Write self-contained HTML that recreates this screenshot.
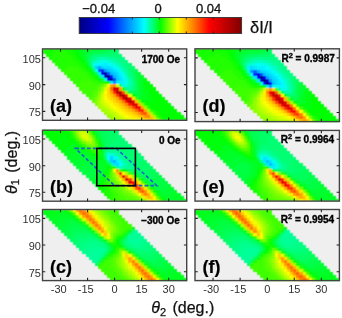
<!DOCTYPE html>
<html><head><meta charset="utf-8"><style>
html,body{margin:0;padding:0;background:#fff;}
svg{display:block;will-change:transform;}
text{font-family:"Liberation Sans",sans-serif;fill:#1a1a1a;}
.tk{font-size:11px;fill:#303030;}
.cbl{font-size:13px;fill:#111;stroke:#111;stroke-width:0.3px;}
.dil{font-size:16.5px;fill:#111;stroke:#111;stroke-width:0.25px;}
.pl{font-size:18px;font-weight:bold;fill:#000;stroke:#000;stroke-width:0.2px;}
.ob{font-size:10px;font-weight:bold;fill:#000;stroke:#000;stroke-width:0.35px;}
.sup{font-size:7.5px;}
.al{font-size:16px;fill:#111;stroke:#111;stroke-width:0.25px;}
.th{font-style:italic;}
.sub{font-size:11px;}
</style></head><body>
<svg width="342" height="318" viewBox="0 0 342 318">
<defs><filter id="bl" x="-5%" y="-5%" width="110%" height="110%"><feConvolveMatrix order="3" kernelMatrix="1 2 1 2 8 2 1 2 1" divisor="20" edgeMode="none"/></filter></defs>
<rect x="0" y="0" width="342" height="318" fill="#fff"/>
<rect x="42.50" y="48.90" width="144.20" height="71.40" fill="#efefef"/>
<g shape-rendering="crispEdges" filter="url(#bl)"><path fill="#18ff00" d="M42.6 48.9H45.7V51.0H42.6zM45.7 48.9H48.7V51.0H45.7zM48.7 48.9H51.8V51.0H48.7zM51.8 48.9H54.8V51.0H51.8zM54.8 48.9H57.9V51.0H54.8zM57.9 48.9H61.0V51.0H57.9zM61.0 48.9H64.0V51.0H61.0zM64.0 48.9H67.1V51.0H64.0zM67.1 48.9H70.2V51.0H67.1zM42.6 51.0H45.7V54.0H42.6zM45.7 51.0H48.7V54.0H45.7zM48.7 51.0H51.8V54.0H48.7zM51.8 51.0H54.8V54.0H51.8zM67.1 51.0H70.2V54.0H67.1zM70.2 51.0H73.2V54.0H70.2zM45.7 54.0H48.7V57.1H45.7zM48.7 54.0H51.8V57.1H48.7zM70.2 54.0H73.2V57.1H70.2zM73.2 54.0H76.3V57.1H73.2zM48.7 57.1H51.8V60.1H48.7zM73.2 57.1H76.3V60.1H73.2zM76.3 60.1H79.4V63.1H76.3zM79.4 63.1H82.4V66.2H79.4zM82.4 66.2H85.5V69.2H82.4zM85.5 69.2H88.6V72.2H85.5zM88.6 72.2H91.6V75.3H88.6zM91.6 75.3H94.7V78.3H91.6zM94.7 78.3H97.7V81.4H94.7zM122.3 87.4H125.3V90.5H122.3zM143.7 102.6H146.8V105.6H143.7z"/>
<path fill="#0cff00" d="M70.2 48.9H73.2V51.0H70.2zM73.2 51.0H76.3V54.0H73.2zM76.3 57.1H79.4V60.1H76.3zM79.4 60.1H82.4V63.1H79.4zM82.4 63.1H85.5V66.2H82.4zM152.9 108.7H156.0V111.7H152.9zM156.0 111.7H159.0V114.7H156.0zM159.0 114.7H162.1V117.8H159.0zM162.1 117.8H165.2V120.3H162.1z"/>
<path fill="#00ff00" d="M73.2 48.9H76.3V51.0H73.2zM76.3 51.0H79.4V54.0H76.3zM76.3 54.0H79.4V57.1H76.3zM79.4 57.1H82.4V60.1H79.4zM85.5 66.2H88.6V69.2H85.5zM97.7 78.3H100.8V81.4H97.7zM106.9 81.4H110.0V84.4H106.9zM149.8 84.4H152.9V87.4H149.8zM149.8 87.4H152.9V90.5H149.8zM152.9 87.4H156.0V90.5H152.9zM149.8 90.5H152.9V93.5H149.8zM152.9 90.5H156.0V93.5H152.9zM156.0 90.5H159.0V93.5H156.0zM131.5 93.5H134.5V96.5H131.5zM152.9 93.5H156.0V96.5H152.9zM156.0 93.5H159.0V96.5H156.0zM159.0 93.5H162.1V96.5H159.0zM152.9 96.5H156.0V99.6H152.9zM156.0 96.5H159.0V99.6H156.0zM159.0 96.5H162.1V99.6H159.0zM162.1 96.5H165.2V99.6H162.1zM140.6 99.6H143.7V102.6H140.6zM152.9 99.6H156.0V102.6H152.9zM156.0 99.6H159.0V102.6H156.0zM159.0 99.6H162.1V102.6H159.0zM162.1 99.6H165.2V102.6H162.1zM165.2 99.6H168.2V102.6H165.2zM146.8 102.6H149.8V105.6H146.8zM149.8 102.6H152.9V105.6H149.8zM152.9 102.6H156.0V105.6H152.9zM156.0 102.6H159.0V105.6H156.0zM159.0 102.6H162.1V105.6H159.0zM162.1 102.6H165.2V105.6H162.1zM165.2 102.6H168.2V105.6H165.2zM168.2 102.6H171.3V105.6H168.2zM149.8 105.6H152.9V108.7H149.8zM152.9 105.6H156.0V108.7H152.9zM156.0 105.6H159.0V108.7H156.0zM159.0 105.6H162.1V108.7H159.0zM162.1 105.6H165.2V108.7H162.1zM165.2 105.6H168.2V108.7H165.2zM168.2 105.6H171.3V108.7H168.2zM171.3 105.6H174.4V108.7H171.3zM156.0 108.7H159.0V111.7H156.0zM159.0 108.7H162.1V111.7H159.0zM162.1 108.7H165.2V111.7H162.1zM165.2 108.7H168.2V111.7H165.2zM168.2 108.7H171.3V111.7H168.2zM171.3 108.7H174.4V111.7H171.3zM174.4 108.7H177.4V111.7H174.4zM159.0 111.7H162.1V114.7H159.0zM162.1 111.7H165.2V114.7H162.1zM165.2 111.7H168.2V114.7H165.2zM168.2 111.7H171.3V114.7H168.2zM171.3 111.7H174.4V114.7H171.3zM174.4 111.7H177.4V114.7H174.4zM177.4 111.7H180.5V114.7H177.4zM162.1 114.7H165.2V117.8H162.1zM165.2 114.7H168.2V117.8H165.2zM168.2 114.7H171.3V117.8H168.2zM171.3 114.7H174.4V117.8H171.3zM174.4 114.7H177.4V117.8H174.4zM177.4 114.7H180.5V117.8H177.4zM180.5 114.7H183.5V117.8H180.5zM165.2 117.8H168.2V120.3H165.2zM168.2 117.8H171.3V120.3H168.2zM171.3 117.8H174.4V120.3H171.3zM174.4 117.8H177.4V120.3H174.4zM177.4 117.8H180.5V120.3H177.4zM180.5 117.8H183.5V120.3H180.5zM183.5 117.8H186.6V120.3H183.5z"/>
<path fill="#00ff0d" d="M76.3 48.9H79.4V51.0H76.3zM79.4 54.0H82.4V57.1H79.4zM82.4 60.1H85.5V63.1H82.4zM88.6 69.2H91.6V72.2H88.6zM91.6 72.2H94.7V75.3H91.6zM94.7 75.3H97.7V78.3H94.7zM143.7 78.3H146.8V81.4H143.7zM143.7 81.4H146.8V84.4H143.7zM146.8 81.4H149.8V84.4H146.8zM143.7 84.4H146.8V87.4H143.7zM146.8 84.4H149.8V87.4H146.8zM143.7 87.4H146.8V90.5H143.7zM146.8 87.4H149.8V90.5H146.8zM146.8 90.5H149.8V93.5H146.8zM146.8 93.5H149.8V96.5H146.8zM149.8 93.5H152.9V96.5H149.8zM146.8 96.5H149.8V99.6H146.8zM149.8 96.5H152.9V99.6H149.8zM143.7 99.6H146.8V102.6H143.7zM146.8 99.6H149.8V102.6H146.8zM149.8 99.6H152.9V102.6H149.8z"/>
<path fill="#00ff1a" d="M79.4 48.9H82.4V51.0H79.4zM82.4 48.9H85.5V51.0H82.4zM79.4 51.0H82.4V54.0H79.4zM82.4 57.1H85.5V60.1H82.4zM85.5 63.1H88.6V66.2H85.5zM140.6 78.3H143.7V81.4H140.6zM140.6 81.4H143.7V84.4H140.6zM140.6 84.4H143.7V87.4H140.6zM143.7 90.5H146.8V93.5H143.7zM143.7 93.5H146.8V96.5H143.7zM137.6 96.5H140.6V99.6H137.6zM140.6 96.5H143.7V99.6H140.6zM143.7 96.5H146.8V99.6H143.7z"/>
<path fill="#00ff26" d="M85.5 48.9H88.6V51.0H85.5zM88.6 48.9H91.6V51.0H88.6zM82.4 51.0H85.5V54.0H82.4zM82.4 54.0H85.5V57.1H82.4zM140.6 75.3H143.7V78.3H140.6zM140.6 87.4H143.7V90.5H140.6zM140.6 90.5H143.7V93.5H140.6zM140.6 93.5H143.7V96.5H140.6z"/>
<path fill="#00ff33" d="M91.6 48.9H94.7V51.0H91.6zM94.7 48.9H97.7V51.0H94.7zM97.7 48.9H100.8V51.0H97.7zM100.8 48.9H103.9V51.0H100.8zM85.5 51.0H88.6V54.0H85.5zM88.6 66.2H91.6V69.2H88.6zM137.6 72.2H140.6V75.3H137.6zM137.6 75.3H140.6V78.3H137.6zM100.8 78.3H103.9V81.4H100.8zM137.6 78.3H140.6V81.4H137.6zM137.6 81.4H140.6V84.4H137.6zM137.6 84.4H140.6V87.4H137.6zM137.6 87.4H140.6V90.5H137.6zM137.6 90.5H140.6V93.5H137.6zM134.5 93.5H137.6V96.5H134.5zM137.6 93.5H140.6V96.5H137.6z"/>
<path fill="#00ff40" d="M103.9 48.9H106.9V51.0H103.9zM88.6 51.0H91.6V54.0H88.6zM85.5 54.0H88.6V57.1H85.5zM85.5 57.1H88.6V60.1H85.5zM85.5 60.1H88.6V63.1H85.5zM91.6 69.2H94.7V72.2H91.6zM128.4 90.5H131.5V93.5H128.4z"/>
<path fill="#00ff4d" d="M106.9 48.9H110.0V51.0H106.9zM91.6 51.0H94.7V54.0H91.6zM94.7 51.0H97.7V54.0H94.7zM97.7 51.0H100.8V54.0H97.7zM100.8 51.0H103.9V54.0H100.8zM134.5 69.2H137.6V72.2H134.5zM94.7 72.2H97.7V75.3H94.7zM134.5 72.2H137.6V75.3H134.5zM97.7 75.3H100.8V78.3H97.7zM134.5 75.3H137.6V78.3H134.5zM134.5 78.3H137.6V81.4H134.5zM134.5 81.4H137.6V84.4H134.5zM134.5 90.5H137.6V93.5H134.5z"/>
<path fill="#00ff59" d="M110.0 48.9H113.1V51.0H110.0zM113.1 48.9H116.1V51.0H113.1zM103.9 51.0H106.9V54.0H103.9zM106.9 51.0H110.0V54.0H106.9zM88.6 54.0H91.6V57.1H88.6zM134.5 84.4H137.6V87.4H134.5zM134.5 87.4H137.6V90.5H134.5zM131.5 90.5H134.5V93.5H131.5z"/>
<path fill="#00ff66" d="M116.1 48.9H119.2V51.0H116.1zM110.0 51.0H113.1V54.0H110.0zM113.1 51.0H116.1V54.0H113.1zM91.6 54.0H94.7V57.1H91.6zM88.6 57.1H91.6V60.1H88.6zM88.6 63.1H91.6V66.2H88.6zM131.5 66.2H134.5V69.2H131.5zM131.5 69.2H134.5V72.2H131.5zM131.5 72.2H134.5V75.3H131.5zM131.5 75.3H134.5V78.3H131.5zM119.2 84.4H122.3V87.4H119.2z"/>
<path fill="#24ff00" d="M54.8 51.0H57.9V54.0H54.8zM57.9 51.0H61.0V54.0H57.9zM61.0 51.0H64.0V54.0H61.0zM64.0 51.0H67.1V54.0H64.0zM51.8 54.0H54.8V57.1H51.8zM54.8 54.0H57.9V57.1H54.8zM57.9 54.0H61.0V57.1H57.9zM61.0 54.0H64.0V57.1H61.0zM64.0 54.0H67.1V57.1H64.0zM67.1 54.0H70.2V57.1H67.1zM51.8 57.1H54.8V60.1H51.8zM54.8 57.1H57.9V60.1H54.8zM57.9 57.1H61.0V60.1H57.9zM61.0 57.1H64.0V60.1H61.0zM64.0 57.1H67.1V60.1H64.0zM67.1 57.1H70.2V60.1H67.1zM70.2 57.1H73.2V60.1H70.2zM51.8 60.1H54.8V63.1H51.8zM54.8 60.1H57.9V63.1H54.8zM57.9 60.1H61.0V63.1H57.9zM61.0 60.1H64.0V63.1H61.0zM64.0 60.1H67.1V63.1H64.0zM67.1 60.1H70.2V63.1H67.1zM70.2 60.1H73.2V63.1H70.2zM73.2 60.1H76.3V63.1H73.2zM54.8 63.1H57.9V66.2H54.8zM57.9 63.1H61.0V66.2H57.9zM61.0 63.1H64.0V66.2H61.0zM64.0 63.1H67.1V66.2H64.0zM67.1 63.1H70.2V66.2H67.1zM70.2 63.1H73.2V66.2H70.2zM73.2 63.1H76.3V66.2H73.2zM76.3 63.1H79.4V66.2H76.3zM57.9 66.2H61.0V69.2H57.9zM61.0 66.2H64.0V69.2H61.0zM64.0 66.2H67.1V69.2H64.0zM79.4 66.2H82.4V69.2H79.4zM61.0 69.2H64.0V72.2H61.0zM82.4 69.2H85.5V72.2H82.4zM85.5 72.2H88.6V75.3H85.5zM88.6 75.3H91.6V78.3H88.6zM91.6 78.3H94.7V81.4H91.6zM97.7 81.4H100.8V84.4H97.7zM100.8 81.4H103.9V84.4H100.8zM103.9 81.4H106.9V84.4H103.9zM146.8 105.6H149.8V108.7H146.8zM149.8 108.7H152.9V111.7H149.8z"/>
<path fill="#00ff73" d="M116.1 51.0H119.2V54.0H116.1zM94.7 54.0H97.7V57.1H94.7zM97.7 54.0H100.8V57.1H97.7zM103.9 54.0H106.9V57.1H103.9zM106.9 54.0H110.0V57.1H106.9zM110.0 54.0H113.1V57.1H110.0zM113.1 54.0H116.1V57.1H113.1zM116.1 54.0H119.2V57.1H116.1zM119.2 54.0H122.3V57.1H119.2zM88.6 60.1H91.6V63.1H88.6zM128.4 63.1H131.5V66.2H128.4zM128.4 66.2H131.5V69.2H128.4zM128.4 69.2H131.5V72.2H128.4zM131.5 78.3H134.5V81.4H131.5zM131.5 87.4H134.5V90.5H131.5z"/>
<path fill="#00ff80" d="M100.8 54.0H103.9V57.1H100.8zM91.6 57.1H94.7V60.1H91.6zM116.1 57.1H119.2V60.1H116.1zM119.2 57.1H122.3V60.1H119.2zM122.3 57.1H125.3V60.1H122.3zM122.3 60.1H125.3V63.1H122.3zM125.3 60.1H128.4V63.1H125.3zM125.3 63.1H128.4V66.2H125.3zM125.3 66.2H128.4V69.2H125.3zM128.4 72.2H131.5V75.3H128.4zM131.5 81.4H134.5V84.4H131.5zM131.5 84.4H134.5V87.4H131.5z"/>
<path fill="#00ff99" d="M94.7 57.1H97.7V60.1H94.7zM106.9 57.1H110.0V60.1H106.9zM110.0 57.1H113.1V60.1H110.0zM116.1 60.1H119.2V63.1H116.1zM119.2 63.1H122.3V66.2H119.2zM122.3 66.2H125.3V69.2H122.3zM125.3 69.2H128.4V72.2H125.3zM128.4 87.4H131.5V90.5H128.4z"/>
<path fill="#00ffa6" d="M97.7 57.1H100.8V60.1H97.7zM103.9 57.1H106.9V60.1H103.9zM91.6 60.1H94.7V63.1H91.6zM113.1 60.1H116.1V63.1H113.1zM91.6 66.2H94.7V69.2H91.6zM125.3 72.2H128.4V75.3H125.3zM128.4 78.3H131.5V81.4H128.4zM128.4 84.4H131.5V87.4H128.4z"/>
<path fill="#00ffb3" d="M100.8 57.1H103.9V60.1H100.8zM116.1 63.1H119.2V66.2H116.1zM122.3 69.2H125.3V72.2H122.3zM128.4 81.4H131.5V84.4H128.4z"/>
<path fill="#00ff8c" d="M113.1 57.1H116.1V60.1H113.1zM119.2 60.1H122.3V63.1H119.2zM122.3 63.1H125.3V66.2H122.3zM128.4 75.3H131.5V78.3H128.4zM125.3 87.4H128.4V90.5H125.3z"/>
<path fill="#00ffbf" d="M94.7 60.1H97.7V63.1H94.7zM110.0 60.1H113.1V63.1H110.0zM119.2 66.2H122.3V69.2H119.2zM125.3 75.3H128.4V78.3H125.3z"/>
<path fill="#00ffd9" d="M97.7 60.1H100.8V63.1H97.7zM106.9 60.1H110.0V63.1H106.9zM91.6 63.1H94.7V66.2H91.6zM113.1 63.1H116.1V66.2H113.1zM122.3 72.2H125.3V75.3H122.3zM103.9 78.3H106.9V81.4H103.9zM125.3 78.3H128.4V81.4H125.3zM122.3 84.4H125.3V87.4H122.3zM125.3 84.4H128.4V87.4H125.3z"/>
<path fill="#00ffe6" d="M100.8 60.1H103.9V63.1H100.8zM103.9 60.1H106.9V63.1H103.9zM116.1 66.2H119.2V69.2H116.1zM119.2 69.2H122.3V72.2H119.2zM125.3 81.4H128.4V84.4H125.3z"/>
<path fill="#00f9ff" d="M94.7 63.1H97.7V66.2H94.7zM97.7 63.1H100.8V66.2H97.7zM106.9 63.1H110.0V66.2H106.9zM113.1 66.2H116.1V69.2H113.1zM119.2 72.2H122.3V75.3H119.2z"/>
<path fill="#00f4ff" d="M100.8 63.1H103.9V66.2H100.8zM116.1 69.2H119.2V72.2H116.1zM122.3 78.3H125.3V81.4H122.3zM122.3 81.4H125.3V84.4H122.3z"/>
<path fill="#00eeff" d="M103.9 63.1H106.9V66.2H103.9zM116.1 81.4H119.2V84.4H116.1zM119.2 81.4H122.3V84.4H119.2z"/>
<path fill="#00fff2" d="M110.0 63.1H113.1V66.2H110.0zM94.7 69.2H97.7V72.2H94.7z"/>
<path fill="#31ff00" d="M67.1 66.2H70.2V69.2H67.1zM70.2 66.2H73.2V69.2H70.2zM73.2 66.2H76.3V69.2H73.2zM76.3 66.2H79.4V69.2H76.3zM64.0 69.2H67.1V72.2H64.0zM67.1 69.2H70.2V72.2H67.1zM70.2 69.2H73.2V72.2H70.2zM73.2 69.2H76.3V72.2H73.2zM76.3 69.2H79.4V72.2H76.3zM79.4 69.2H82.4V72.2H79.4zM64.0 72.2H67.1V75.3H64.0zM67.1 72.2H70.2V75.3H67.1zM70.2 72.2H73.2V75.3H70.2zM73.2 72.2H76.3V75.3H73.2zM76.3 72.2H79.4V75.3H76.3zM79.4 72.2H82.4V75.3H79.4zM82.4 72.2H85.5V75.3H82.4zM67.1 75.3H70.2V78.3H67.1zM70.2 75.3H73.2V78.3H70.2zM73.2 75.3H76.3V78.3H73.2zM76.3 75.3H79.4V78.3H76.3zM79.4 75.3H82.4V78.3H79.4zM82.4 75.3H85.5V78.3H82.4zM85.5 75.3H88.6V78.3H85.5zM70.2 78.3H73.2V81.4H70.2zM73.2 78.3H76.3V81.4H73.2zM76.3 78.3H79.4V81.4H76.3zM79.4 78.3H82.4V81.4H79.4zM82.4 78.3H85.5V81.4H82.4zM85.5 78.3H88.6V81.4H85.5zM88.6 78.3H91.6V81.4H88.6zM73.2 81.4H76.3V84.4H73.2zM76.3 81.4H79.4V84.4H76.3zM91.6 81.4H94.7V84.4H91.6zM94.7 81.4H97.7V84.4H94.7zM76.3 84.4H79.4V87.4H76.3zM152.9 111.7H156.0V114.7H152.9zM156.0 114.7H159.0V117.8H156.0zM159.0 117.8H162.1V120.3H159.0z"/>
<path fill="#00c6ff" d="M94.7 66.2H97.7V69.2H94.7zM106.9 69.2H110.0V72.2H106.9z"/>
<path fill="#00a9ff" d="M97.7 66.2H100.8V69.2H97.7z"/>
<path fill="#00d1ff" d="M100.8 66.2H103.9V69.2H100.8zM110.0 69.2H113.1V72.2H110.0zM116.1 75.3H119.2V78.3H116.1z"/>
<path fill="#00ddff" d="M103.9 66.2H106.9V69.2H103.9zM106.9 66.2H110.0V69.2H106.9zM116.1 72.2H119.2V75.3H116.1z"/>
<path fill="#00e8ff" d="M110.0 66.2H113.1V69.2H110.0zM97.7 72.2H100.8V75.3H97.7zM100.8 75.3H103.9V78.3H100.8zM119.2 75.3H122.3V78.3H119.2z"/>
<path fill="#004dff" d="M97.7 69.2H100.8V72.2H97.7z"/>
<path fill="#001fff" d="M100.8 69.2H103.9V72.2H100.8zM110.0 75.3H113.1V78.3H110.0z"/>
<path fill="#0098ff" d="M103.9 69.2H106.9V72.2H103.9z"/>
<path fill="#00e2ff" d="M113.1 69.2H116.1V72.2H113.1zM119.2 78.3H122.3V81.4H119.2zM110.0 81.4H113.1V84.4H110.0z"/>
<path fill="#0000e7" d="M100.8 72.2H103.9V75.3H100.8z"/>
<path fill="#0000aa" d="M103.9 72.2H106.9V75.3H103.9z"/>
<path fill="#0053ff" d="M106.9 72.2H110.0V75.3H106.9z"/>
<path fill="#00baff" d="M110.0 72.2H113.1V75.3H110.0z"/>
<path fill="#00cbff" d="M113.1 72.2H116.1V75.3H113.1zM116.1 78.3H119.2V81.4H116.1z"/>
<path fill="#0000cb" d="M103.9 75.3H106.9V78.3H103.9z"/>
<path fill="#000080" d="M106.9 75.3H110.0V78.3H106.9z"/>
<path fill="#00b4ff" d="M113.1 75.3H116.1V78.3H113.1z"/>
<path fill="#00ffff" d="M122.3 75.3H125.3V78.3H122.3z"/>
<path fill="#0000fd" d="M106.9 78.3H110.0V81.4H106.9z"/>
<path fill="#00009c" d="M110.0 78.3H113.1V81.4H110.0z"/>
<path fill="#0047ff" d="M113.1 78.3H116.1V81.4H113.1z"/>
<path fill="#3dff00" d="M79.4 81.4H82.4V84.4H79.4zM82.4 81.4H85.5V84.4H82.4zM85.5 81.4H88.6V84.4H85.5zM88.6 81.4H91.6V84.4H88.6zM79.4 84.4H82.4V87.4H79.4zM82.4 84.4H85.5V87.4H82.4zM85.5 84.4H88.6V87.4H85.5zM88.6 84.4H91.6V87.4H88.6zM91.6 84.4H94.7V87.4H91.6zM94.7 84.4H97.7V87.4H94.7zM79.4 87.4H82.4V90.5H79.4zM82.4 87.4H85.5V90.5H82.4zM85.5 87.4H88.6V90.5H85.5zM88.6 87.4H91.6V90.5H88.6zM91.6 87.4H94.7V90.5H91.6zM82.4 90.5H85.5V93.5H82.4zM85.5 90.5H88.6V93.5H85.5zM88.6 90.5H91.6V93.5H88.6zM85.5 93.5H88.6V96.5H85.5zM88.6 93.5H91.6V96.5H88.6zM134.5 96.5H137.6V99.6H134.5z"/>
<path fill="#008cff" d="M113.1 81.4H116.1V84.4H113.1z"/>
<path fill="#49ff00" d="M97.7 84.4H100.8V87.4H97.7zM94.7 87.4H97.7V90.5H94.7zM91.6 90.5H94.7V93.5H91.6zM91.6 93.5H94.7V96.5H91.6zM88.6 96.5H91.6V99.6H88.6z"/>
<path fill="#61ff00" d="M100.8 84.4H103.9V87.4H100.8zM97.7 87.4H100.8V90.5H97.7zM94.7 93.5H97.7V96.5H94.7zM91.6 99.6H94.7V102.6H91.6zM137.6 99.6H140.6V102.6H137.6z"/>
<path fill="#92ff00" d="M103.9 84.4H106.9V87.4H103.9zM100.8 87.4H103.9V90.5H100.8zM97.7 93.5H100.8V96.5H97.7zM143.7 105.6H146.8V108.7H143.7zM106.9 114.7H110.0V117.8H106.9zM110.0 117.8H113.1V120.3H110.0zM156.0 117.8H159.0V120.3H156.0z"/>
<path fill="#f3ff00" d="M106.9 84.4H110.0V87.4H106.9zM116.1 108.7H119.2V111.7H116.1zM119.2 111.7H122.3V114.7H119.2z"/>
<path fill="#ffa300" d="M110.0 84.4H113.1V87.4H110.0zM110.0 90.5H113.1V93.5H110.0zM116.1 96.5H119.2V99.6H116.1zM140.6 105.6H143.7V108.7H140.6zM131.5 108.7H134.5V111.7H131.5z"/>
<path fill="#ff9000" d="M113.1 84.4H116.1V87.4H113.1zM128.4 105.6H131.5V108.7H128.4zM137.6 111.7H140.6V114.7H137.6zM143.7 114.7H146.8V117.8H143.7z"/>
<path fill="#dbff00" d="M116.1 84.4H119.2V87.4H116.1zM103.9 87.4H106.9V90.5H103.9zM116.1 111.7H119.2V114.7H116.1zM125.3 117.8H128.4V120.3H125.3z"/>
<path fill="#ffde00" d="M106.9 87.4H110.0V90.5H106.9zM106.9 93.5H110.0V96.5H106.9zM131.5 96.5H134.5V99.6H131.5zM116.1 102.6H119.2V105.6H116.1zM119.2 105.6H122.3V108.7H119.2zM128.4 111.7H131.5V114.7H128.4zM134.5 114.7H137.6V117.8H134.5z"/>
<path fill="#ff6900" d="M110.0 87.4H113.1V90.5H110.0zM122.3 99.6H125.3V102.6H122.3zM134.5 108.7H137.6V111.7H134.5z"/>
<path fill="#d60000" d="M113.1 87.4H116.1V90.5H113.1zM116.1 87.4H119.2V90.5H116.1z"/>
<path fill="#ff9d00" d="M119.2 87.4H122.3V90.5H119.2zM113.1 93.5H116.1V96.5H113.1z"/>
<path fill="#55ff00" d="M94.7 90.5H97.7V93.5H94.7zM91.6 96.5H94.7V99.6H91.6z"/>
<path fill="#79ff00" d="M97.7 90.5H100.8V93.5H97.7zM94.7 96.5H97.7V99.6H94.7zM140.6 102.6H143.7V105.6H140.6z"/>
<path fill="#b6ff00" d="M100.8 90.5H103.9V93.5H100.8zM106.9 108.7H110.0V111.7H106.9zM110.0 111.7H113.1V114.7H110.0zM113.1 114.7H116.1V117.8H113.1zM119.2 117.8H122.3V120.3H119.2z"/>
<path fill="#ffff00" d="M103.9 90.5H106.9V93.5H103.9zM103.9 96.5H106.9V99.6H103.9zM110.0 102.6H113.1V105.6H110.0zM113.1 105.6H116.1V108.7H113.1zM125.3 114.7H128.4V117.8H125.3zM131.5 117.8H134.5V120.3H131.5z"/>
<path fill="#ffd800" d="M106.9 90.5H110.0V93.5H106.9zM110.0 96.5H113.1V99.6H110.0zM113.1 99.6H116.1V102.6H113.1zM143.7 117.8H146.8V120.3H143.7z"/>
<path fill="#ff2700" d="M113.1 90.5H116.1V93.5H113.1z"/>
<path fill="#bc0000" d="M116.1 90.5H119.2V93.5H116.1z"/>
<path fill="#b20000" d="M119.2 90.5H122.3V93.5H119.2z"/>
<path fill="#ff4e00" d="M122.3 90.5H125.3V93.5H122.3zM119.2 96.5H122.3V99.6H119.2zM143.7 111.7H146.8V114.7H143.7z"/>
<path fill="#86ff00" d="M125.3 90.5H128.4V93.5H125.3zM94.7 99.6H97.7V102.6H94.7zM94.7 102.6H97.7V105.6H94.7z"/>
<path fill="#ceff00" d="M100.8 93.5H103.9V96.5H100.8zM100.8 96.5H103.9V99.6H100.8zM100.8 99.6H103.9V102.6H100.8zM103.9 102.6H106.9V105.6H103.9zM106.9 105.6H110.0V108.7H106.9zM110.0 108.7H113.1V111.7H110.0zM119.2 114.7H122.3V117.8H119.2zM122.3 117.8H125.3V120.3H122.3z"/>
<path fill="#fff800" d="M103.9 93.5H106.9V96.5H103.9zM106.9 99.6H110.0V102.6H106.9zM122.3 111.7H125.3V114.7H122.3zM134.5 117.8H137.6V120.3H134.5z"/>
<path fill="#ffc400" d="M110.0 93.5H113.1V96.5H110.0zM113.1 96.5H116.1V99.6H113.1zM116.1 99.6H119.2V102.6H116.1zM146.8 117.8H149.8V120.3H146.8z"/>
<path fill="#ff3400" d="M116.1 93.5H119.2V96.5H116.1z"/>
<path fill="#c60000" d="M119.2 93.5H122.3V96.5H119.2z"/>
<path fill="#a60000" d="M122.3 93.5H125.3V96.5H122.3z"/>
<path fill="#ff0d00" d="M125.3 93.5H128.4V96.5H125.3z"/>
<path fill="#e7ff00" d="M128.4 93.5H131.5V96.5H128.4zM103.9 99.6H106.9V102.6H103.9zM106.9 102.6H110.0V105.6H106.9zM110.0 105.6H113.1V108.7H110.0zM113.1 108.7H116.1V111.7H113.1zM122.3 114.7H125.3V117.8H122.3zM128.4 117.8H131.5V120.3H128.4z"/>
<path fill="#9eff00" d="M97.7 96.5H100.8V99.6H97.7zM97.7 105.6H100.8V108.7H97.7zM100.8 108.7H103.9V111.7H100.8zM146.8 108.7H149.8V111.7H146.8zM103.9 111.7H106.9V114.7H103.9zM149.8 111.7H152.9V114.7H149.8zM110.0 114.7H113.1V117.8H110.0zM152.9 114.7H156.0V117.8H152.9zM113.1 117.8H116.1V120.3H113.1z"/>
<path fill="#ffeb00" d="M106.9 96.5H110.0V99.6H106.9zM110.0 99.6H113.1V102.6H110.0zM113.1 102.6H116.1V105.6H113.1zM125.3 111.7H128.4V114.7H125.3z"/>
<path fill="#d90000" d="M122.3 96.5H125.3V99.6H122.3z"/>
<path fill="#a90000" d="M125.3 96.5H128.4V99.6H125.3z"/>
<path fill="#f20000" d="M128.4 96.5H131.5V99.6H128.4zM125.3 99.6H128.4V102.6H125.3z"/>
<path fill="#aaff00" d="M97.7 99.6H100.8V102.6H97.7zM97.7 102.6H100.8V105.6H97.7zM100.8 105.6H103.9V108.7H100.8zM103.9 108.7H106.9V111.7H103.9zM106.9 111.7H110.0V114.7H106.9zM116.1 117.8H119.2V120.3H116.1z"/>
<path fill="#ffaa00" d="M119.2 99.6H122.3V102.6H119.2zM137.6 102.6H140.6V105.6H137.6zM143.7 108.7H146.8V111.7H143.7z"/>
<path fill="#b90000" d="M128.4 99.6H131.5V102.6H128.4z"/>
<path fill="#ec0000" d="M131.5 99.6H134.5V102.6H131.5z"/>
<path fill="#ffbe00" d="M134.5 99.6H137.6V102.6H134.5zM128.4 108.7H131.5V111.7H128.4z"/>
<path fill="#c2ff00" d="M100.8 102.6H103.9V105.6H100.8zM103.9 105.6H106.9V108.7H103.9zM113.1 111.7H116.1V114.7H113.1zM116.1 114.7H119.2V117.8H116.1z"/>
<path fill="#ffcb00" d="M119.2 102.6H122.3V105.6H119.2zM122.3 105.6H125.3V108.7H122.3zM131.5 111.7H134.5V114.7H131.5zM137.6 114.7H140.6V117.8H137.6zM149.8 114.7H152.9V117.8H149.8z"/>
<path fill="#ffb100" d="M122.3 102.6H125.3V105.6H122.3z"/>
<path fill="#ff7c00" d="M125.3 102.6H128.4V105.6H125.3z"/>
<path fill="#ff1400" d="M128.4 102.6H131.5V105.6H128.4z"/>
<path fill="#d20000" d="M131.5 102.6H134.5V105.6H131.5z"/>
<path fill="#ef0000" d="M134.5 102.6H137.6V105.6H134.5zM134.5 105.6H137.6V108.7H134.5z"/>
<path fill="#fff200" d="M116.1 105.6H119.2V108.7H116.1zM119.2 108.7H122.3V111.7H119.2zM128.4 114.7H131.5V117.8H128.4zM137.6 117.8H140.6V120.3H137.6z"/>
<path fill="#ffb700" d="M125.3 105.6H128.4V108.7H125.3zM134.5 111.7H137.6V114.7H134.5zM146.8 111.7H149.8V114.7H146.8zM140.6 114.7H143.7V117.8H140.6zM149.8 117.8H152.9V120.3H149.8z"/>
<path fill="#ff4100" d="M131.5 105.6H134.5V108.7H131.5z"/>
<path fill="#fc0000" d="M137.6 105.6H140.6V108.7H137.6z"/>
<path fill="#ffe500" d="M122.3 108.7H125.3V111.7H122.3zM131.5 114.7H134.5V117.8H131.5zM140.6 117.8H143.7V120.3H140.6zM152.9 117.8H156.0V120.3H152.9z"/>
<path fill="#ffd100" d="M125.3 108.7H128.4V111.7H125.3z"/>
<path fill="#ff2100" d="M137.6 108.7H140.6V111.7H137.6zM140.6 108.7H143.7V111.7H140.6z"/>
<path fill="#ff5c00" d="M140.6 111.7H143.7V114.7H140.6z"/>
<path fill="#ff8300" d="M146.8 114.7H149.8V117.8H146.8z"/></g>
<rect x="42.50" y="130.20" width="144.20" height="71.00" fill="#efefef"/>
<g shape-rendering="crispEdges" filter="url(#bl)"><path fill="#00ff00" d="M42.6 130.2H45.7V132.3H42.6zM45.7 130.2H48.7V132.3H45.7zM48.7 130.2H51.8V132.3H48.7zM51.8 130.2H54.8V132.3H51.8zM54.8 130.2H57.9V132.3H54.8zM57.9 130.2H61.0V132.3H57.9zM61.0 130.2H64.0V132.3H61.0zM64.0 130.2H67.1V132.3H64.0zM42.6 132.3H45.7V135.3H42.6zM45.7 132.3H48.7V135.3H45.7zM48.7 132.3H51.8V135.3H48.7zM51.8 132.3H54.8V135.3H51.8zM54.8 132.3H57.9V135.3H54.8zM57.9 132.3H61.0V135.3H57.9zM61.0 132.3H64.0V135.3H61.0zM64.0 132.3H67.1V135.3H64.0zM67.1 132.3H70.2V135.3H67.1zM45.7 135.3H48.7V138.3H45.7zM48.7 135.3H51.8V138.3H48.7zM51.8 135.3H54.8V138.3H51.8zM54.8 135.3H57.9V138.3H54.8zM57.9 135.3H61.0V138.3H57.9zM67.1 135.3H70.2V138.3H67.1zM48.7 138.3H51.8V141.3H48.7zM51.8 138.3H54.8V141.3H51.8zM54.8 138.3H57.9V141.3H54.8zM70.2 138.3H73.2V141.3H70.2zM51.8 141.3H54.8V144.4H51.8zM97.7 141.3H100.8V144.4H97.7zM82.4 147.4H85.5V150.4H82.4zM91.6 153.4H94.7V156.4H91.6zM106.9 165.5H110.0V168.5H106.9zM122.3 168.5H125.3V171.5H122.3zM103.9 174.5H106.9V177.6H103.9zM100.8 180.6H103.9V183.6H100.8zM97.7 186.6H100.8V189.6H97.7zM162.1 198.7H165.2V201.2H162.1z"/>
<path fill="#0cff00" d="M67.1 130.2H70.2V132.3H67.1zM91.6 132.3H94.7V135.3H91.6zM70.2 135.3H73.2V138.3H70.2zM73.2 138.3H76.3V141.3H73.2zM76.3 141.3H79.4V144.4H76.3zM79.4 144.4H82.4V147.4H79.4zM97.7 144.4H100.8V147.4H97.7zM88.6 150.4H91.6V153.4H88.6zM94.7 153.4H97.7V156.4H94.7zM97.7 153.4H100.8V156.4H97.7zM106.9 168.5H110.0V171.5H106.9zM134.5 174.5H137.6V177.6H134.5zM103.9 177.6H106.9V180.6H103.9zM100.8 183.6H103.9V186.6H100.8zM100.8 186.6H103.9V189.6H100.8zM149.8 186.6H152.9V189.6H149.8zM100.8 189.6H103.9V192.6H100.8zM152.9 189.6H156.0V192.6H152.9zM156.0 192.6H159.0V195.7H156.0zM159.0 195.7H162.1V198.7H159.0z"/>
<path fill="#31ff00" d="M70.2 130.2H73.2V132.3H70.2zM73.2 135.3H76.3V138.3H73.2zM82.4 144.4H85.5V147.4H82.4zM94.7 150.4H97.7V153.4H94.7zM106.9 177.6H110.0V180.6H106.9zM137.6 177.6H140.6V180.6H137.6zM106.9 180.6H110.0V183.6H106.9zM106.9 183.6H110.0V186.6H106.9zM110.0 189.6H113.1V192.6H110.0zM113.1 192.6H116.1V195.7H113.1zM113.1 195.7H116.1V198.7H113.1zM116.1 198.7H119.2V201.2H116.1z"/>
<path fill="#61ff00" d="M73.2 130.2H76.3V132.3H73.2zM85.5 130.2H88.6V132.3H85.5zM88.6 132.3H91.6V135.3H88.6zM85.5 144.4H88.6V147.4H85.5zM113.1 180.6H116.1V183.6H113.1zM116.1 183.6H119.2V186.6H116.1zM125.3 192.6H128.4V195.7H125.3zM131.5 195.7H134.5V198.7H131.5zM156.0 195.7H159.0V198.7H156.0z"/>
<path fill="#92ff00" d="M76.3 130.2H79.4V132.3H76.3zM76.3 132.3H79.4V135.3H76.3zM113.1 171.5H116.1V174.5H113.1zM131.5 174.5H134.5V177.6H131.5zM128.4 189.6H131.5V192.6H128.4z"/>
<path fill="#aaff00" d="M79.4 130.2H82.4V132.3H79.4zM88.6 141.3H91.6V144.4H88.6zM125.3 171.5H128.4V174.5H125.3zM134.5 192.6H137.6V195.7H134.5z"/>
<path fill="#9eff00" d="M82.4 130.2H85.5V132.3H82.4zM88.6 135.3H91.6V138.3H88.6zM85.5 141.3H88.6V144.4H85.5zM116.1 177.6H119.2V180.6H116.1zM119.2 180.6H122.3V183.6H119.2zM122.3 183.6H125.3V186.6H122.3zM125.3 186.6H128.4V189.6H125.3zM143.7 198.7H146.8V201.2H143.7z"/>
<path fill="#18ff00" d="M88.6 130.2H91.6V132.3H88.6zM70.2 132.3H73.2V135.3H70.2zM97.7 147.4H100.8V150.4H97.7zM97.7 150.4H100.8V153.4H97.7zM110.0 165.5H113.1V168.5H110.0zM106.9 171.5H110.0V174.5H106.9zM103.9 180.6H106.9V183.6H103.9zM103.9 183.6H106.9V186.6H103.9zM103.9 186.6H106.9V189.6H103.9zM103.9 189.6H106.9V192.6H103.9zM103.9 192.6H106.9V195.7H103.9zM106.9 195.7H110.0V198.7H106.9z"/>
<path fill="#00ff26" d="M91.6 130.2H94.7V132.3H91.6zM94.7 132.3H97.7V135.3H94.7zM97.7 138.3H100.8V141.3H97.7zM100.8 147.4H103.9V150.4H100.8zM73.2 150.4H76.3V153.4H73.2zM76.3 150.4H79.4V153.4H76.3zM79.4 150.4H82.4V153.4H79.4zM100.8 150.4H103.9V153.4H100.8zM70.2 153.4H73.2V156.4H70.2zM73.2 153.4H76.3V156.4H73.2zM76.3 153.4H79.4V156.4H76.3zM79.4 153.4H82.4V156.4H79.4zM82.4 153.4H85.5V156.4H82.4zM85.5 153.4H88.6V156.4H85.5zM100.8 153.4H103.9V156.4H100.8zM67.1 156.4H70.2V159.5H67.1zM70.2 156.4H73.2V159.5H70.2zM73.2 156.4H76.3V159.5H73.2zM76.3 156.4H79.4V159.5H76.3zM88.6 156.4H91.6V159.5H88.6zM91.6 156.4H94.7V159.5H91.6zM70.2 159.5H73.2V162.5H70.2zM73.2 159.5H76.3V162.5H73.2zM94.7 159.5H97.7V162.5H94.7zM103.9 159.5H106.9V162.5H103.9zM100.8 162.5H103.9V165.5H100.8zM106.9 162.5H110.0V165.5H106.9zM100.8 165.5H103.9V168.5H100.8zM125.3 168.5H128.4V171.5H125.3zM100.8 171.5H103.9V174.5H100.8zM131.5 171.5H134.5V174.5H131.5zM97.7 177.6H100.8V180.6H97.7zM140.6 177.6H143.7V180.6H140.6zM94.7 180.6H97.7V183.6H94.7zM94.7 183.6H97.7V186.6H94.7zM156.0 189.6H159.0V192.6H156.0zM174.4 189.6H177.4V192.6H174.4zM159.0 192.6H162.1V195.7H159.0zM171.3 192.6H174.4V195.7H171.3zM174.4 192.6H177.4V195.7H174.4zM177.4 192.6H180.5V195.7H177.4zM165.2 195.7H168.2V198.7H165.2zM168.2 195.7H171.3V198.7H168.2zM171.3 195.7H174.4V198.7H171.3zM174.4 195.7H177.4V198.7H174.4zM177.4 195.7H180.5V198.7H177.4zM180.5 195.7H183.5V198.7H180.5zM168.2 198.7H171.3V201.2H168.2zM171.3 198.7H174.4V201.2H171.3zM174.4 198.7H177.4V201.2H174.4zM177.4 198.7H180.5V201.2H177.4z"/>
<path fill="#00ff40" d="M94.7 130.2H97.7V132.3H94.7zM97.7 135.3H100.8V138.3H97.7zM100.8 141.3H103.9V144.4H100.8zM85.5 162.5H88.6V165.5H85.5zM88.6 162.5H91.6V165.5H88.6zM91.6 162.5H94.7V165.5H91.6zM82.4 165.5H85.5V168.5H82.4zM85.5 165.5H88.6V168.5H85.5zM88.6 165.5H91.6V168.5H88.6zM91.6 165.5H94.7V168.5H91.6zM94.7 165.5H97.7V168.5H94.7zM79.4 168.5H82.4V171.5H79.4zM82.4 168.5H85.5V171.5H82.4zM85.5 168.5H88.6V171.5H85.5zM88.6 168.5H91.6V171.5H88.6zM91.6 168.5H94.7V171.5H91.6zM94.7 168.5H97.7V171.5H94.7zM82.4 171.5H85.5V174.5H82.4zM85.5 171.5H88.6V174.5H85.5zM88.6 171.5H91.6V174.5H88.6zM91.6 171.5H94.7V174.5H91.6zM94.7 171.5H97.7V174.5H94.7zM85.5 174.5H88.6V177.6H85.5zM88.6 174.5H91.6V177.6H88.6zM91.6 174.5H94.7V177.6H91.6zM137.6 174.5H140.6V177.6H137.6zM88.6 177.6H91.6V180.6H88.6zM162.1 177.6H165.2V180.6H162.1zM146.8 180.6H149.8V183.6H146.8zM159.0 180.6H162.1V183.6H159.0zM162.1 180.6H165.2V183.6H162.1zM165.2 180.6H168.2V183.6H165.2zM152.9 183.6H156.0V186.6H152.9zM156.0 183.6H159.0V186.6H156.0zM159.0 183.6H162.1V186.6H159.0zM162.1 183.6H165.2V186.6H162.1zM165.2 183.6H168.2V186.6H165.2zM156.0 186.6H159.0V189.6H156.0zM159.0 186.6H162.1V189.6H159.0zM162.1 186.6H165.2V189.6H162.1z"/>
<path fill="#00ff4d" d="M97.7 130.2H100.8V132.3H97.7zM97.7 132.3H100.8V135.3H97.7zM100.8 138.3H103.9V141.3H100.8zM156.0 174.5H159.0V177.6H156.0zM159.0 174.5H162.1V177.6H159.0zM143.7 177.6H146.8V180.6H143.7zM152.9 177.6H156.0V180.6H152.9zM156.0 177.6H159.0V180.6H156.0zM159.0 177.6H162.1V180.6H159.0zM149.8 180.6H152.9V183.6H149.8zM152.9 180.6H156.0V183.6H152.9zM156.0 180.6H159.0V183.6H156.0z"/>
<path fill="#00ff59" d="M100.8 130.2H103.9V132.3H100.8zM103.9 130.2H106.9V132.3H103.9zM100.8 132.3H103.9V135.3H100.8zM103.9 132.3H106.9V135.3H103.9zM100.8 135.3H103.9V138.3H100.8zM103.9 135.3H106.9V138.3H103.9zM103.9 138.3H106.9V141.3H103.9zM103.9 141.3H106.9V144.4H103.9zM103.9 144.4H106.9V147.4H103.9zM103.9 147.4H106.9V150.4H103.9zM149.8 168.5H152.9V171.5H149.8zM152.9 168.5H156.0V171.5H152.9zM134.5 171.5H137.6V174.5H134.5zM146.8 171.5H149.8V174.5H146.8zM149.8 171.5H152.9V174.5H149.8zM152.9 171.5H156.0V174.5H152.9zM156.0 171.5H159.0V174.5H156.0zM140.6 174.5H143.7V177.6H140.6zM143.7 174.5H146.8V177.6H143.7zM146.8 174.5H149.8V177.6H146.8zM149.8 174.5H152.9V177.6H149.8zM152.9 174.5H156.0V177.6H152.9zM146.8 177.6H149.8V180.6H146.8zM149.8 177.6H152.9V180.6H149.8z"/>
<path fill="#00ff66" d="M106.9 130.2H110.0V132.3H106.9zM110.0 130.2H113.1V132.3H110.0zM113.1 130.2H116.1V132.3H113.1zM116.1 130.2H119.2V132.3H116.1zM106.9 132.3H110.0V135.3H106.9zM110.0 132.3H113.1V135.3H110.0zM113.1 132.3H116.1V135.3H113.1zM116.1 132.3H119.2V135.3H116.1zM106.9 135.3H110.0V138.3H106.9zM110.0 135.3H113.1V138.3H110.0zM113.1 135.3H116.1V138.3H113.1zM106.9 138.3H110.0V141.3H106.9zM110.0 138.3H113.1V141.3H110.0zM113.1 138.3H116.1V141.3H113.1zM106.9 141.3H110.0V144.4H106.9zM110.0 141.3H113.1V144.4H110.0zM106.9 144.4H110.0V147.4H106.9zM103.9 156.4H106.9V159.5H103.9zM140.6 159.5H143.7V162.5H140.6zM143.7 159.5H146.8V162.5H143.7zM140.6 162.5H143.7V165.5H140.6zM143.7 162.5H146.8V165.5H143.7zM146.8 162.5H149.8V165.5H146.8zM137.6 165.5H140.6V168.5H137.6zM140.6 165.5H143.7V168.5H140.6zM143.7 165.5H146.8V168.5H143.7zM146.8 165.5H149.8V168.5H146.8zM149.8 165.5H152.9V168.5H149.8zM128.4 168.5H131.5V171.5H128.4zM137.6 168.5H140.6V171.5H137.6zM140.6 168.5H143.7V171.5H140.6zM143.7 168.5H146.8V171.5H143.7zM146.8 168.5H149.8V171.5H146.8zM137.6 171.5H140.6V174.5H137.6zM140.6 171.5H143.7V174.5H140.6zM143.7 171.5H146.8V174.5H143.7z"/>
<path fill="#49ff00" d="M73.2 132.3H76.3V135.3H73.2zM91.6 135.3H94.7V138.3H91.6zM88.6 147.4H91.6V150.4H88.6zM94.7 147.4H97.7V150.4H94.7zM110.0 180.6H113.1V183.6H110.0zM140.6 180.6H143.7V183.6H140.6zM113.1 186.6H116.1V189.6H113.1zM116.1 189.6H119.2V192.6H116.1zM119.2 192.6H122.3V195.7H119.2zM119.2 195.7H122.3V198.7H119.2zM122.3 195.7H125.3V198.7H122.3zM125.3 198.7H128.4V201.2H125.3zM128.4 198.7H131.5V201.2H128.4zM131.5 198.7H134.5V201.2H131.5zM134.5 198.7H137.6V201.2H134.5zM159.0 198.7H162.1V201.2H159.0z"/>
<path fill="#ceff00" d="M79.4 132.3H82.4V135.3H79.4zM140.6 195.7H143.7V198.7H140.6z"/>
<path fill="#dbff00" d="M82.4 132.3H85.5V135.3H82.4zM85.5 135.3H88.6V138.3H85.5zM85.5 138.3H88.6V141.3H85.5zM128.4 186.6H131.5V189.6H128.4z"/>
<path fill="#b6ff00" d="M85.5 132.3H88.6V135.3H85.5zM79.4 135.3H82.4V138.3H79.4zM82.4 138.3H85.5V141.3H82.4zM156.0 198.7H159.0V201.2H156.0z"/>
<path fill="#00ff0d" d="M61.0 135.3H64.0V138.3H61.0zM64.0 135.3H67.1V138.3H64.0zM94.7 135.3H97.7V138.3H94.7zM57.9 138.3H61.0V141.3H57.9zM61.0 138.3H64.0V141.3H61.0zM64.0 138.3H67.1V141.3H64.0zM67.1 138.3H70.2V141.3H67.1zM54.8 141.3H57.9V144.4H54.8zM57.9 141.3H61.0V144.4H57.9zM61.0 141.3H64.0V144.4H61.0zM64.0 141.3H67.1V144.4H64.0zM67.1 141.3H70.2V144.4H67.1zM70.2 141.3H73.2V144.4H70.2zM73.2 141.3H76.3V144.4H73.2zM54.8 144.4H57.9V147.4H54.8zM57.9 144.4H61.0V147.4H57.9zM61.0 144.4H64.0V147.4H61.0zM64.0 144.4H67.1V147.4H64.0zM67.1 144.4H70.2V147.4H67.1zM76.3 144.4H79.4V147.4H76.3zM57.9 147.4H61.0V150.4H57.9zM61.0 147.4H64.0V150.4H61.0zM64.0 147.4H67.1V150.4H64.0zM79.4 147.4H82.4V150.4H79.4zM61.0 150.4H64.0V153.4H61.0zM85.5 150.4H88.6V153.4H85.5zM94.7 156.4H97.7V159.5H94.7zM97.7 156.4H100.8V159.5H97.7zM100.8 156.4H103.9V159.5H100.8zM103.9 171.5H106.9V174.5H103.9zM100.8 177.6H103.9V180.6H100.8zM97.7 183.6H100.8V186.6H97.7zM146.8 183.6H149.8V186.6H146.8z"/>
<path fill="#6dff00" d="M76.3 135.3H79.4V138.3H76.3zM82.4 141.3H85.5V144.4H82.4zM113.1 177.6H116.1V180.6H113.1zM143.7 183.6H146.8V186.6H143.7zM119.2 186.6H122.3V189.6H119.2zM122.3 189.6H125.3V192.6H122.3zM128.4 192.6H131.5V195.7H128.4zM134.5 195.7H137.6V198.7H134.5zM140.6 198.7H143.7V201.2H140.6z"/>
<path fill="#e7ff00" d="M82.4 135.3H85.5V138.3H82.4zM119.2 177.6H122.3V180.6H119.2z"/>
<path fill="#00ff73" d="M116.1 135.3H119.2V138.3H116.1zM119.2 135.3H122.3V138.3H119.2zM116.1 138.3H119.2V141.3H116.1zM119.2 138.3H122.3V141.3H119.2zM122.3 138.3H125.3V141.3H122.3zM113.1 141.3H116.1V144.4H113.1zM116.1 141.3H119.2V144.4H116.1zM119.2 141.3H122.3V144.4H119.2zM122.3 141.3H125.3V144.4H122.3zM125.3 141.3H128.4V144.4H125.3zM110.0 144.4H113.1V147.4H110.0zM113.1 144.4H116.1V147.4H113.1zM116.1 144.4H119.2V147.4H116.1zM119.2 144.4H122.3V147.4H119.2zM122.3 144.4H125.3V147.4H122.3zM125.3 144.4H128.4V147.4H125.3zM128.4 144.4H131.5V147.4H128.4zM106.9 147.4H110.0V150.4H106.9zM116.1 147.4H119.2V150.4H116.1zM119.2 147.4H122.3V150.4H119.2zM122.3 147.4H125.3V150.4H122.3zM125.3 147.4H128.4V150.4H125.3zM128.4 147.4H131.5V150.4H128.4zM131.5 147.4H134.5V150.4H131.5zM103.9 150.4H106.9V153.4H103.9zM122.3 150.4H125.3V153.4H122.3zM125.3 150.4H128.4V153.4H125.3zM128.4 150.4H131.5V153.4H128.4zM131.5 150.4H134.5V153.4H131.5zM134.5 150.4H137.6V153.4H134.5zM125.3 153.4H128.4V156.4H125.3zM128.4 153.4H131.5V156.4H128.4zM131.5 153.4H134.5V156.4H131.5zM134.5 153.4H137.6V156.4H134.5zM137.6 153.4H140.6V156.4H137.6zM128.4 156.4H131.5V159.5H128.4zM131.5 156.4H134.5V159.5H131.5zM134.5 156.4H137.6V159.5H134.5zM137.6 156.4H140.6V159.5H137.6zM140.6 156.4H143.7V159.5H140.6zM131.5 159.5H134.5V162.5H131.5zM134.5 159.5H137.6V162.5H134.5zM137.6 159.5H140.6V162.5H137.6zM134.5 162.5H137.6V165.5H134.5zM137.6 162.5H140.6V165.5H137.6zM134.5 165.5H137.6V168.5H134.5zM131.5 168.5H134.5V171.5H131.5zM134.5 168.5H137.6V171.5H134.5z"/>
<path fill="#3dff00" d="M76.3 138.3H79.4V141.3H76.3zM79.4 141.3H82.4V144.4H79.4zM94.7 141.3H97.7V144.4H94.7zM110.0 168.5H113.1V171.5H110.0zM119.2 168.5H122.3V171.5H119.2zM128.4 171.5H131.5V174.5H128.4zM110.0 183.6H113.1V186.6H110.0zM110.0 186.6H113.1V189.6H110.0zM113.1 189.6H116.1V192.6H113.1zM116.1 192.6H119.2V195.7H116.1zM116.1 195.7H119.2V198.7H116.1zM119.2 198.7H122.3V201.2H119.2zM122.3 198.7H125.3V201.2H122.3z"/>
<path fill="#79ff00" d="M79.4 138.3H82.4V141.3H79.4zM91.6 138.3H94.7V141.3H91.6zM88.6 144.4H91.6V147.4H88.6zM91.6 144.4H94.7V147.4H91.6zM116.1 180.6H119.2V183.6H116.1zM119.2 183.6H122.3V186.6H119.2zM122.3 186.6H125.3V189.6H122.3zM146.8 186.6H149.8V189.6H146.8zM125.3 189.6H128.4V192.6H125.3zM152.9 192.6H156.0V195.7H152.9z"/>
<path fill="#c2ff00" d="M88.6 138.3H91.6V141.3H88.6zM116.1 174.5H119.2V177.6H116.1zM134.5 177.6H137.6V180.6H134.5zM131.5 189.6H134.5V192.6H131.5z"/>
<path fill="#24ff00" d="M94.7 138.3H97.7V141.3H94.7zM85.5 147.4H88.6V150.4H85.5zM91.6 150.4H94.7V153.4H91.6zM113.1 165.5H116.1V168.5H113.1zM106.9 174.5H110.0V177.6H106.9zM106.9 186.6H110.0V189.6H106.9zM106.9 189.6H110.0V192.6H106.9zM106.9 192.6H110.0V195.7H106.9zM110.0 192.6H113.1V195.7H110.0zM110.0 195.7H113.1V198.7H110.0zM110.0 198.7H113.1V201.2H110.0zM113.1 198.7H116.1V201.2H113.1z"/>
<path fill="#86ff00" d="M91.6 141.3H94.7V144.4H91.6zM113.1 174.5H116.1V177.6H113.1zM149.8 189.6H152.9V192.6H149.8zM131.5 192.6H134.5V195.7H131.5zM137.6 195.7H140.6V198.7H137.6z"/>
<path fill="#00ff1a" d="M70.2 144.4H73.2V147.4H70.2zM73.2 144.4H76.3V147.4H73.2zM67.1 147.4H70.2V150.4H67.1zM70.2 147.4H73.2V150.4H70.2zM73.2 147.4H76.3V150.4H73.2zM76.3 147.4H79.4V150.4H76.3zM64.0 150.4H67.1V153.4H64.0zM67.1 150.4H70.2V153.4H67.1zM70.2 150.4H73.2V153.4H70.2zM82.4 150.4H85.5V153.4H82.4zM64.0 153.4H67.1V156.4H64.0zM67.1 153.4H70.2V156.4H67.1zM88.6 153.4H91.6V156.4H88.6zM97.7 159.5H100.8V162.5H97.7zM100.8 159.5H103.9V162.5H100.8zM103.9 162.5H106.9V165.5H103.9zM103.9 165.5H106.9V168.5H103.9zM103.9 168.5H106.9V171.5H103.9zM100.8 174.5H103.9V177.6H100.8zM97.7 180.6H100.8V183.6H97.7zM143.7 180.6H146.8V183.6H143.7zM162.1 195.7H165.2V198.7H162.1zM165.2 198.7H168.2V201.2H165.2zM180.5 198.7H183.5V201.2H180.5zM183.5 198.7H186.6V201.2H183.5z"/>
<path fill="#55ff00" d="M94.7 144.4H97.7V147.4H94.7zM91.6 147.4H94.7V150.4H91.6zM110.0 171.5H113.1V174.5H110.0zM110.0 174.5H113.1V177.6H110.0zM110.0 177.6H113.1V180.6H110.0zM113.1 183.6H116.1V186.6H113.1zM116.1 186.6H119.2V189.6H116.1zM119.2 189.6H122.3V192.6H119.2zM122.3 192.6H125.3V195.7H122.3zM125.3 195.7H128.4V198.7H125.3zM128.4 195.7H131.5V198.7H128.4zM137.6 198.7H140.6V201.2H137.6z"/>
<path fill="#00ff33" d="M100.8 144.4H103.9V147.4H100.8zM79.4 156.4H82.4V159.5H79.4zM82.4 156.4H85.5V159.5H82.4zM85.5 156.4H88.6V159.5H85.5zM76.3 159.5H79.4V162.5H76.3zM79.4 159.5H82.4V162.5H79.4zM82.4 159.5H85.5V162.5H82.4zM85.5 159.5H88.6V162.5H85.5zM88.6 159.5H91.6V162.5H88.6zM91.6 159.5H94.7V162.5H91.6zM73.2 162.5H76.3V165.5H73.2zM76.3 162.5H79.4V165.5H76.3zM79.4 162.5H82.4V165.5H79.4zM82.4 162.5H85.5V165.5H82.4zM94.7 162.5H97.7V165.5H94.7zM97.7 162.5H100.8V165.5H97.7zM76.3 165.5H79.4V168.5H76.3zM79.4 165.5H82.4V168.5H79.4zM97.7 165.5H100.8V168.5H97.7zM97.7 168.5H100.8V171.5H97.7zM100.8 168.5H103.9V171.5H100.8zM97.7 171.5H100.8V174.5H97.7zM94.7 174.5H97.7V177.6H94.7zM97.7 174.5H100.8V177.6H97.7zM91.6 177.6H94.7V180.6H91.6zM94.7 177.6H97.7V180.6H94.7zM91.6 180.6H94.7V183.6H91.6zM149.8 183.6H152.9V186.6H149.8zM168.2 183.6H171.3V186.6H168.2zM152.9 186.6H156.0V189.6H152.9zM165.2 186.6H168.2V189.6H165.2zM168.2 186.6H171.3V189.6H168.2zM171.3 186.6H174.4V189.6H171.3zM159.0 189.6H162.1V192.6H159.0zM162.1 189.6H165.2V192.6H162.1zM165.2 189.6H168.2V192.6H165.2zM168.2 189.6H171.3V192.6H168.2zM171.3 189.6H174.4V192.6H171.3zM162.1 192.6H165.2V195.7H162.1zM165.2 192.6H168.2V195.7H165.2zM168.2 192.6H171.3V195.7H168.2z"/>
<path fill="#00ff80" d="M110.0 147.4H113.1V150.4H110.0zM113.1 147.4H116.1V150.4H113.1zM116.1 150.4H119.2V153.4H116.1zM119.2 150.4H122.3V153.4H119.2zM122.3 153.4H125.3V156.4H122.3zM125.3 156.4H128.4V159.5H125.3zM128.4 159.5H131.5V162.5H128.4zM110.0 162.5H113.1V165.5H110.0zM131.5 162.5H134.5V165.5H131.5zM131.5 165.5H134.5V168.5H131.5z"/>
<path fill="#00ff8c" d="M106.9 150.4H110.0V153.4H106.9zM113.1 150.4H116.1V153.4H113.1zM103.9 153.4H106.9V156.4H103.9zM119.2 153.4H122.3V156.4H119.2zM122.3 156.4H125.3V159.5H122.3zM106.9 159.5H110.0V162.5H106.9zM125.3 159.5H128.4V162.5H125.3zM128.4 162.5H131.5V165.5H128.4z"/>
<path fill="#00ff99" d="M110.0 150.4H113.1V153.4H110.0zM116.1 165.5H119.2V168.5H116.1zM125.3 165.5H128.4V168.5H125.3zM128.4 165.5H131.5V168.5H128.4z"/>
<path fill="#00ffe6" d="M106.9 153.4H110.0V156.4H106.9z"/>
<path fill="#00ffd9" d="M110.0 153.4H113.1V156.4H110.0zM116.1 156.4H119.2V159.5H116.1zM119.2 159.5H122.3V162.5H119.2z"/>
<path fill="#00ffbf" d="M113.1 153.4H116.1V156.4H113.1zM119.2 165.5H122.3V168.5H119.2z"/>
<path fill="#00ffa6" d="M116.1 153.4H119.2V156.4H116.1zM125.3 162.5H128.4V165.5H125.3zM122.3 165.5H125.3V168.5H122.3z"/>
<path fill="#00f9ff" d="M106.9 156.4H110.0V159.5H106.9z"/>
<path fill="#00d1ff" d="M110.0 156.4H113.1V159.5H110.0zM110.0 159.5H113.1V162.5H110.0z"/>
<path fill="#00f4ff" d="M113.1 156.4H116.1V159.5H113.1z"/>
<path fill="#00ffb3" d="M119.2 156.4H122.3V159.5H119.2zM122.3 159.5H125.3V162.5H122.3z"/>
<path fill="#00b4ff" d="M113.1 159.5H116.1V162.5H113.1z"/>
<path fill="#00eeff" d="M116.1 159.5H119.2V162.5H116.1z"/>
<path fill="#00e2ff" d="M113.1 162.5H116.1V165.5H113.1z"/>
<path fill="#00d7ff" d="M116.1 162.5H119.2V165.5H116.1z"/>
<path fill="#00ffff" d="M119.2 162.5H122.3V165.5H119.2z"/>
<path fill="#00ffcc" d="M122.3 162.5H125.3V165.5H122.3z"/>
<path fill="#fff800" d="M113.1 168.5H116.1V171.5H113.1z"/>
<path fill="#ff9000" d="M116.1 168.5H119.2V171.5H116.1zM140.6 186.6H143.7V189.6H140.6zM143.7 189.6H146.8V192.6H143.7z"/>
<path fill="#ffc400" d="M116.1 171.5H119.2V174.5H116.1zM131.5 177.6H134.5V180.6H131.5z"/>
<path fill="#ff1400" d="M119.2 171.5H122.3V174.5H119.2zM134.5 183.6H137.6V186.6H134.5z"/>
<path fill="#fff200" d="M122.3 171.5H125.3V174.5H122.3zM140.6 183.6H143.7V186.6H140.6zM149.8 192.6H152.9V195.7H149.8zM152.9 198.7H156.0V201.2H152.9z"/>
<path fill="#ffb100" d="M119.2 174.5H122.3V177.6H119.2zM125.3 180.6H128.4V183.6H125.3z"/>
<path fill="#df0000" d="M122.3 174.5H125.3V177.6H122.3z"/>
<path fill="#ff8300" d="M125.3 174.5H128.4V177.6H125.3zM143.7 192.6H146.8V195.7H143.7z"/>
<path fill="#ffeb00" d="M128.4 174.5H131.5V177.6H128.4z"/>
<path fill="#ffaa00" d="M122.3 177.6H125.3V180.6H122.3zM134.5 180.6H137.6V183.6H134.5zM146.8 192.6H149.8V195.7H146.8z"/>
<path fill="#cf0000" d="M125.3 177.6H128.4V180.6H125.3z"/>
<path fill="#ff3b00" d="M128.4 177.6H131.5V180.6H128.4z"/>
<path fill="#f3ff00" d="M122.3 180.6H125.3V183.6H122.3zM137.6 180.6H140.6V183.6H137.6zM125.3 183.6H128.4V186.6H125.3zM152.9 195.7H156.0V198.7H152.9zM146.8 198.7H149.8V201.2H146.8z"/>
<path fill="#dc0000" d="M128.4 180.6H131.5V183.6H128.4z"/>
<path fill="#ff0d00" d="M131.5 180.6H134.5V183.6H131.5z"/>
<path fill="#ffbe00" d="M128.4 183.6H131.5V186.6H128.4z"/>
<path fill="#ff0700" d="M131.5 183.6H134.5V186.6H131.5z"/>
<path fill="#ff9d00" d="M137.6 183.6H140.6V186.6H137.6z"/>
<path fill="#ffd100" d="M131.5 186.6H134.5V189.6H131.5z"/>
<path fill="#ff5500" d="M134.5 186.6H137.6V189.6H134.5zM140.6 189.6H143.7V192.6H140.6z"/>
<path fill="#ff2e00" d="M137.6 186.6H140.6V189.6H137.6z"/>
<path fill="#ffe500" d="M143.7 186.6H146.8V189.6H143.7zM134.5 189.6H137.6V192.6H134.5zM146.8 189.6H149.8V192.6H146.8zM149.8 198.7H152.9V201.2H149.8z"/>
<path fill="#ff8900" d="M137.6 189.6H140.6V192.6H137.6z"/>
<path fill="#ffff00" d="M137.6 192.6H140.6V195.7H137.6z"/>
<path fill="#ffb700" d="M140.6 192.6H143.7V195.7H140.6zM146.8 195.7H149.8V198.7H146.8z"/>
<path fill="#ffde00" d="M143.7 195.7H146.8V198.7H143.7z"/>
<path fill="#ffcb00" d="M149.8 195.7H152.9V198.7H149.8z"/></g>
<rect x="42.50" y="209.50" width="144.20" height="71.10" fill="#efefef"/>
<g shape-rendering="crispEdges" filter="url(#bl)"><path fill="#00ff0d" d="M42.6 209.5H45.7V211.6H42.6zM45.7 209.5H48.7V211.6H45.7zM64.0 209.5H67.1V211.6H64.0zM42.6 211.6H45.7V214.6H42.6zM67.1 211.6H70.2V214.6H67.1zM76.3 217.6H79.4V220.7H76.3zM91.6 229.7H94.7V232.7H91.6zM103.9 238.8H106.9V241.8H103.9zM140.6 259.9H143.7V263.0H140.6zM152.9 269.0H156.0V272.0H152.9zM165.2 278.1H168.2V280.6H165.2z"/>
<path fill="#00ff1a" d="M48.7 209.5H51.8V211.6H48.7zM51.8 209.5H54.8V211.6H51.8zM54.8 209.5H57.9V211.6H54.8zM57.9 209.5H61.0V211.6H57.9zM61.0 209.5H64.0V211.6H61.0zM45.7 211.6H48.7V214.6H45.7zM48.7 211.6H51.8V214.6H48.7zM51.8 211.6H54.8V214.6H51.8zM54.8 211.6H57.9V214.6H54.8zM57.9 211.6H61.0V214.6H57.9zM64.0 211.6H67.1V214.6H64.0zM45.7 214.6H48.7V217.6H45.7zM48.7 214.6H51.8V217.6H48.7zM51.8 214.6H54.8V217.6H51.8zM70.2 214.6H73.2V217.6H70.2zM48.7 217.6H51.8V220.7H48.7zM79.4 220.7H82.4V223.7H79.4zM131.5 226.7H134.5V229.7H131.5zM128.4 229.7H131.5V232.7H128.4zM125.3 247.9H128.4V250.9H125.3zM137.6 256.9H140.6V259.9H137.6zM177.4 272.0H180.5V275.1H177.4zM162.1 275.1H165.2V278.1H162.1zM174.4 275.1H177.4V278.1H174.4zM177.4 275.1H180.5V278.1H177.4zM180.5 275.1H183.5V278.1H180.5zM168.2 278.1H171.3V280.6H168.2zM171.3 278.1H174.4V280.6H171.3zM174.4 278.1H177.4V280.6H174.4zM177.4 278.1H180.5V280.6H177.4zM180.5 278.1H183.5V280.6H180.5zM183.5 278.1H186.6V280.6H183.5z"/>
<path fill="#24ff00" d="M67.1 209.5H70.2V211.6H67.1zM82.4 220.7H85.5V223.7H82.4zM125.3 229.7H128.4V232.7H125.3zM100.8 235.8H103.9V238.8H100.8zM116.1 235.8H119.2V238.8H116.1zM113.1 241.8H116.1V244.8H113.1zM116.1 247.9H119.2V250.9H116.1zM110.0 253.9H113.1V256.9H110.0zM97.7 263.0H100.8V266.0H97.7z"/>
<path fill="#79ff00" d="M70.2 209.5H73.2V211.6H70.2zM110.0 220.7H113.1V223.7H110.0zM113.1 226.7H116.1V229.7H113.1zM94.7 229.7H97.7V232.7H94.7zM113.1 229.7H116.1V232.7H113.1zM110.0 238.8H113.1V241.8H110.0zM119.2 250.9H122.3V253.9H119.2zM119.2 253.9H122.3V256.9H119.2zM116.1 259.9H119.2V263.0H116.1zM137.6 259.9H140.6V263.0H137.6zM119.2 266.0H122.3V269.0H119.2z"/>
<path fill="#fff800" d="M73.2 209.5H76.3V211.6H73.2zM100.8 232.7H103.9V235.8H100.8z"/>
<path fill="#ff9600" d="M76.3 209.5H79.4V211.6H76.3zM88.6 214.6H91.6V217.6H88.6zM100.8 229.7H103.9V232.7H100.8zM137.6 269.0H140.6V272.0H137.6z"/>
<path fill="#ff6900" d="M79.4 209.5H82.4V211.6H79.4z"/>
<path fill="#ff9000" d="M82.4 209.5H85.5V211.6H82.4zM85.5 211.6H88.6V214.6H85.5zM140.6 272.0H143.7V275.1H140.6zM143.7 275.1H146.8V278.1H143.7z"/>
<path fill="#ffd100" d="M85.5 209.5H88.6V211.6H85.5zM125.3 253.9H128.4V256.9H125.3zM134.5 259.9H137.6V263.0H134.5zM140.6 275.1H143.7V278.1H140.6z"/>
<path fill="#ffff00" d="M88.6 209.5H91.6V211.6H88.6zM76.3 211.6H79.4V214.6H76.3zM140.6 278.1H143.7V280.6H140.6zM156.0 278.1H159.0V280.6H156.0z"/>
<path fill="#c2ff00" d="M91.6 209.5H94.7V211.6H91.6zM94.7 211.6H97.7V214.6H94.7zM97.7 214.6H100.8V217.6H97.7zM100.8 217.6H103.9V220.7H100.8zM85.5 220.7H88.6V223.7H85.5zM103.9 220.7H106.9V223.7H103.9zM106.9 229.7H110.0V232.7H106.9zM122.3 256.9H125.3V259.9H122.3zM125.3 266.0H128.4V269.0H125.3zM128.4 269.0H131.5V272.0H128.4zM146.8 269.0H149.8V272.0H146.8zM131.5 272.0H134.5V275.1H131.5z"/>
<path fill="#9eff00" d="M94.7 209.5H97.7V211.6H94.7zM97.7 211.6H100.8V214.6H97.7zM100.8 214.6H103.9V217.6H100.8zM103.9 217.6H106.9V220.7H103.9zM106.9 220.7H110.0V223.7H106.9zM110.0 226.7H113.1V229.7H110.0zM125.3 250.9H128.4V253.9H125.3zM122.3 266.0H125.3V269.0H122.3zM125.3 269.0H128.4V272.0H125.3z"/>
<path fill="#86ff00" d="M97.7 209.5H100.8V211.6H97.7zM100.8 211.6H103.9V214.6H100.8zM103.9 214.6H106.9V217.6H103.9zM106.9 217.6H110.0V220.7H106.9zM110.0 232.7H113.1V235.8H110.0zM122.3 269.0H125.3V272.0H122.3zM125.3 272.0H128.4V275.1H125.3zM128.4 275.1H131.5V278.1H128.4zM131.5 278.1H134.5V280.6H131.5z"/>
<path fill="#6dff00" d="M100.8 209.5H103.9V211.6H100.8zM103.9 211.6H106.9V214.6H103.9zM106.9 214.6H110.0V217.6H106.9zM113.1 223.7H116.1V226.7H113.1zM116.1 256.9H119.2V259.9H116.1zM116.1 263.0H119.2V266.0H116.1zM122.3 272.0H125.3V275.1H122.3zM125.3 275.1H128.4V278.1H125.3zM128.4 278.1H131.5V280.6H128.4z"/>
<path fill="#55ff00" d="M103.9 209.5H106.9V211.6H103.9zM106.9 211.6H110.0V214.6H106.9zM76.3 214.6H79.4V217.6H76.3zM110.0 214.6H113.1V217.6H110.0zM113.1 217.6H116.1V220.7H113.1zM116.1 223.7H119.2V226.7H116.1zM97.7 232.7H100.8V235.8H97.7zM116.1 253.9H119.2V256.9H116.1zM113.1 256.9H116.1V259.9H113.1zM113.1 259.9H116.1V263.0H113.1zM113.1 263.0H116.1V266.0H113.1zM116.1 269.0H119.2V272.0H116.1zM119.2 272.0H122.3V275.1H119.2zM122.3 275.1H125.3V278.1H122.3zM156.0 275.1H159.0V278.1H156.0zM125.3 278.1H128.4V280.6H125.3z"/>
<path fill="#49ff00" d="M106.9 209.5H110.0V211.6H106.9zM110.0 211.6H113.1V214.6H110.0zM113.1 214.6H116.1V217.6H113.1zM116.1 217.6H119.2V220.7H116.1zM116.1 220.7H119.2V223.7H116.1zM119.2 220.7H122.3V223.7H119.2zM119.2 223.7H122.3V226.7H119.2zM119.2 226.7H122.3V229.7H119.2zM119.2 229.7H122.3V232.7H119.2zM116.1 232.7H119.2V235.8H116.1zM113.1 235.8H116.1V238.8H113.1zM110.0 259.9H113.1V263.0H110.0zM110.0 263.0H113.1V266.0H110.0zM110.0 266.0H113.1V269.0H110.0zM113.1 266.0H116.1V269.0H113.1zM113.1 269.0H116.1V272.0H113.1zM116.1 272.0H119.2V275.1H116.1zM119.2 275.1H122.3V278.1H119.2zM122.3 278.1H125.3V280.6H122.3z"/>
<path fill="#3dff00" d="M110.0 209.5H113.1V211.6H110.0zM113.1 209.5H116.1V211.6H113.1zM116.1 209.5H119.2V211.6H116.1zM113.1 211.6H116.1V214.6H113.1zM116.1 211.6H119.2V214.6H116.1zM116.1 214.6H119.2V217.6H116.1zM119.2 214.6H122.3V217.6H119.2zM79.4 217.6H82.4V220.7H79.4zM119.2 217.6H122.3V220.7H119.2zM122.3 217.6H125.3V220.7H122.3zM122.3 220.7H125.3V223.7H122.3zM125.3 220.7H128.4V223.7H125.3zM122.3 223.7H125.3V226.7H122.3zM125.3 223.7H128.4V226.7H125.3zM128.4 223.7H131.5V226.7H128.4zM122.3 226.7H125.3V229.7H122.3zM125.3 226.7H128.4V229.7H125.3zM122.3 229.7H125.3V232.7H122.3zM119.2 232.7H122.3V235.8H119.2zM122.3 247.9H125.3V250.9H122.3zM116.1 250.9H119.2V253.9H116.1zM113.1 253.9H116.1V256.9H113.1zM131.5 253.9H134.5V256.9H131.5zM110.0 256.9H113.1V259.9H110.0zM103.9 259.9H106.9V263.0H103.9zM106.9 259.9H110.0V263.0H106.9zM100.8 263.0H103.9V266.0H100.8zM103.9 263.0H106.9V266.0H103.9zM106.9 263.0H110.0V266.0H106.9zM97.7 266.0H100.8V269.0H97.7zM100.8 266.0H103.9V269.0H100.8zM103.9 266.0H106.9V269.0H103.9zM106.9 266.0H110.0V269.0H106.9zM100.8 269.0H103.9V272.0H100.8zM103.9 269.0H106.9V272.0H103.9zM106.9 269.0H110.0V272.0H106.9zM110.0 269.0H113.1V272.0H110.0zM103.9 272.0H106.9V275.1H103.9zM106.9 272.0H110.0V275.1H106.9zM110.0 272.0H113.1V275.1H110.0zM113.1 272.0H116.1V275.1H113.1zM152.9 272.0H156.0V275.1H152.9zM106.9 275.1H110.0V278.1H106.9zM110.0 275.1H113.1V278.1H110.0zM113.1 275.1H116.1V278.1H113.1zM116.1 275.1H119.2V278.1H116.1zM110.0 278.1H113.1V280.6H110.0zM113.1 278.1H116.1V280.6H113.1zM116.1 278.1H119.2V280.6H116.1zM119.2 278.1H122.3V280.6H119.2z"/>
<path fill="#00ff26" d="M61.0 211.6H64.0V214.6H61.0zM54.8 214.6H57.9V217.6H54.8zM57.9 214.6H61.0V217.6H57.9zM61.0 214.6H64.0V217.6H61.0zM64.0 214.6H67.1V217.6H64.0zM67.1 214.6H70.2V217.6H67.1zM51.8 217.6H54.8V220.7H51.8zM54.8 217.6H57.9V220.7H54.8zM57.9 217.6H61.0V220.7H57.9zM73.2 217.6H76.3V220.7H73.2zM51.8 220.7H54.8V223.7H51.8zM54.8 220.7H57.9V223.7H54.8zM82.4 223.7H85.5V226.7H82.4zM94.7 232.7H97.7V235.8H94.7zM125.3 232.7H128.4V235.8H125.3zM122.3 235.8H125.3V238.8H122.3zM119.2 238.8H122.3V241.8H119.2zM106.9 241.8H110.0V244.8H106.9zM119.2 241.8H122.3V244.8H119.2zM110.0 244.8H113.1V247.9H110.0zM149.8 266.0H152.9V269.0H149.8zM156.0 269.0H159.0V272.0H156.0zM171.3 269.0H174.4V272.0H171.3zM174.4 269.0H177.4V272.0H174.4zM159.0 272.0H162.1V275.1H159.0zM162.1 272.0H165.2V275.1H162.1zM165.2 272.0H168.2V275.1H165.2zM168.2 272.0H171.3V275.1H168.2zM171.3 272.0H174.4V275.1H171.3zM174.4 272.0H177.4V275.1H174.4zM165.2 275.1H168.2V278.1H165.2zM168.2 275.1H171.3V278.1H168.2zM171.3 275.1H174.4V278.1H171.3z"/>
<path fill="#0cff00" d="M70.2 211.6H73.2V214.6H70.2zM119.2 235.8H122.3V238.8H119.2zM128.4 250.9H131.5V253.9H128.4zM106.9 253.9H110.0V256.9H106.9zM103.9 256.9H106.9V259.9H103.9zM143.7 263.0H146.8V266.0H143.7zM159.0 275.1H162.1V278.1H159.0z"/>
<path fill="#61ff00" d="M73.2 211.6H76.3V214.6H73.2zM110.0 217.6H113.1V220.7H110.0zM113.1 220.7H116.1V223.7H113.1zM116.1 226.7H119.2V229.7H116.1zM116.1 229.7H119.2V232.7H116.1zM113.1 232.7H116.1V235.8H113.1zM106.9 238.8H110.0V241.8H106.9zM119.2 247.9H122.3V250.9H119.2zM134.5 256.9H137.6V259.9H134.5zM116.1 266.0H119.2V269.0H116.1zM119.2 269.0H122.3V272.0H119.2zM159.0 278.1H162.1V280.6H159.0z"/>
<path fill="#ff9d00" d="M79.4 211.6H82.4V214.6H79.4zM91.6 217.6H94.7V220.7H91.6zM94.7 220.7H97.7V223.7H94.7zM134.5 266.0H137.6V269.0H134.5z"/>
<path fill="#ff6f00" d="M82.4 211.6H85.5V214.6H82.4zM85.5 214.6H88.6V217.6H85.5zM88.6 217.6H91.6V220.7H88.6zM91.6 220.7H94.7V223.7H91.6zM137.6 266.0H140.6V269.0H137.6zM140.6 269.0H143.7V272.0H140.6zM143.7 272.0H146.8V275.1H143.7zM146.8 275.1H149.8V278.1H146.8zM149.8 278.1H152.9V280.6H149.8z"/>
<path fill="#ffd800" d="M88.6 211.6H91.6V214.6H88.6zM97.7 229.7H100.8V232.7H97.7zM103.9 229.7H106.9V232.7H103.9zM137.6 272.0H140.6V275.1H137.6z"/>
<path fill="#f3ff00" d="M91.6 211.6H94.7V214.6H91.6zM94.7 214.6H97.7V217.6H94.7zM103.9 226.7H106.9V229.7H103.9zM106.9 232.7H110.0V235.8H106.9zM106.9 235.8H110.0V238.8H106.9zM128.4 253.9H131.5V256.9H128.4zM125.3 259.9H128.4V263.0H125.3zM134.5 272.0H137.6V275.1H134.5zM137.6 275.1H140.6V278.1H137.6z"/>
<path fill="#00ff00" d="M73.2 214.6H76.3V217.6H73.2zM88.6 226.7H91.6V229.7H88.6zM116.1 238.8H119.2V241.8H116.1zM116.1 241.8H119.2V244.8H116.1zM113.1 244.8H116.1V247.9H113.1zM119.2 244.8H122.3V247.9H119.2zM113.1 247.9H116.1V250.9H113.1zM110.0 250.9H113.1V253.9H110.0zM156.0 272.0H159.0V275.1H156.0z"/>
<path fill="#e7ff00" d="M79.4 214.6H82.4V217.6H79.4zM97.7 217.6H100.8V220.7H97.7zM100.8 220.7H103.9V223.7H100.8zM122.3 253.9H125.3V256.9H122.3zM128.4 266.0H131.5V269.0H128.4zM131.5 269.0H134.5V272.0H131.5zM152.9 275.1H156.0V278.1H152.9z"/>
<path fill="#ffa300" d="M82.4 214.6H85.5V217.6H82.4zM128.4 256.9H131.5V259.9H128.4zM131.5 263.0H134.5V266.0H131.5zM149.8 275.1H152.9V278.1H149.8zM152.9 278.1H156.0V280.6H152.9z"/>
<path fill="#ffde00" d="M91.6 214.6H94.7V217.6H91.6zM125.3 256.9H128.4V259.9H125.3zM134.5 269.0H137.6V272.0H134.5z"/>
<path fill="#00ff33" d="M61.0 217.6H64.0V220.7H61.0zM64.0 217.6H67.1V220.7H64.0zM67.1 217.6H70.2V220.7H67.1zM70.2 217.6H73.2V220.7H70.2zM57.9 220.7H61.0V223.7H57.9zM61.0 220.7H64.0V223.7H61.0zM64.0 220.7H67.1V223.7H64.0zM76.3 220.7H79.4V223.7H76.3zM54.8 223.7H57.9V226.7H54.8zM57.9 223.7H61.0V226.7H57.9zM61.0 223.7H64.0V226.7H61.0zM57.9 226.7H61.0V229.7H57.9zM85.5 226.7H88.6V229.7H85.5zM97.7 235.8H100.8V238.8H97.7zM122.3 244.8H125.3V247.9H122.3zM110.0 247.9H113.1V250.9H110.0zM134.5 253.9H137.6V256.9H134.5zM146.8 263.0H149.8V266.0H146.8zM168.2 263.0H171.3V266.0H168.2zM152.9 266.0H156.0V269.0H152.9zM165.2 266.0H168.2V269.0H165.2zM168.2 266.0H171.3V269.0H168.2zM171.3 266.0H174.4V269.0H171.3zM159.0 269.0H162.1V272.0H159.0zM162.1 269.0H165.2V272.0H162.1zM165.2 269.0H168.2V272.0H165.2zM168.2 269.0H171.3V272.0H168.2z"/>
<path fill="#dbff00" d="M82.4 217.6H85.5V220.7H82.4zM122.3 250.9H125.3V253.9H122.3z"/>
<path fill="#ffaa00" d="M85.5 217.6H88.6V220.7H85.5zM97.7 223.7H100.8V226.7H97.7zM146.8 272.0H149.8V275.1H146.8z"/>
<path fill="#ffe500" d="M94.7 217.6H97.7V220.7H94.7zM131.5 256.9H134.5V259.9H131.5zM131.5 266.0H134.5V269.0H131.5z"/>
<path fill="#00ff40" d="M67.1 220.7H70.2V223.7H67.1zM70.2 220.7H73.2V223.7H70.2zM73.2 220.7H76.3V223.7H73.2zM64.0 223.7H67.1V226.7H64.0zM67.1 223.7H70.2V226.7H67.1zM70.2 223.7H73.2V226.7H70.2zM79.4 223.7H82.4V226.7H79.4zM61.0 226.7H64.0V229.7H61.0zM64.0 226.7H67.1V229.7H64.0zM67.1 226.7H70.2V229.7H67.1zM61.0 229.7H64.0V232.7H61.0zM64.0 229.7H67.1V232.7H64.0zM88.6 229.7H91.6V232.7H88.6zM106.9 250.9H110.0V253.9H106.9zM131.5 250.9H134.5V253.9H131.5zM143.7 259.9H146.8V263.0H143.7zM165.2 259.9H168.2V263.0H165.2zM149.8 263.0H152.9V266.0H149.8zM162.1 263.0H165.2V266.0H162.1zM165.2 263.0H168.2V266.0H165.2zM156.0 266.0H159.0V269.0H156.0zM159.0 266.0H162.1V269.0H159.0zM162.1 266.0H165.2V269.0H162.1z"/>
<path fill="#ffb100" d="M88.6 220.7H91.6V223.7H88.6zM143.7 269.0H146.8V272.0H143.7z"/>
<path fill="#ffeb00" d="M97.7 220.7H100.8V223.7H97.7z"/>
<path fill="#00ff4d" d="M73.2 223.7H76.3V226.7H73.2zM76.3 223.7H79.4V226.7H76.3zM70.2 226.7H73.2V229.7H70.2zM73.2 226.7H76.3V229.7H73.2zM76.3 226.7H79.4V229.7H76.3zM79.4 226.7H82.4V229.7H79.4zM82.4 226.7H85.5V229.7H82.4zM67.1 229.7H70.2V232.7H67.1zM70.2 229.7H73.2V232.7H70.2zM64.0 232.7H67.1V235.8H64.0zM67.1 232.7H70.2V235.8H67.1zM91.6 232.7H94.7V235.8H91.6zM100.8 238.8H103.9V241.8H100.8zM103.9 253.9H106.9V256.9H103.9zM100.8 256.9H103.9V259.9H100.8zM140.6 256.9H143.7V259.9H140.6zM162.1 256.9H165.2V259.9H162.1zM146.8 259.9H149.8V263.0H146.8zM156.0 259.9H159.0V263.0H156.0zM159.0 259.9H162.1V263.0H159.0zM162.1 259.9H165.2V263.0H162.1zM152.9 263.0H156.0V266.0H152.9zM156.0 263.0H159.0V266.0H156.0zM159.0 263.0H162.1V266.0H159.0z"/>
<path fill="#18ff00" d="M85.5 223.7H88.6V226.7H85.5zM122.3 232.7H125.3V235.8H122.3zM110.0 241.8H113.1V244.8H110.0zM116.1 244.8H119.2V247.9H116.1zM113.1 250.9H116.1V253.9H113.1zM100.8 259.9H103.9V263.0H100.8zM146.8 266.0H149.8V269.0H146.8zM162.1 278.1H165.2V280.6H162.1z"/>
<path fill="#aaff00" d="M88.6 223.7H91.6V226.7H88.6zM122.3 263.0H125.3V266.0H122.3zM143.7 266.0H146.8V269.0H143.7zM128.4 272.0H131.5V275.1H128.4zM131.5 275.1H134.5V278.1H131.5zM134.5 278.1H137.6V280.6H134.5z"/>
<path fill="#ffb700" d="M91.6 223.7H94.7V226.7H91.6zM128.4 259.9H131.5V263.0H128.4zM140.6 266.0H143.7V269.0H140.6z"/>
<path fill="#ff7600" d="M94.7 223.7H97.7V226.7H94.7zM134.5 263.0H137.6V266.0H134.5z"/>
<path fill="#fff200" d="M100.8 223.7H103.9V226.7H100.8zM128.4 263.0H131.5V266.0H128.4z"/>
<path fill="#ceff00" d="M103.9 223.7H106.9V226.7H103.9zM125.3 263.0H128.4V266.0H125.3zM149.8 272.0H152.9V275.1H149.8zM134.5 275.1H137.6V278.1H134.5zM137.6 278.1H140.6V280.6H137.6z"/>
<path fill="#b6ff00" d="M106.9 223.7H110.0V226.7H106.9zM106.9 226.7H110.0V229.7H106.9zM103.9 235.8H106.9V238.8H103.9zM122.3 259.9H125.3V263.0H122.3z"/>
<path fill="#92ff00" d="M110.0 223.7H113.1V226.7H110.0zM91.6 226.7H94.7V229.7H91.6zM110.0 229.7H113.1V232.7H110.0zM110.0 235.8H113.1V238.8H110.0zM119.2 256.9H122.3V259.9H119.2zM119.2 259.9H122.3V263.0H119.2zM119.2 263.0H122.3V266.0H119.2zM140.6 263.0H143.7V266.0H140.6z"/>
<path fill="#ffc400" d="M94.7 226.7H97.7V229.7H94.7zM103.9 232.7H106.9V235.8H103.9zM137.6 263.0H140.6V266.0H137.6z"/>
<path fill="#ff8300" d="M97.7 226.7H100.8V229.7H97.7zM131.5 259.9H134.5V263.0H131.5z"/>
<path fill="#ffbe00" d="M100.8 226.7H103.9V229.7H100.8z"/>
<path fill="#31ff00" d="M128.4 226.7H131.5V229.7H128.4zM113.1 238.8H116.1V241.8H113.1zM106.9 256.9H110.0V259.9H106.9zM149.8 269.0H152.9V272.0H149.8z"/>
<path fill="#00ff59" d="M73.2 229.7H76.3V232.7H73.2zM76.3 229.7H79.4V232.7H76.3zM79.4 229.7H82.4V232.7H79.4zM82.4 229.7H85.5V232.7H82.4zM85.5 229.7H88.6V232.7H85.5zM70.2 232.7H73.2V235.8H70.2zM73.2 232.7H76.3V235.8H73.2zM67.1 235.8H70.2V238.8H67.1zM70.2 235.8H73.2V238.8H70.2zM94.7 235.8H97.7V238.8H94.7zM122.3 238.8H125.3V241.8H122.3zM103.9 241.8H106.9V244.8H103.9zM122.3 241.8H125.3V244.8H122.3zM106.9 244.8H110.0V247.9H106.9zM128.4 247.9H131.5V250.9H128.4zM137.6 253.9H140.6V256.9H137.6zM156.0 253.9H159.0V256.9H156.0zM159.0 253.9H162.1V256.9H159.0zM143.7 256.9H146.8V259.9H143.7zM152.9 256.9H156.0V259.9H152.9zM156.0 256.9H159.0V259.9H156.0zM159.0 256.9H162.1V259.9H159.0zM97.7 259.9H100.8V263.0H97.7zM149.8 259.9H152.9V263.0H149.8zM152.9 259.9H156.0V263.0H152.9z"/>
<path fill="#00ff8c" d="M131.5 229.7H134.5V232.7H131.5zM140.6 238.8H143.7V241.8H140.6zM143.7 238.8H146.8V241.8H143.7zM88.6 241.8H91.6V244.8H88.6zM91.6 241.8H94.7V244.8H91.6zM94.7 241.8H97.7V244.8H94.7zM128.4 241.8H131.5V244.8H128.4zM137.6 241.8H140.6V244.8H137.6zM140.6 241.8H143.7V244.8H140.6zM143.7 241.8H146.8V244.8H143.7zM85.5 244.8H88.6V247.9H85.5zM88.6 244.8H91.6V247.9H88.6zM91.6 244.8H94.7V247.9H91.6zM94.7 244.8H97.7V247.9H94.7zM97.7 244.8H100.8V247.9H97.7zM100.8 244.8H103.9V247.9H100.8zM131.5 244.8H134.5V247.9H131.5zM134.5 244.8H137.6V247.9H134.5zM137.6 244.8H140.6V247.9H137.6zM140.6 244.8H143.7V247.9H140.6zM82.4 247.9H85.5V250.9H82.4zM85.5 247.9H88.6V250.9H85.5zM88.6 247.9H91.6V250.9H88.6zM103.9 247.9H106.9V250.9H103.9zM82.4 250.9H85.5V253.9H82.4zM85.5 250.9H88.6V253.9H85.5zM100.8 253.9H103.9V256.9H100.8z"/>
<path fill="#00ff99" d="M134.5 229.7H137.6V232.7H134.5zM131.5 232.7H134.5V235.8H131.5zM134.5 232.7H137.6V235.8H134.5zM137.6 232.7H140.6V235.8H137.6zM128.4 235.8H131.5V238.8H128.4zM131.5 235.8H134.5V238.8H131.5zM134.5 235.8H137.6V238.8H134.5zM137.6 235.8H140.6V238.8H137.6zM140.6 235.8H143.7V238.8H140.6zM128.4 238.8H131.5V241.8H128.4zM131.5 238.8H134.5V241.8H131.5zM134.5 238.8H137.6V241.8H134.5zM137.6 238.8H140.6V241.8H137.6zM131.5 241.8H134.5V244.8H131.5zM134.5 241.8H137.6V244.8H134.5zM91.6 247.9H94.7V250.9H91.6zM94.7 247.9H97.7V250.9H94.7zM97.7 247.9H100.8V250.9H97.7zM100.8 247.9H103.9V250.9H100.8zM88.6 250.9H91.6V253.9H88.6zM91.6 250.9H94.7V253.9H91.6zM94.7 250.9H97.7V253.9H94.7zM97.7 250.9H100.8V253.9H97.7zM100.8 250.9H103.9V253.9H100.8zM85.5 253.9H88.6V256.9H85.5zM88.6 253.9H91.6V256.9H88.6zM91.6 253.9H94.7V256.9H91.6zM94.7 253.9H97.7V256.9H94.7zM97.7 253.9H100.8V256.9H97.7zM88.6 256.9H91.6V259.9H88.6zM91.6 256.9H94.7V259.9H91.6zM94.7 256.9H97.7V259.9H94.7zM97.7 256.9H100.8V259.9H97.7zM91.6 259.9H94.7V263.0H91.6zM94.7 259.9H97.7V263.0H94.7z"/>
<path fill="#00ff66" d="M76.3 232.7H79.4V235.8H76.3zM79.4 232.7H82.4V235.8H79.4zM82.4 232.7H85.5V235.8H82.4zM85.5 232.7H88.6V235.8H85.5zM88.6 232.7H91.6V235.8H88.6zM73.2 235.8H76.3V238.8H73.2zM76.3 235.8H79.4V238.8H76.3zM125.3 235.8H128.4V238.8H125.3zM70.2 238.8H73.2V241.8H70.2zM73.2 238.8H76.3V241.8H73.2zM97.7 238.8H100.8V241.8H97.7zM125.3 244.8H128.4V247.9H125.3zM106.9 247.9H110.0V250.9H106.9zM134.5 250.9H137.6V253.9H134.5zM152.9 250.9H156.0V253.9H152.9zM156.0 250.9H159.0V253.9H156.0zM140.6 253.9H143.7V256.9H140.6zM143.7 253.9H146.8V256.9H143.7zM146.8 253.9H149.8V256.9H146.8zM149.8 253.9H152.9V256.9H149.8zM152.9 253.9H156.0V256.9H152.9zM146.8 256.9H149.8V259.9H146.8zM149.8 256.9H152.9V259.9H149.8zM94.7 263.0H97.7V266.0H94.7z"/>
<path fill="#00ff80" d="M128.4 232.7H131.5V235.8H128.4zM85.5 238.8H88.6V241.8H85.5zM88.6 238.8H91.6V241.8H88.6zM91.6 238.8H94.7V241.8H91.6zM94.7 238.8H97.7V241.8H94.7zM125.3 238.8H128.4V241.8H125.3zM79.4 241.8H82.4V244.8H79.4zM82.4 241.8H85.5V244.8H82.4zM85.5 241.8H88.6V244.8H85.5zM97.7 241.8H100.8V244.8H97.7zM100.8 241.8H103.9V244.8H100.8zM125.3 241.8H128.4V244.8H125.3zM146.8 241.8H149.8V244.8H146.8zM79.4 244.8H82.4V247.9H79.4zM82.4 244.8H85.5V247.9H82.4zM103.9 244.8H106.9V247.9H103.9zM128.4 244.8H131.5V247.9H128.4zM143.7 244.8H146.8V247.9H143.7zM146.8 244.8H149.8V247.9H146.8zM149.8 244.8H152.9V247.9H149.8zM79.4 247.9H82.4V250.9H79.4zM134.5 247.9H137.6V250.9H134.5zM137.6 247.9H140.6V250.9H137.6zM140.6 247.9H143.7V250.9H140.6zM143.7 247.9H146.8V250.9H143.7zM146.8 247.9H149.8V250.9H146.8zM103.9 250.9H106.9V253.9H103.9z"/>
<path fill="#00ff73" d="M79.4 235.8H82.4V238.8H79.4zM82.4 235.8H85.5V238.8H82.4zM85.5 235.8H88.6V238.8H85.5zM88.6 235.8H91.6V238.8H88.6zM91.6 235.8H94.7V238.8H91.6zM76.3 238.8H79.4V241.8H76.3zM79.4 238.8H82.4V241.8H79.4zM82.4 238.8H85.5V241.8H82.4zM73.2 241.8H76.3V244.8H73.2zM76.3 241.8H79.4V244.8H76.3zM76.3 244.8H79.4V247.9H76.3zM131.5 247.9H134.5V250.9H131.5zM149.8 247.9H152.9V250.9H149.8zM152.9 247.9H156.0V250.9H152.9zM137.6 250.9H140.6V253.9H137.6zM140.6 250.9H143.7V253.9H140.6zM143.7 250.9H146.8V253.9H143.7zM146.8 250.9H149.8V253.9H146.8zM149.8 250.9H152.9V253.9H149.8z"/>
<path fill="#ffcb00" d="M143.7 278.1H146.8V280.6H143.7z"/>
<path fill="#ff8900" d="M146.8 278.1H149.8V280.6H146.8z"/></g>
<rect x="195.00" y="48.80" width="144.40" height="72.80" fill="#efefef"/>
<g shape-rendering="crispEdges" filter="url(#bl)"><path fill="#18ff00" d="M195.1 48.8H198.2V50.9H195.1zM198.2 48.8H201.2V50.9H198.2zM201.2 48.8H204.3V50.9H201.2zM204.3 48.8H207.4V50.9H204.3zM207.4 48.8H210.4V50.9H207.4zM210.4 48.8H213.5V50.9H210.4zM213.5 48.8H216.6V50.9H213.5zM216.6 48.8H219.6V50.9H216.6zM195.1 50.9H198.2V54.0H195.1zM198.2 50.9H201.2V54.0H198.2zM201.2 50.9H204.3V54.0H201.2zM204.3 50.9H207.4V54.0H204.3zM207.4 50.9H210.4V54.0H207.4zM210.4 50.9H213.5V54.0H210.4zM213.5 50.9H216.6V54.0H213.5zM216.6 50.9H219.6V54.0H216.6zM219.6 50.9H222.7V54.0H219.6zM222.7 50.9H225.8V54.0H222.7zM198.2 54.0H201.2V57.1H198.2zM201.2 54.0H204.3V57.1H201.2zM204.3 54.0H207.4V57.1H204.3zM207.4 54.0H210.4V57.1H207.4zM210.4 54.0H213.5V57.1H210.4zM219.6 54.0H222.7V57.1H219.6zM222.7 54.0H225.8V57.1H222.7zM225.8 54.0H228.8V57.1H225.8zM201.2 57.1H204.3V60.2H201.2zM204.3 57.1H207.4V60.2H204.3zM225.8 57.1H228.8V60.2H225.8zM204.3 60.2H207.4V63.3H204.3zM228.8 60.2H231.9V63.3H228.8zM231.9 63.3H235.0V66.4H231.9zM235.0 66.4H238.0V69.5H235.0zM238.0 69.5H241.1V72.6H238.0zM253.4 85.0H256.5V88.1H253.4zM256.5 85.0H259.5V88.1H256.5zM259.5 85.0H262.6V88.1H259.5zM305.6 109.7H308.6V112.8H305.6zM308.6 112.8H311.7V115.9H308.6z"/>
<path fill="#0cff00" d="M219.6 48.8H222.7V50.9H219.6zM222.7 48.8H225.8V50.9H222.7zM225.8 50.9H228.8V54.0H225.8zM228.8 57.1H231.9V60.2H228.8zM231.9 60.2H235.0V63.3H231.9zM235.0 63.3H238.0V66.4H235.0zM241.1 72.6H244.2V75.7H241.1zM244.2 75.7H247.3V78.8H244.2zM247.3 78.8H250.3V81.9H247.3zM250.3 81.9H253.4V85.0H250.3zM284.1 94.3H287.1V97.4H284.1zM293.3 100.5H296.4V103.5H293.3zM302.5 106.6H305.6V109.7H302.5zM314.8 115.9H317.8V119.0H314.8zM317.8 119.0H320.9V121.6H317.8z"/>
<path fill="#00ff00" d="M225.8 48.8H228.8V50.9H225.8zM228.8 50.9H231.9V54.0H228.8zM228.8 54.0H231.9V57.1H228.8zM231.9 57.1H235.0V60.2H231.9zM238.0 66.4H241.1V69.5H238.0zM241.1 69.5H244.2V72.6H241.1zM311.7 94.3H314.8V97.4H311.7zM311.7 97.4H314.8V100.5H311.7zM314.8 97.4H317.8V100.5H314.8zM311.7 100.5H314.8V103.5H311.7zM314.8 100.5H317.8V103.5H314.8zM317.8 100.5H320.9V103.5H317.8zM311.7 103.5H314.8V106.6H311.7zM314.8 103.5H317.8V106.6H314.8zM317.8 103.5H320.9V106.6H317.8zM320.9 103.5H324.0V106.6H320.9zM311.7 106.6H314.8V109.7H311.7zM314.8 106.6H317.8V109.7H314.8zM317.8 106.6H320.9V109.7H317.8zM320.9 106.6H324.0V109.7H320.9zM324.0 106.6H327.0V109.7H324.0zM308.6 109.7H311.7V112.8H308.6zM311.7 109.7H314.8V112.8H311.7zM314.8 109.7H317.8V112.8H314.8zM317.8 109.7H320.9V112.8H317.8zM320.9 109.7H324.0V112.8H320.9zM324.0 109.7H327.0V112.8H324.0zM327.0 109.7H330.1V112.8H327.0zM311.7 112.8H314.8V115.9H311.7zM314.8 112.8H317.8V115.9H314.8zM317.8 112.8H320.9V115.9H317.8zM320.9 112.8H324.0V115.9H320.9zM324.0 112.8H327.0V115.9H324.0zM327.0 112.8H330.1V115.9H327.0zM330.1 112.8H333.2V115.9H330.1zM317.8 115.9H320.9V119.0H317.8zM320.9 115.9H324.0V119.0H320.9zM324.0 115.9H327.0V119.0H324.0zM327.0 115.9H330.1V119.0H327.0zM330.1 115.9H333.2V119.0H330.1zM333.2 115.9H336.2V119.0H333.2zM320.9 119.0H324.0V121.6H320.9zM324.0 119.0H327.0V121.6H324.0zM327.0 119.0H330.1V121.6H327.0zM330.1 119.0H333.2V121.6H330.1zM333.2 119.0H336.2V121.6H333.2zM336.2 119.0H339.3V121.6H336.2z"/>
<path fill="#00ff0d" d="M228.8 48.8H231.9V50.9H228.8zM231.9 48.8H235.0V50.9H231.9zM231.9 50.9H235.0V54.0H231.9zM231.9 54.0H235.0V57.1H231.9zM235.0 60.2H238.0V63.3H235.0zM244.2 72.6H247.3V75.7H244.2zM247.3 75.7H250.3V78.8H247.3zM250.3 78.8H253.4V81.9H250.3zM253.4 81.9H256.5V85.0H253.4zM305.6 91.2H308.6V94.3H305.6zM308.6 91.2H311.7V94.3H308.6zM305.6 94.3H308.6V97.4H305.6zM308.6 94.3H311.7V97.4H308.6zM305.6 97.4H308.6V100.5H305.6zM308.6 97.4H311.7V100.5H308.6zM305.6 100.5H308.6V103.5H305.6zM308.6 100.5H311.7V103.5H308.6zM299.4 103.5H302.5V106.6H299.4zM302.5 103.5H305.6V106.6H302.5zM305.6 103.5H308.6V106.6H305.6zM308.6 103.5H311.7V106.6H308.6zM305.6 106.6H308.6V109.7H305.6zM308.6 106.6H311.7V109.7H308.6z"/>
<path fill="#00ff1a" d="M235.0 48.8H238.0V50.9H235.0zM238.0 48.8H241.1V50.9H238.0zM235.0 50.9H238.0V54.0H235.0zM235.0 54.0H238.0V57.1H235.0zM235.0 57.1H238.0V60.2H235.0zM238.0 63.3H241.1V66.4H238.0zM262.6 85.0H265.7V88.1H262.6zM305.6 88.1H308.6V91.2H305.6zM302.5 91.2H305.6V94.3H302.5zM302.5 94.3H305.6V97.4H302.5zM302.5 97.4H305.6V100.5H302.5zM302.5 100.5H305.6V103.5H302.5z"/>
<path fill="#00ff26" d="M241.1 48.8H244.2V50.9H241.1zM244.2 48.8H247.3V50.9H244.2zM247.3 48.8H250.3V50.9H247.3zM250.3 48.8H253.4V50.9H250.3zM253.4 48.8H256.5V50.9H253.4zM256.5 48.8H259.5V50.9H256.5zM238.0 50.9H241.1V54.0H238.0zM238.0 60.2H241.1V63.3H238.0zM241.1 66.4H244.2V69.5H241.1zM302.5 85.0H305.6V88.1H302.5zM302.5 88.1H305.6V91.2H302.5zM290.2 97.4H293.3V100.5H290.2zM299.4 97.4H302.5V100.5H299.4zM296.4 100.5H299.4V103.5H296.4zM299.4 100.5H302.5V103.5H299.4z"/>
<path fill="#00ff33" d="M259.5 48.8H262.6V50.9H259.5zM241.1 50.9H244.2V54.0H241.1zM244.2 50.9H247.3V54.0H244.2zM238.0 54.0H241.1V57.1H238.0zM238.0 57.1H241.1V60.2H238.0zM244.2 69.5H247.3V72.6H244.2zM256.5 81.9H259.5V85.0H256.5zM299.4 85.0H302.5V88.1H299.4zM299.4 88.1H302.5V91.2H299.4zM299.4 91.2H302.5V94.3H299.4zM299.4 94.3H302.5V97.4H299.4z"/>
<path fill="#00ff40" d="M262.6 48.8H265.7V50.9H262.6zM247.3 50.9H250.3V54.0H247.3zM250.3 50.9H253.4V54.0H250.3zM253.4 50.9H256.5V54.0H253.4zM256.5 50.9H259.5V54.0H256.5zM259.5 50.9H262.6V54.0H259.5zM241.1 54.0H244.2V57.1H241.1zM299.4 81.9H302.5V85.0H299.4zM296.4 97.4H299.4V100.5H296.4z"/>
<path fill="#00ff4d" d="M265.7 48.8H268.7V50.9H265.7zM262.6 50.9H265.7V54.0H262.6zM244.2 54.0H247.3V57.1H244.2zM241.1 57.1H244.2V60.2H241.1zM241.1 63.3H244.2V66.4H241.1zM247.3 72.6H250.3V75.7H247.3zM250.3 75.7H253.4V78.8H250.3zM253.4 78.8H256.5V81.9H253.4zM296.4 85.0H299.4V88.1H296.4zM296.4 88.1H299.4V91.2H296.4zM281.0 91.2H284.1V94.3H281.0zM296.4 91.2H299.4V94.3H296.4zM296.4 94.3H299.4V97.4H296.4zM293.3 97.4H296.4V100.5H293.3z"/>
<path fill="#00ff59" d="M268.7 48.8H271.8V50.9H268.7zM265.7 50.9H268.7V54.0H265.7zM247.3 54.0H250.3V57.1H247.3zM250.3 54.0H253.4V57.1H250.3zM253.4 54.0H256.5V57.1H253.4zM241.1 60.2H244.2V63.3H241.1zM296.4 78.8H299.4V81.9H296.4zM296.4 81.9H299.4V85.0H296.4z"/>
<path fill="#00ff66" d="M268.7 50.9H271.8V54.0H268.7zM256.5 54.0H259.5V57.1H256.5zM259.5 54.0H262.6V57.1H259.5zM262.6 54.0H265.7V57.1H262.6zM265.7 54.0H268.7V57.1H265.7zM244.2 57.1H247.3V60.2H244.2zM293.3 91.2H296.4V94.3H293.3zM287.1 94.3H290.2V97.4H287.1zM293.3 94.3H296.4V97.4H293.3z"/>
<path fill="#24ff00" d="M213.5 54.0H216.6V57.1H213.5zM216.6 54.0H219.6V57.1H216.6zM207.4 57.1H210.4V60.2H207.4zM210.4 57.1H213.5V60.2H210.4zM213.5 57.1H216.6V60.2H213.5zM216.6 57.1H219.6V60.2H216.6zM219.6 57.1H222.7V60.2H219.6zM222.7 57.1H225.8V60.2H222.7zM207.4 60.2H210.4V63.3H207.4zM210.4 60.2H213.5V63.3H210.4zM213.5 60.2H216.6V63.3H213.5zM216.6 60.2H219.6V63.3H216.6zM219.6 60.2H222.7V63.3H219.6zM222.7 60.2H225.8V63.3H222.7zM225.8 60.2H228.8V63.3H225.8zM207.4 63.3H210.4V66.4H207.4zM210.4 63.3H213.5V66.4H210.4zM213.5 63.3H216.6V66.4H213.5zM216.6 63.3H219.6V66.4H216.6zM219.6 63.3H222.7V66.4H219.6zM222.7 63.3H225.8V66.4H222.7zM225.8 63.3H228.8V66.4H225.8zM228.8 63.3H231.9V66.4H228.8zM210.4 66.4H213.5V69.5H210.4zM213.5 66.4H216.6V69.5H213.5zM216.6 66.4H219.6V69.5H216.6zM219.6 66.4H222.7V69.5H219.6zM222.7 66.4H225.8V69.5H222.7zM225.8 66.4H228.8V69.5H225.8zM228.8 66.4H231.9V69.5H228.8zM231.9 66.4H235.0V69.5H231.9zM213.5 69.5H216.6V72.6H213.5zM216.6 69.5H219.6V72.6H216.6zM219.6 69.5H222.7V72.6H219.6zM231.9 69.5H235.0V72.6H231.9zM235.0 69.5H238.0V72.6H235.0zM216.6 72.6H219.6V75.7H216.6zM235.0 72.6H238.0V75.7H235.0zM238.0 72.6H241.1V75.7H238.0zM238.0 75.7H241.1V78.8H238.0zM241.1 75.7H244.2V78.8H241.1zM244.2 78.8H247.3V81.9H244.2zM247.3 81.9H250.3V85.0H247.3zM250.3 85.0H253.4V88.1H250.3zM311.7 115.9H314.8V119.0H311.7zM314.8 119.0H317.8V121.6H314.8z"/>
<path fill="#00ff73" d="M268.7 54.0H271.8V57.1H268.7zM271.8 54.0H274.9V57.1H271.8zM247.3 57.1H250.3V60.2H247.3zM244.2 60.2H247.3V63.3H244.2zM293.3 75.7H296.4V78.8H293.3zM293.3 78.8H296.4V81.9H293.3zM293.3 81.9H296.4V85.0H293.3zM293.3 85.0H296.4V88.1H293.3zM293.3 88.1H296.4V91.2H293.3zM290.2 94.3H293.3V97.4H290.2z"/>
<path fill="#00ff80" d="M250.3 57.1H253.4V60.2H250.3zM262.6 57.1H265.7V60.2H262.6zM265.7 57.1H268.7V60.2H265.7zM268.7 57.1H271.8V60.2H268.7zM271.8 57.1H274.9V60.2H271.8zM274.9 57.1H277.9V60.2H274.9zM277.9 60.2H281.0V63.3H277.9zM281.0 63.3H284.1V66.4H281.0zM244.2 66.4H247.3V69.5H244.2zM284.1 66.4H287.1V69.5H284.1zM287.1 69.5H290.2V72.6H287.1zM290.2 72.6H293.3V75.7H290.2zM290.2 75.7H293.3V78.8H290.2zM290.2 78.8H293.3V81.9H290.2z"/>
<path fill="#00ff8c" d="M253.4 57.1H256.5V60.2H253.4zM256.5 57.1H259.5V60.2H256.5zM259.5 57.1H262.6V60.2H259.5zM247.3 60.2H250.3V63.3H247.3zM271.8 60.2H274.9V63.3H271.8zM274.9 60.2H277.9V63.3H274.9zM277.9 63.3H281.0V66.4H277.9zM281.0 66.4H284.1V69.5H281.0zM284.1 69.5H287.1V72.6H284.1zM287.1 72.6H290.2V75.7H287.1zM290.2 81.9H293.3V85.0H290.2zM290.2 91.2H293.3V94.3H290.2z"/>
<path fill="#00ffa6" d="M250.3 60.2H253.4V63.3H250.3zM265.7 60.2H268.7V63.3H265.7zM271.8 63.3H274.9V66.4H271.8zM287.1 78.8H290.2V81.9H287.1zM284.1 91.2H287.1V94.3H284.1z"/>
<path fill="#00ffb3" d="M253.4 60.2H256.5V63.3H253.4zM262.6 60.2H265.7V63.3H262.6zM274.9 66.4H277.9V69.5H274.9zM277.9 69.5H281.0V72.6H277.9zM281.0 72.6H284.1V75.7H281.0zM284.1 75.7H287.1V78.8H284.1zM287.1 81.9H290.2V85.0H287.1zM287.1 91.2H290.2V94.3H287.1z"/>
<path fill="#00ffbf" d="M256.5 60.2H259.5V63.3H256.5zM259.5 60.2H262.6V63.3H259.5zM268.7 63.3H271.8V66.4H268.7zM287.1 85.0H290.2V88.1H287.1zM287.1 88.1H290.2V91.2H287.1z"/>
<path fill="#00ff99" d="M268.7 60.2H271.8V63.3H268.7zM244.2 63.3H247.3V66.4H244.2zM274.9 63.3H277.9V66.4H274.9zM277.9 66.4H281.0V69.5H277.9zM281.0 69.5H284.1V72.6H281.0zM284.1 72.6H287.1V75.7H284.1zM287.1 75.7H290.2V78.8H287.1zM290.2 85.0H293.3V88.1H290.2zM277.9 88.1H281.0V91.2H277.9zM290.2 88.1H293.3V91.2H290.2z"/>
<path fill="#00ffcc" d="M247.3 63.3H250.3V66.4H247.3zM250.3 63.3H253.4V66.4H250.3zM265.7 63.3H268.7V66.4H265.7zM271.8 66.4H274.9V69.5H271.8zM247.3 69.5H250.3V72.6H247.3zM281.0 75.7H284.1V78.8H281.0zM284.1 78.8H287.1V81.9H284.1z"/>
<path fill="#00ffe6" d="M253.4 63.3H256.5V66.4H253.4zM262.6 63.3H265.7V66.4H262.6zM268.7 66.4H271.8V69.5H268.7zM271.8 85.0H274.9V88.1H271.8zM284.1 85.0H287.1V88.1H284.1zM281.0 88.1H284.1V91.2H281.0zM284.1 88.1H287.1V91.2H284.1z"/>
<path fill="#00fff2" d="M256.5 63.3H259.5V66.4H256.5zM259.5 63.3H262.6V66.4H259.5zM271.8 69.5H274.9V72.6H271.8zM281.0 78.8H284.1V81.9H281.0zM274.9 85.0H277.9V88.1H274.9z"/>
<path fill="#00f4ff" d="M247.3 66.4H250.3V69.5H247.3zM256.5 66.4H259.5V69.5H256.5zM262.6 66.4H265.7V69.5H262.6zM268.7 69.5H271.8V72.6H268.7zM277.9 78.8H281.0V81.9H277.9zM277.9 85.0H281.0V88.1H277.9z"/>
<path fill="#00d7ff" d="M250.3 66.4H253.4V69.5H250.3zM259.5 69.5H262.6V72.6H259.5z"/>
<path fill="#00e8ff" d="M253.4 66.4H256.5V69.5H253.4zM265.7 69.5H268.7V72.6H265.7zM256.5 78.8H259.5V81.9H256.5zM277.9 81.9H281.0V85.0H277.9z"/>
<path fill="#00eeff" d="M259.5 66.4H262.6V69.5H259.5zM271.8 72.6H274.9V75.7H271.8zM274.9 75.7H277.9V78.8H274.9zM265.7 85.0H268.7V88.1H265.7z"/>
<path fill="#00ffff" d="M265.7 66.4H268.7V69.5H265.7zM274.9 72.6H277.9V75.7H274.9zM277.9 75.7H281.0V78.8H277.9z"/>
<path fill="#31ff00" d="M222.7 69.5H225.8V72.6H222.7zM225.8 69.5H228.8V72.6H225.8zM228.8 69.5H231.9V72.6H228.8zM219.6 72.6H222.7V75.7H219.6zM222.7 72.6H225.8V75.7H222.7zM225.8 72.6H228.8V75.7H225.8zM228.8 72.6H231.9V75.7H228.8zM231.9 72.6H235.0V75.7H231.9zM219.6 75.7H222.7V78.8H219.6zM222.7 75.7H225.8V78.8H222.7zM225.8 75.7H228.8V78.8H225.8zM228.8 75.7H231.9V78.8H228.8zM231.9 75.7H235.0V78.8H231.9zM235.0 75.7H238.0V78.8H235.0zM222.7 78.8H225.8V81.9H222.7zM225.8 78.8H228.8V81.9H225.8zM228.8 78.8H231.9V81.9H228.8zM231.9 78.8H235.0V81.9H231.9zM235.0 78.8H238.0V81.9H235.0zM238.0 78.8H241.1V81.9H238.0zM241.1 78.8H244.2V81.9H241.1zM225.8 81.9H228.8V85.0H225.8zM228.8 81.9H231.9V85.0H228.8zM231.9 81.9H235.0V85.0H231.9zM235.0 81.9H238.0V85.0H235.0zM238.0 81.9H241.1V85.0H238.0zM241.1 81.9H244.2V85.0H241.1zM244.2 81.9H247.3V85.0H244.2zM228.8 85.0H231.9V88.1H228.8zM231.9 85.0H235.0V88.1H231.9zM235.0 85.0H238.0V88.1H235.0zM241.1 85.0H244.2V88.1H241.1zM244.2 85.0H247.3V88.1H244.2zM247.3 85.0H250.3V88.1H247.3zM231.9 88.1H235.0V91.2H231.9zM296.4 103.5H299.4V106.6H296.4z"/>
<path fill="#0098ff" d="M250.3 69.5H253.4V72.6H250.3zM268.7 85.0H271.8V88.1H268.7z"/>
<path fill="#0064ff" d="M253.4 69.5H256.5V72.6H253.4z"/>
<path fill="#00a9ff" d="M256.5 69.5H259.5V72.6H256.5z"/>
<path fill="#00ddff" d="M262.6 69.5H265.7V72.6H262.6zM268.7 72.6H271.8V75.7H268.7zM271.8 75.7H274.9V78.8H271.8zM274.9 78.8H277.9V81.9H274.9zM274.9 81.9H277.9V85.0H274.9z"/>
<path fill="#00ffd9" d="M274.9 69.5H277.9V72.6H274.9zM277.9 72.6H281.0V75.7H277.9zM259.5 81.9H262.6V85.0H259.5zM284.1 81.9H287.1V85.0H284.1z"/>
<path fill="#00f9ff" d="M250.3 72.6H253.4V75.7H250.3zM281.0 81.9H284.1V85.0H281.0zM281.0 85.0H284.1V88.1H281.0z"/>
<path fill="#002aff" d="M253.4 72.6H256.5V75.7H253.4z"/>
<path fill="#0000dd" d="M256.5 72.6H259.5V75.7H256.5z"/>
<path fill="#0053ff" d="M259.5 72.6H262.6V75.7H259.5z"/>
<path fill="#00baff" d="M262.6 72.6H265.7V75.7H262.6z"/>
<path fill="#00d1ff" d="M265.7 72.6H268.7V75.7H265.7zM271.8 78.8H274.9V81.9H271.8z"/>
<path fill="#00e2ff" d="M253.4 75.7H256.5V78.8H253.4z"/>
<path fill="#0000e4" d="M256.5 75.7H259.5V78.8H256.5z"/>
<path fill="#000080" d="M259.5 75.7H262.6V78.8H259.5zM262.6 78.8H265.7V81.9H262.6z"/>
<path fill="#0000f6" d="M262.6 75.7H265.7V78.8H262.6z"/>
<path fill="#00a3ff" d="M265.7 75.7H268.7V78.8H265.7z"/>
<path fill="#00cbff" d="M268.7 75.7H271.8V78.8H268.7z"/>
<path fill="#0000d5" d="M259.5 78.8H262.6V81.9H259.5z"/>
<path fill="#0000d2" d="M265.7 78.8H268.7V81.9H265.7z"/>
<path fill="#009dff" d="M268.7 78.8H271.8V81.9H268.7z"/>
<path fill="#000eff" d="M262.6 81.9H265.7V85.0H262.6z"/>
<path fill="#00008a" d="M265.7 81.9H268.7V85.0H265.7z"/>
<path fill="#0008ff" d="M268.7 81.9H271.8V85.0H268.7z"/>
<path fill="#00c0ff" d="M271.8 81.9H274.9V85.0H271.8z"/>
<path fill="#3dff00" d="M238.0 85.0H241.1V88.1H238.0zM235.0 88.1H238.0V91.2H235.0zM238.0 88.1H241.1V91.2H238.0zM241.1 88.1H244.2V91.2H241.1zM244.2 88.1H247.3V91.2H244.2zM247.3 88.1H250.3V91.2H247.3zM250.3 88.1H253.4V91.2H250.3zM253.4 88.1H256.5V91.2H253.4zM274.9 88.1H277.9V91.2H274.9zM235.0 91.2H238.0V94.3H235.0zM238.0 91.2H241.1V94.3H238.0zM241.1 91.2H244.2V94.3H241.1zM244.2 91.2H247.3V94.3H244.2zM247.3 91.2H250.3V94.3H247.3zM238.0 94.3H241.1V97.4H238.0zM241.1 94.3H244.2V97.4H241.1zM244.2 94.3H247.3V97.4H244.2zM241.1 97.4H244.2V100.5H241.1zM244.2 97.4H247.3V100.5H244.2z"/>
<path fill="#49ff00" d="M256.5 88.1H259.5V91.2H256.5zM250.3 91.2H253.4V94.3H250.3zM247.3 94.3H250.3V97.4H247.3zM247.3 97.4H250.3V100.5H247.3zM244.2 100.5H247.3V103.5H244.2zM299.4 106.6H302.5V109.7H299.4z"/>
<path fill="#79ff00" d="M259.5 88.1H262.6V91.2H259.5zM256.5 91.2H259.5V94.3H256.5zM250.3 103.5H253.4V106.6H250.3zM250.3 106.6H253.4V109.7H250.3z"/>
<path fill="#ceff00" d="M262.6 88.1H265.7V91.2H262.6zM259.5 103.5H262.6V106.6H259.5zM262.6 106.6H265.7V109.7H262.6zM265.7 109.7H268.7V112.8H265.7zM277.9 115.9H281.0V119.0H277.9zM287.1 119.0H290.2V121.6H287.1z"/>
<path fill="#ffc400" d="M265.7 88.1H268.7V91.2H265.7zM277.9 106.6H281.0V109.7H277.9z"/>
<path fill="#ff9600" d="M268.7 88.1H271.8V91.2H268.7z"/>
<path fill="#ffd100" d="M271.8 88.1H274.9V91.2H271.8zM265.7 97.4H268.7V100.5H265.7zM268.7 100.5H271.8V103.5H268.7z"/>
<path fill="#55ff00" d="M253.4 91.2H256.5V94.3H253.4zM250.3 94.3H253.4V97.4H250.3zM247.3 100.5H250.3V103.5H247.3z"/>
<path fill="#b6ff00" d="M259.5 91.2H262.6V94.3H259.5zM256.5 97.4H259.5V100.5H256.5zM256.5 100.5H259.5V103.5H256.5zM256.5 103.5H259.5V106.6H256.5zM265.7 112.8H268.7V115.9H265.7zM271.8 115.9H274.9V119.0H271.8zM277.9 119.0H281.0V121.6H277.9z"/>
<path fill="#fff200" d="M262.6 91.2H265.7V94.3H262.6zM281.0 94.3H284.1V97.4H281.0zM262.6 97.4H265.7V100.5H262.6zM271.8 106.6H274.9V109.7H271.8z"/>
<path fill="#ff7c00" d="M265.7 91.2H268.7V94.3H265.7z"/>
<path fill="#ec0000" d="M268.7 91.2H271.8V94.3H268.7z"/>
<path fill="#dc0000" d="M271.8 91.2H274.9V94.3H271.8z"/>
<path fill="#ff5c00" d="M274.9 91.2H277.9V94.3H274.9zM287.1 109.7H290.2V112.8H287.1z"/>
<path fill="#aaff00" d="M277.9 91.2H281.0V94.3H277.9zM256.5 106.6H259.5V109.7H256.5zM259.5 109.7H262.6V112.8H259.5zM262.6 112.8H265.7V115.9H262.6zM268.7 115.9H271.8V119.0H268.7zM274.9 119.0H277.9V121.6H274.9z"/>
<path fill="#6dff00" d="M253.4 94.3H256.5V97.4H253.4zM250.3 100.5H253.4V103.5H250.3zM308.6 115.9H311.7V119.0H308.6z"/>
<path fill="#9eff00" d="M256.5 94.3H259.5V97.4H256.5zM290.2 100.5H293.3V103.5H290.2zM256.5 109.7H259.5V112.8H256.5zM259.5 112.8H262.6V115.9H259.5zM265.7 115.9H268.7V119.0H265.7zM268.7 119.0H271.8V121.6H268.7zM271.8 119.0H274.9V121.6H271.8z"/>
<path fill="#dbff00" d="M259.5 94.3H262.6V97.4H259.5zM259.5 100.5H262.6V103.5H259.5zM293.3 103.5H296.4V106.6H293.3zM271.8 112.8H274.9V115.9H271.8zM281.0 115.9H284.1V119.0H281.0zM290.2 119.0H293.3V121.6H290.2z"/>
<path fill="#ffeb00" d="M262.6 94.3H265.7V97.4H262.6zM265.7 100.5H268.7V103.5H265.7zM268.7 103.5H271.8V106.6H268.7zM277.9 109.7H281.0V112.8H277.9zM284.1 112.8H287.1V115.9H284.1zM290.2 115.9H293.3V119.0H290.2zM296.4 119.0H299.4V121.6H296.4z"/>
<path fill="#ffaa00" d="M265.7 94.3H268.7V97.4H265.7zM284.1 109.7H287.1V112.8H284.1z"/>
<path fill="#ff2e00" d="M268.7 94.3H271.8V97.4H268.7z"/>
<path fill="#cf0000" d="M271.8 94.3H274.9V97.4H271.8z"/>
<path fill="#bf0000" d="M274.9 94.3H277.9V97.4H274.9z"/>
<path fill="#ff1a00" d="M277.9 94.3H281.0V97.4H277.9z"/>
<path fill="#61ff00" d="M250.3 97.4H253.4V100.5H250.3zM287.1 97.4H290.2V100.5H287.1zM247.3 103.5H250.3V106.6H247.3zM302.5 109.7H305.6V112.8H302.5zM305.6 112.8H308.6V115.9H305.6zM311.7 119.0H314.8V121.6H311.7z"/>
<path fill="#86ff00" d="M253.4 97.4H256.5V100.5H253.4zM262.6 119.0H265.7V121.6H262.6z"/>
<path fill="#e7ff00" d="M259.5 97.4H262.6V100.5H259.5zM262.6 103.5H265.7V106.6H262.6zM265.7 106.6H268.7V109.7H265.7zM268.7 109.7H271.8V112.8H268.7zM274.9 112.8H277.9V115.9H274.9zM284.1 115.9H287.1V119.0H284.1zM308.6 119.0H311.7V121.6H308.6z"/>
<path fill="#ff9d00" d="M268.7 97.4H271.8V100.5H268.7zM302.5 115.9H305.6V119.0H302.5zM302.5 119.0H305.6V121.6H302.5z"/>
<path fill="#ff3400" d="M271.8 97.4H274.9V100.5H271.8zM296.4 112.8H299.4V115.9H296.4z"/>
<path fill="#d60000" d="M274.9 97.4H277.9V100.5H274.9z"/>
<path fill="#b90000" d="M277.9 97.4H281.0V100.5H277.9z"/>
<path fill="#f50000" d="M281.0 97.4H284.1V100.5H281.0z"/>
<path fill="#ffbe00" d="M284.1 97.4H287.1V100.5H284.1zM293.3 115.9H296.4V119.0H293.3zM299.4 119.0H302.5V121.6H299.4zM305.6 119.0H308.6V121.6H305.6z"/>
<path fill="#92ff00" d="M253.4 100.5H256.5V103.5H253.4zM253.4 103.5H256.5V106.6H253.4zM253.4 106.6H256.5V109.7H253.4zM253.4 109.7H256.5V112.8H253.4zM256.5 112.8H259.5V115.9H256.5zM259.5 115.9H262.6V119.0H259.5zM262.6 115.9H265.7V119.0H262.6zM265.7 119.0H268.7V121.6H265.7z"/>
<path fill="#ffff00" d="M262.6 100.5H265.7V103.5H262.6zM265.7 103.5H268.7V106.6H265.7zM268.7 106.6H271.8V109.7H268.7zM299.4 109.7H302.5V112.8H299.4zM287.1 115.9H290.2V119.0H287.1zM305.6 115.9H308.6V119.0H305.6z"/>
<path fill="#ffa300" d="M271.8 100.5H274.9V103.5H271.8z"/>
<path fill="#ff4800" d="M274.9 100.5H277.9V103.5H274.9zM293.3 112.8H296.4V115.9H293.3z"/>
<path fill="#e20000" d="M277.9 100.5H281.0V103.5H277.9z"/>
<path fill="#bc0000" d="M281.0 100.5H284.1V103.5H281.0z"/>
<path fill="#e90000" d="M284.1 100.5H287.1V103.5H284.1zM287.1 103.5H290.2V106.6H287.1z"/>
<path fill="#ff9000" d="M287.1 100.5H290.2V103.5H287.1zM290.2 112.8H293.3V115.9H290.2z"/>
<path fill="#ffd800" d="M271.8 103.5H274.9V106.6H271.8zM281.0 109.7H284.1V112.8H281.0z"/>
<path fill="#ffb100" d="M274.9 103.5H277.9V106.6H274.9z"/>
<path fill="#ff6900" d="M277.9 103.5H281.0V106.6H277.9zM299.4 115.9H302.5V119.0H299.4z"/>
<path fill="#f90000" d="M281.0 103.5H284.1V106.6H281.0z"/>
<path fill="#cc0000" d="M284.1 103.5H287.1V106.6H284.1z"/>
<path fill="#ff7600" d="M290.2 103.5H293.3V106.6H290.2zM296.4 109.7H299.4V112.8H296.4z"/>
<path fill="#c2ff00" d="M259.5 106.6H262.6V109.7H259.5zM262.6 109.7H265.7V112.8H262.6zM268.7 112.8H271.8V115.9H268.7zM274.9 115.9H277.9V119.0H274.9zM281.0 119.0H284.1V121.6H281.0zM284.1 119.0H287.1V121.6H284.1z"/>
<path fill="#ffde00" d="M274.9 106.6H277.9V109.7H274.9z"/>
<path fill="#ff8900" d="M281.0 106.6H284.1V109.7H281.0z"/>
<path fill="#ff2700" d="M284.1 106.6H287.1V109.7H284.1z"/>
<path fill="#e60000" d="M287.1 106.6H290.2V109.7H287.1z"/>
<path fill="#ef0000" d="M290.2 106.6H293.3V109.7H290.2z"/>
<path fill="#ff6f00" d="M293.3 106.6H296.4V109.7H293.3z"/>
<path fill="#f3ff00" d="M296.4 106.6H299.4V109.7H296.4zM271.8 109.7H274.9V112.8H271.8zM277.9 112.8H281.0V115.9H277.9zM293.3 119.0H296.4V121.6H293.3z"/>
<path fill="#fff800" d="M274.9 109.7H277.9V112.8H274.9zM281.0 112.8H284.1V115.9H281.0zM302.5 112.8H305.6V115.9H302.5z"/>
<path fill="#ff0700" d="M290.2 109.7H293.3V112.8H290.2z"/>
<path fill="#ff0000" d="M293.3 109.7H296.4V112.8H293.3z"/>
<path fill="#ffcb00" d="M287.1 112.8H290.2V115.9H287.1z"/>
<path fill="#ff8300" d="M299.4 112.8H302.5V115.9H299.4zM296.4 115.9H299.4V119.0H296.4z"/></g>
<rect x="195.00" y="130.40" width="144.40" height="70.70" fill="#efefef"/>
<g shape-rendering="crispEdges" filter="url(#bl)"><path fill="#00ff00" d="M195.1 130.4H198.2V132.5H195.1zM198.2 130.4H201.2V132.5H198.2zM201.2 130.4H204.3V132.5H201.2zM204.3 130.4H207.4V132.5H204.3zM207.4 130.4H210.4V132.5H207.4zM210.4 130.4H213.5V132.5H210.4zM213.5 130.4H216.6V132.5H213.5zM216.6 130.4H219.6V132.5H216.6zM195.1 132.5H198.2V135.5H195.1zM198.2 132.5H201.2V135.5H198.2zM201.2 132.5H204.3V135.5H201.2zM204.3 132.5H207.4V135.5H204.3zM207.4 132.5H210.4V135.5H207.4zM210.4 132.5H213.5V135.5H210.4zM213.5 132.5H216.6V135.5H213.5zM216.6 132.5H219.6V135.5H216.6zM198.2 135.5H201.2V138.5H198.2zM201.2 135.5H204.3V138.5H201.2zM204.3 135.5H207.4V138.5H204.3zM207.4 135.5H210.4V138.5H207.4zM210.4 135.5H213.5V138.5H210.4zM219.6 135.5H222.7V138.5H219.6zM247.3 135.5H250.3V138.5H247.3zM201.2 138.5H204.3V141.5H201.2zM204.3 138.5H207.4V141.5H204.3zM207.4 138.5H210.4V141.5H207.4zM222.7 138.5H225.8V141.5H222.7zM204.3 141.5H207.4V144.5H204.3zM250.3 141.5H253.4V144.5H250.3zM235.0 147.5H238.0V150.5H235.0zM244.2 153.5H247.3V156.5H244.2zM256.5 171.5H259.5V174.6H256.5zM287.1 174.6H290.2V177.6H287.1zM253.4 177.6H256.5V180.6H253.4zM250.3 183.6H253.4V186.6H250.3zM302.5 186.6H305.6V189.6H302.5zM314.8 198.6H317.8V201.1H314.8z"/>
<path fill="#0cff00" d="M219.6 130.4H222.7V132.5H219.6zM219.6 132.5H222.7V135.5H219.6zM222.7 135.5H225.8V138.5H222.7zM225.8 138.5H228.8V141.5H225.8zM228.8 141.5H231.9V144.5H228.8zM231.9 144.5H235.0V147.5H231.9zM250.3 144.5H253.4V147.5H250.3zM250.3 147.5H253.4V150.5H250.3zM241.1 150.5H244.2V153.5H241.1zM250.3 150.5H253.4V153.5H250.3zM247.3 153.5H250.3V156.5H247.3zM250.3 153.5H253.4V156.5H250.3zM259.5 165.5H262.6V168.5H259.5zM256.5 174.6H259.5V177.6H256.5zM253.4 180.6H256.5V183.6H253.4zM250.3 186.6H253.4V189.6H250.3zM305.6 189.6H308.6V192.6H305.6zM308.6 192.6H311.7V195.6H308.6zM311.7 195.6H314.8V198.6H311.7z"/>
<path fill="#31ff00" d="M222.7 130.4H225.8V132.5H222.7zM225.8 135.5H228.8V138.5H225.8zM235.0 144.5H238.0V147.5H235.0zM247.3 150.5H250.3V153.5H247.3zM262.6 165.5H265.7V168.5H262.6zM259.5 171.5H262.6V174.6H259.5zM256.5 180.6H259.5V183.6H256.5zM256.5 183.6H259.5V186.6H256.5zM256.5 186.6H259.5V189.6H256.5zM259.5 192.6H262.6V195.6H259.5zM259.5 195.6H262.6V198.6H259.5zM262.6 195.6H265.7V198.6H262.6zM262.6 198.6H265.7V201.1H262.6z"/>
<path fill="#61ff00" d="M225.8 130.4H228.8V132.5H225.8zM238.0 144.5H241.1V147.5H238.0zM262.6 168.5H265.7V171.5H262.6zM262.6 183.6H265.7V186.6H262.6zM265.7 186.6H268.7V189.6H265.7zM268.7 192.6H271.8V195.6H268.7zM271.8 195.6H274.9V198.6H271.8zM308.6 195.6H311.7V198.6H308.6zM277.9 198.6H281.0V201.1H277.9zM281.0 198.6H284.1V201.1H281.0zM284.1 198.6H287.1V201.1H284.1z"/>
<path fill="#9eff00" d="M228.8 130.4H231.9V132.5H228.8zM228.8 132.5H231.9V135.5H228.8zM265.7 177.6H268.7V180.6H265.7zM281.0 192.6H284.1V195.6H281.0z"/>
<path fill="#c2ff00" d="M231.9 130.4H235.0V132.5H231.9zM238.0 132.5H241.1V135.5H238.0zM231.9 135.5H235.0V138.5H231.9zM235.0 138.5H238.0V141.5H235.0zM287.1 177.6H290.2V180.6H287.1zM281.0 189.6H284.1V192.6H281.0z"/>
<path fill="#aaff00" d="M235.0 130.4H238.0V132.5H235.0zM241.1 135.5H244.2V138.5H241.1zM238.0 141.5H241.1V144.5H238.0zM268.7 180.6H271.8V183.6H268.7zM271.8 183.6H274.9V186.6H271.8zM274.9 186.6H277.9V189.6H274.9zM277.9 189.6H281.0V192.6H277.9zM284.1 192.6H287.1V195.6H284.1zM290.2 195.6H293.3V198.6H290.2z"/>
<path fill="#6dff00" d="M238.0 130.4H241.1V132.5H238.0zM241.1 132.5H244.2V135.5H241.1zM228.8 135.5H231.9V138.5H228.8zM262.6 180.6H265.7V183.6H262.6zM296.4 183.6H299.4V186.6H296.4zM268.7 189.6H271.8V192.6H268.7zM271.8 192.6H274.9V195.6H271.8zM274.9 195.6H277.9V198.6H274.9zM277.9 195.6H281.0V198.6H277.9zM287.1 198.6H290.2V201.1H287.1zM290.2 198.6H293.3V201.1H290.2z"/>
<path fill="#18ff00" d="M241.1 130.4H244.2V132.5H241.1zM244.2 132.5H247.3V135.5H244.2zM259.5 168.5H262.6V171.5H259.5zM271.8 168.5H274.9V171.5H271.8zM253.4 183.6H256.5V186.6H253.4zM253.4 186.6H256.5V189.6H253.4zM253.4 189.6H256.5V192.6H253.4z"/>
<path fill="#00ff1a" d="M244.2 130.4H247.3V132.5H244.2zM222.7 144.5H225.8V147.5H222.7zM225.8 144.5H228.8V147.5H225.8zM219.6 147.5H222.7V150.5H219.6zM222.7 147.5H225.8V150.5H222.7zM225.8 147.5H228.8V150.5H225.8zM228.8 147.5H231.9V150.5H228.8zM216.6 150.5H219.6V153.5H216.6zM219.6 150.5H222.7V153.5H219.6zM222.7 150.5H225.8V153.5H222.7zM235.0 150.5H238.0V153.5H235.0zM216.6 153.5H219.6V156.5H216.6zM219.6 153.5H222.7V156.5H219.6zM241.1 153.5H244.2V156.5H241.1zM250.3 159.5H253.4V162.5H250.3zM253.4 159.5H256.5V162.5H253.4zM256.5 162.5H259.5V165.5H256.5zM259.5 162.5H262.6V165.5H259.5zM256.5 165.5H259.5V168.5H256.5zM253.4 174.6H256.5V177.6H253.4zM250.3 177.6H253.4V180.6H250.3zM296.4 180.6H299.4V183.6H296.4zM247.3 183.6H250.3V186.6H247.3zM314.8 195.6H317.8V198.6H314.8zM317.8 198.6H320.9V201.1H317.8zM333.2 198.6H336.2V201.1H333.2zM336.2 198.6H339.3V201.1H336.2z"/>
<path fill="#00ff40" d="M247.3 130.4H250.3V132.5H247.3zM250.3 135.5H253.4V138.5H250.3zM253.4 141.5H256.5V144.5H253.4zM238.0 162.5H241.1V165.5H238.0zM241.1 162.5H244.2V165.5H241.1zM244.2 162.5H247.3V165.5H244.2zM235.0 165.5H238.0V168.5H235.0zM238.0 165.5H241.1V168.5H238.0zM241.1 165.5H244.2V168.5H241.1zM244.2 165.5H247.3V168.5H244.2zM247.3 165.5H250.3V168.5H247.3zM231.9 168.5H235.0V171.5H231.9zM235.0 168.5H238.0V171.5H235.0zM238.0 168.5H241.1V171.5H238.0zM241.1 168.5H244.2V171.5H241.1zM244.2 168.5H247.3V171.5H244.2zM247.3 168.5H250.3V171.5H247.3zM235.0 171.5H238.0V174.6H235.0zM238.0 171.5H241.1V174.6H238.0zM241.1 171.5H244.2V174.6H241.1zM244.2 171.5H247.3V174.6H244.2zM247.3 171.5H250.3V174.6H247.3zM238.0 174.6H241.1V177.6H238.0zM241.1 174.6H244.2V177.6H241.1zM244.2 174.6H247.3V177.6H244.2zM290.2 174.6H293.3V177.6H290.2zM241.1 177.6H244.2V180.6H241.1zM314.8 177.6H317.8V180.6H314.8zM299.4 180.6H302.5V183.6H299.4zM311.7 180.6H314.8V183.6H311.7zM314.8 180.6H317.8V183.6H314.8zM317.8 180.6H320.9V183.6H317.8zM305.6 183.6H308.6V186.6H305.6zM308.6 183.6H311.7V186.6H308.6zM311.7 183.6H314.8V186.6H311.7zM314.8 183.6H317.8V186.6H314.8zM317.8 183.6H320.9V186.6H317.8zM308.6 186.6H311.7V189.6H308.6zM311.7 186.6H314.8V189.6H311.7zM314.8 186.6H317.8V189.6H314.8z"/>
<path fill="#00ff4d" d="M250.3 130.4H253.4V132.5H250.3zM250.3 132.5H253.4V135.5H250.3zM253.4 138.5H256.5V141.5H253.4zM308.6 174.6H311.7V177.6H308.6zM311.7 174.6H314.8V177.6H311.7zM296.4 177.6H299.4V180.6H296.4zM305.6 177.6H308.6V180.6H305.6zM308.6 177.6H311.7V180.6H308.6zM311.7 177.6H314.8V180.6H311.7zM302.5 180.6H305.6V183.6H302.5zM305.6 180.6H308.6V183.6H305.6zM308.6 180.6H311.7V183.6H308.6z"/>
<path fill="#00ff59" d="M253.4 130.4H256.5V132.5H253.4zM256.5 130.4H259.5V132.5H256.5zM253.4 132.5H256.5V135.5H253.4zM256.5 132.5H259.5V135.5H256.5zM253.4 135.5H256.5V138.5H253.4zM256.5 135.5H259.5V138.5H256.5zM256.5 138.5H259.5V141.5H256.5zM256.5 141.5H259.5V144.5H256.5zM256.5 144.5H259.5V147.5H256.5zM256.5 156.5H259.5V159.5H256.5zM302.5 168.5H305.6V171.5H302.5zM305.6 168.5H308.6V171.5H305.6zM299.4 171.5H302.5V174.6H299.4zM302.5 171.5H305.6V174.6H302.5zM305.6 171.5H308.6V174.6H305.6zM308.6 171.5H311.7V174.6H308.6zM293.3 174.6H296.4V177.6H293.3zM296.4 174.6H299.4V177.6H296.4zM299.4 174.6H302.5V177.6H299.4zM302.5 174.6H305.6V177.6H302.5zM305.6 174.6H308.6V177.6H305.6zM299.4 177.6H302.5V180.6H299.4zM302.5 177.6H305.6V180.6H302.5z"/>
<path fill="#00ff66" d="M259.5 130.4H262.6V132.5H259.5zM262.6 130.4H265.7V132.5H262.6zM265.7 130.4H268.7V132.5H265.7zM268.7 130.4H271.8V132.5H268.7zM259.5 132.5H262.6V135.5H259.5zM262.6 132.5H265.7V135.5H262.6zM265.7 132.5H268.7V135.5H265.7zM268.7 132.5H271.8V135.5H268.7zM259.5 135.5H262.6V138.5H259.5zM262.6 135.5H265.7V138.5H262.6zM265.7 135.5H268.7V138.5H265.7zM259.5 138.5H262.6V141.5H259.5zM262.6 138.5H265.7V141.5H262.6zM265.7 138.5H268.7V141.5H265.7zM259.5 141.5H262.6V144.5H259.5zM262.6 141.5H265.7V144.5H262.6zM256.5 147.5H259.5V150.5H256.5zM293.3 159.5H296.4V162.5H293.3zM296.4 159.5H299.4V162.5H296.4zM293.3 162.5H296.4V165.5H293.3zM296.4 162.5H299.4V165.5H296.4zM299.4 162.5H302.5V165.5H299.4zM293.3 165.5H296.4V168.5H293.3zM296.4 165.5H299.4V168.5H296.4zM299.4 165.5H302.5V168.5H299.4zM302.5 165.5H305.6V168.5H302.5zM274.9 168.5H277.9V171.5H274.9zM277.9 168.5H281.0V171.5H277.9zM293.3 168.5H296.4V171.5H293.3zM296.4 168.5H299.4V171.5H296.4zM299.4 168.5H302.5V171.5H299.4zM287.1 171.5H290.2V174.6H287.1zM290.2 171.5H293.3V174.6H290.2zM293.3 171.5H296.4V174.6H293.3zM296.4 171.5H299.4V174.6H296.4z"/>
<path fill="#24ff00" d="M222.7 132.5H225.8V135.5H222.7zM247.3 138.5H250.3V141.5H247.3zM238.0 147.5H241.1V150.5H238.0zM244.2 150.5H247.3V153.5H244.2zM265.7 165.5H268.7V168.5H265.7zM281.0 171.5H284.1V174.6H281.0zM256.5 177.6H259.5V180.6H256.5zM290.2 177.6H293.3V180.6H290.2zM256.5 189.6H259.5V192.6H256.5zM256.5 192.6H259.5V195.6H256.5z"/>
<path fill="#55ff00" d="M225.8 132.5H228.8V135.5H225.8zM247.3 144.5H250.3V147.5H247.3zM244.2 147.5H247.3V150.5H244.2zM262.6 186.6H265.7V189.6H262.6zM265.7 189.6H268.7V192.6H265.7zM268.7 195.6H271.8V198.6H268.7zM274.9 198.6H277.9V201.1H274.9z"/>
<path fill="#dbff00" d="M231.9 132.5H235.0V135.5H231.9zM271.8 180.6H274.9V183.6H271.8zM274.9 183.6H277.9V186.6H274.9zM287.1 192.6H290.2V195.6H287.1z"/>
<path fill="#f3ff00" d="M235.0 132.5H238.0V135.5H235.0zM238.0 135.5H241.1V138.5H238.0zM290.2 180.6H293.3V183.6H290.2zM293.3 195.6H296.4V198.6H293.3zM305.6 195.6H308.6V198.6H305.6z"/>
<path fill="#00ff26" d="M247.3 132.5H250.3V135.5H247.3zM250.3 138.5H253.4V141.5H250.3zM225.8 150.5H228.8V153.5H225.8zM228.8 150.5H231.9V153.5H228.8zM231.9 150.5H235.0V153.5H231.9zM222.7 153.5H225.8V156.5H222.7zM225.8 153.5H228.8V156.5H225.8zM228.8 153.5H231.9V156.5H228.8zM231.9 153.5H235.0V156.5H231.9zM235.0 153.5H238.0V156.5H235.0zM238.0 153.5H241.1V156.5H238.0zM253.4 153.5H256.5V156.5H253.4zM219.6 156.5H222.7V159.5H219.6zM222.7 156.5H225.8V159.5H222.7zM225.8 156.5H228.8V159.5H225.8zM228.8 156.5H231.9V159.5H228.8zM241.1 156.5H244.2V159.5H241.1zM244.2 156.5H247.3V159.5H244.2zM222.7 159.5H225.8V162.5H222.7zM225.8 159.5H228.8V162.5H225.8zM247.3 159.5H250.3V162.5H247.3zM256.5 159.5H259.5V162.5H256.5zM253.4 162.5H256.5V165.5H253.4zM253.4 165.5H256.5V168.5H253.4zM253.4 168.5H256.5V171.5H253.4zM253.4 171.5H256.5V174.6H253.4zM250.3 174.6H253.4V177.6H250.3zM247.3 180.6H250.3V183.6H247.3zM308.6 189.6H311.7V192.6H308.6zM327.0 189.6H330.1V192.6H327.0zM311.7 192.6H314.8V195.6H311.7zM324.0 192.6H327.0V195.6H324.0zM327.0 192.6H330.1V195.6H327.0zM330.1 192.6H333.2V195.6H330.1zM317.8 195.6H320.9V198.6H317.8zM320.9 195.6H324.0V198.6H320.9zM324.0 195.6H327.0V198.6H324.0zM327.0 195.6H330.1V198.6H327.0zM330.1 195.6H333.2V198.6H330.1zM333.2 195.6H336.2V198.6H333.2zM320.9 198.6H324.0V201.1H320.9zM324.0 198.6H327.0V201.1H324.0zM327.0 198.6H330.1V201.1H327.0zM330.1 198.6H333.2V201.1H330.1z"/>
<path fill="#00ff0d" d="M213.5 135.5H216.6V138.5H213.5zM216.6 135.5H219.6V138.5H216.6zM210.4 138.5H213.5V141.5H210.4zM213.5 138.5H216.6V141.5H213.5zM216.6 138.5H219.6V141.5H216.6zM219.6 138.5H222.7V141.5H219.6zM207.4 141.5H210.4V144.5H207.4zM210.4 141.5H213.5V144.5H210.4zM213.5 141.5H216.6V144.5H213.5zM216.6 141.5H219.6V144.5H216.6zM219.6 141.5H222.7V144.5H219.6zM222.7 141.5H225.8V144.5H222.7zM225.8 141.5H228.8V144.5H225.8zM207.4 144.5H210.4V147.5H207.4zM210.4 144.5H213.5V147.5H210.4zM213.5 144.5H216.6V147.5H213.5zM216.6 144.5H219.6V147.5H216.6zM219.6 144.5H222.7V147.5H219.6zM228.8 144.5H231.9V147.5H228.8zM210.4 147.5H213.5V150.5H210.4zM213.5 147.5H216.6V150.5H213.5zM216.6 147.5H219.6V150.5H216.6zM231.9 147.5H235.0V150.5H231.9zM213.5 150.5H216.6V153.5H213.5zM238.0 150.5H241.1V153.5H238.0zM247.3 156.5H250.3V159.5H247.3zM250.3 156.5H253.4V159.5H250.3zM253.4 156.5H256.5V159.5H253.4zM256.5 168.5H259.5V171.5H256.5zM250.3 180.6H253.4V183.6H250.3zM299.4 183.6H302.5V186.6H299.4z"/>
<path fill="#ffff00" d="M235.0 135.5H238.0V138.5H235.0zM284.1 189.6H287.1V192.6H284.1z"/>
<path fill="#49ff00" d="M244.2 135.5H247.3V138.5H244.2zM247.3 141.5H250.3V144.5H247.3zM241.1 147.5H244.2V150.5H241.1zM247.3 147.5H250.3V150.5H247.3zM259.5 174.6H262.6V177.6H259.5zM259.5 177.6H262.6V180.6H259.5zM259.5 180.6H262.6V183.6H259.5zM293.3 180.6H296.4V183.6H293.3zM259.5 183.6H262.6V186.6H259.5zM262.6 189.6H265.7V192.6H262.6zM265.7 192.6H268.7V195.6H265.7zM265.7 195.6H268.7V198.6H265.7zM268.7 198.6H271.8V201.1H268.7zM271.8 198.6H274.9V201.1H271.8zM311.7 198.6H314.8V201.1H311.7z"/>
<path fill="#00ff73" d="M268.7 135.5H271.8V138.5H268.7zM271.8 135.5H274.9V138.5H271.8zM268.7 138.5H271.8V141.5H268.7zM271.8 138.5H274.9V141.5H271.8zM274.9 138.5H277.9V141.5H274.9zM265.7 141.5H268.7V144.5H265.7zM268.7 141.5H271.8V144.5H268.7zM271.8 141.5H274.9V144.5H271.8zM274.9 141.5H277.9V144.5H274.9zM277.9 141.5H281.0V144.5H277.9zM259.5 144.5H262.6V147.5H259.5zM262.6 144.5H265.7V147.5H262.6zM265.7 144.5H268.7V147.5H265.7zM268.7 144.5H271.8V147.5H268.7zM271.8 144.5H274.9V147.5H271.8zM274.9 144.5H277.9V147.5H274.9zM277.9 144.5H281.0V147.5H277.9zM281.0 144.5H284.1V147.5H281.0zM268.7 147.5H271.8V150.5H268.7zM271.8 147.5H274.9V150.5H271.8zM274.9 147.5H277.9V150.5H274.9zM277.9 147.5H281.0V150.5H277.9zM281.0 147.5H284.1V150.5H281.0zM284.1 147.5H287.1V150.5H284.1zM274.9 150.5H277.9V153.5H274.9zM277.9 150.5H281.0V153.5H277.9zM281.0 150.5H284.1V153.5H281.0zM284.1 150.5H287.1V153.5H284.1zM287.1 150.5H290.2V153.5H287.1zM277.9 153.5H281.0V156.5H277.9zM281.0 153.5H284.1V156.5H281.0zM284.1 153.5H287.1V156.5H284.1zM287.1 153.5H290.2V156.5H287.1zM290.2 153.5H293.3V156.5H290.2zM281.0 156.5H284.1V159.5H281.0zM284.1 156.5H287.1V159.5H284.1zM287.1 156.5H290.2V159.5H287.1zM290.2 156.5H293.3V159.5H290.2zM293.3 156.5H296.4V159.5H293.3zM284.1 159.5H287.1V162.5H284.1zM287.1 159.5H290.2V162.5H287.1zM290.2 159.5H293.3V162.5H290.2zM262.6 162.5H265.7V165.5H262.6zM287.1 162.5H290.2V165.5H287.1zM290.2 162.5H293.3V165.5H290.2zM287.1 165.5H290.2V168.5H287.1zM290.2 165.5H293.3V168.5H290.2zM281.0 168.5H284.1V171.5H281.0zM287.1 168.5H290.2V171.5H287.1zM290.2 168.5H293.3V171.5H290.2z"/>
<path fill="#3dff00" d="M228.8 138.5H231.9V141.5H228.8zM231.9 141.5H235.0V144.5H231.9zM259.5 186.6H262.6V189.6H259.5zM259.5 189.6H262.6V192.6H259.5zM262.6 192.6H265.7V195.6H262.6zM265.7 198.6H268.7V201.1H265.7z"/>
<path fill="#79ff00" d="M231.9 138.5H235.0V141.5H231.9zM244.2 138.5H247.3V141.5H244.2zM235.0 141.5H238.0V144.5H235.0zM244.2 144.5H247.3V147.5H244.2zM262.6 171.5H265.7V174.6H262.6zM277.9 171.5H281.0V174.6H277.9zM262.6 174.6H265.7V177.6H262.6zM262.6 177.6H265.7V180.6H262.6zM265.7 183.6H268.7V186.6H265.7zM268.7 186.6H271.8V189.6H268.7zM299.4 186.6H302.5V189.6H299.4zM271.8 189.6H274.9V192.6H271.8zM274.9 192.6H277.9V195.6H274.9zM305.6 192.6H308.6V195.6H305.6zM281.0 195.6H284.1V198.6H281.0z"/>
<path fill="#e7ff00" d="M238.0 138.5H241.1V141.5H238.0z"/>
<path fill="#ceff00" d="M241.1 138.5H244.2V141.5H241.1zM265.7 171.5H268.7V174.6H265.7zM268.7 177.6H271.8V180.6H268.7zM277.9 186.6H281.0V189.6H277.9z"/>
<path fill="#b6ff00" d="M241.1 141.5H244.2V144.5H241.1zM265.7 174.6H268.7V177.6H265.7zM296.4 198.6H299.4V201.1H296.4zM308.6 198.6H311.7V201.1H308.6z"/>
<path fill="#92ff00" d="M244.2 141.5H247.3V144.5H244.2zM268.7 183.6H271.8V186.6H268.7zM271.8 186.6H274.9V189.6H271.8zM274.9 189.6H277.9V192.6H274.9zM287.1 195.6H290.2V198.6H287.1z"/>
<path fill="#86ff00" d="M241.1 144.5H244.2V147.5H241.1zM284.1 174.6H287.1V177.6H284.1zM265.7 180.6H268.7V183.6H265.7zM302.5 189.6H305.6V192.6H302.5zM277.9 192.6H281.0V195.6H277.9zM284.1 195.6H287.1V198.6H284.1zM293.3 198.6H296.4V201.1H293.3z"/>
<path fill="#00ff33" d="M253.4 144.5H256.5V147.5H253.4zM253.4 147.5H256.5V150.5H253.4zM253.4 150.5H256.5V153.5H253.4zM231.9 156.5H235.0V159.5H231.9zM235.0 156.5H238.0V159.5H235.0zM238.0 156.5H241.1V159.5H238.0zM228.8 159.5H231.9V162.5H228.8zM231.9 159.5H235.0V162.5H231.9zM235.0 159.5H238.0V162.5H235.0zM238.0 159.5H241.1V162.5H238.0zM241.1 159.5H244.2V162.5H241.1zM244.2 159.5H247.3V162.5H244.2zM225.8 162.5H228.8V165.5H225.8zM228.8 162.5H231.9V165.5H228.8zM231.9 162.5H235.0V165.5H231.9zM235.0 162.5H238.0V165.5H235.0zM247.3 162.5H250.3V165.5H247.3zM250.3 162.5H253.4V165.5H250.3zM228.8 165.5H231.9V168.5H228.8zM231.9 165.5H235.0V168.5H231.9zM250.3 165.5H253.4V168.5H250.3zM250.3 168.5H253.4V171.5H250.3zM250.3 171.5H253.4V174.6H250.3zM284.1 171.5H287.1V174.6H284.1zM247.3 174.6H250.3V177.6H247.3zM244.2 177.6H247.3V180.6H244.2zM247.3 177.6H250.3V180.6H247.3zM293.3 177.6H296.4V180.6H293.3zM244.2 180.6H247.3V183.6H244.2zM302.5 183.6H305.6V186.6H302.5zM320.9 183.6H324.0V186.6H320.9zM305.6 186.6H308.6V189.6H305.6zM317.8 186.6H320.9V189.6H317.8zM320.9 186.6H324.0V189.6H320.9zM324.0 186.6H327.0V189.6H324.0zM311.7 189.6H314.8V192.6H311.7zM314.8 189.6H317.8V192.6H314.8zM317.8 189.6H320.9V192.6H317.8zM320.9 189.6H324.0V192.6H320.9zM324.0 189.6H327.0V192.6H324.0zM314.8 192.6H317.8V195.6H314.8zM317.8 192.6H320.9V195.6H317.8zM320.9 192.6H324.0V195.6H320.9z"/>
<path fill="#00ff80" d="M259.5 147.5H262.6V150.5H259.5zM262.6 147.5H265.7V150.5H262.6zM265.7 147.5H268.7V150.5H265.7zM256.5 150.5H259.5V153.5H256.5zM271.8 150.5H274.9V153.5H271.8zM274.9 153.5H277.9V156.5H274.9zM277.9 156.5H281.0V159.5H277.9zM259.5 159.5H262.6V162.5H259.5zM281.0 159.5H284.1V162.5H281.0zM284.1 162.5H287.1V165.5H284.1zM284.1 168.5H287.1V171.5H284.1z"/>
<path fill="#00ff99" d="M259.5 150.5H262.6V153.5H259.5zM265.7 150.5H268.7V153.5H265.7zM256.5 153.5H259.5V156.5H256.5zM274.9 156.5H277.9V159.5H274.9zM277.9 159.5H281.0V162.5H277.9zM281.0 165.5H284.1V168.5H281.0z"/>
<path fill="#00ffa6" d="M262.6 150.5H265.7V153.5H262.6zM268.7 153.5H271.8V156.5H268.7z"/>
<path fill="#00ff8c" d="M268.7 150.5H271.8V153.5H268.7zM271.8 153.5H274.9V156.5H271.8zM281.0 162.5H284.1V165.5H281.0zM284.1 165.5H287.1V168.5H284.1z"/>
<path fill="#00ffd9" d="M259.5 153.5H262.6V156.5H259.5zM262.6 153.5H265.7V156.5H262.6z"/>
<path fill="#00ffbf" d="M265.7 153.5H268.7V156.5H265.7zM271.8 156.5H274.9V159.5H271.8zM274.9 159.5H277.9V162.5H274.9zM268.7 165.5H271.8V168.5H268.7z"/>
<path fill="#00fff2" d="M259.5 156.5H262.6V159.5H259.5zM271.8 159.5H274.9V162.5H271.8z"/>
<path fill="#00e2ff" d="M262.6 156.5H265.7V159.5H262.6zM268.7 159.5H271.8V162.5H268.7z"/>
<path fill="#00f4ff" d="M265.7 156.5H268.7V159.5H265.7z"/>
<path fill="#00ffe6" d="M268.7 156.5H271.8V159.5H268.7zM274.9 162.5H277.9V165.5H274.9zM274.9 165.5H277.9V168.5H274.9z"/>
<path fill="#00e8ff" d="M262.6 159.5H265.7V162.5H262.6zM265.7 162.5H268.7V165.5H265.7zM271.8 162.5H274.9V165.5H271.8z"/>
<path fill="#00c0ff" d="M265.7 159.5H268.7V162.5H265.7zM268.7 162.5H271.8V165.5H268.7z"/>
<path fill="#00ffb3" d="M277.9 162.5H281.0V165.5H277.9zM277.9 165.5H281.0V168.5H277.9z"/>
<path fill="#00eeff" d="M271.8 165.5H274.9V168.5H271.8z"/>
<path fill="#ffe500" d="M265.7 168.5H268.7V171.5H265.7zM274.9 180.6H277.9V183.6H274.9zM296.4 186.6H299.4V189.6H296.4zM299.4 189.6H302.5V192.6H299.4zM290.2 192.6H293.3V195.6H290.2z"/>
<path fill="#ffb100" d="M268.7 168.5H271.8V171.5H268.7z"/>
<path fill="#ff9600" d="M268.7 171.5H271.8V174.6H268.7z"/>
<path fill="#ff4100" d="M271.8 171.5H274.9V174.6H271.8z"/>
<path fill="#ffeb00" d="M274.9 171.5H277.9V174.6H274.9zM271.8 177.6H274.9V180.6H271.8zM277.9 183.6H281.0V186.6H277.9z"/>
<path fill="#fff800" d="M268.7 174.6H271.8V177.6H268.7zM299.4 198.6H302.5V201.1H299.4z"/>
<path fill="#ff7c00" d="M271.8 174.6H274.9V177.6H271.8zM277.9 180.6H281.0V183.6H277.9zM296.4 192.6H299.4V195.6H296.4z"/>
<path fill="#f20000" d="M274.9 174.6H277.9V177.6H274.9z"/>
<path fill="#ff7600" d="M277.9 174.6H281.0V177.6H277.9zM274.9 177.6H277.9V180.6H274.9z"/>
<path fill="#fff200" d="M281.0 174.6H284.1V177.6H281.0zM293.3 183.6H296.4V186.6H293.3zM281.0 186.6H284.1V189.6H281.0zM302.5 192.6H305.6V195.6H302.5zM305.6 198.6H308.6V201.1H305.6z"/>
<path fill="#dc0000" d="M277.9 177.6H281.0V180.6H277.9z"/>
<path fill="#ff2700" d="M281.0 177.6H284.1V180.6H281.0z"/>
<path fill="#ffbe00" d="M284.1 177.6H287.1V180.6H284.1z"/>
<path fill="#df0000" d="M281.0 180.6H284.1V183.6H281.0z"/>
<path fill="#ff0700" d="M284.1 180.6H287.1V183.6H284.1z"/>
<path fill="#ffa300" d="M287.1 180.6H290.2V183.6H287.1zM299.4 192.6H302.5V195.6H299.4z"/>
<path fill="#ff9000" d="M281.0 183.6H284.1V186.6H281.0zM290.2 183.6H293.3V186.6H290.2zM296.4 189.6H299.4V192.6H296.4z"/>
<path fill="#fc0000" d="M284.1 183.6H287.1V186.6H284.1z"/>
<path fill="#ff0d00" d="M287.1 183.6H290.2V186.6H287.1z"/>
<path fill="#ffaa00" d="M284.1 186.6H287.1V189.6H284.1zM299.4 195.6H302.5V198.6H299.4z"/>
<path fill="#ff3b00" d="M287.1 186.6H290.2V189.6H287.1z"/>
<path fill="#ff2e00" d="M290.2 186.6H293.3V189.6H290.2z"/>
<path fill="#ff8900" d="M293.3 186.6H296.4V189.6H293.3z"/>
<path fill="#ffcb00" d="M287.1 189.6H290.2V192.6H287.1zM296.4 195.6H299.4V198.6H296.4z"/>
<path fill="#ff6f00" d="M290.2 189.6H293.3V192.6H290.2z"/>
<path fill="#ff4e00" d="M293.3 189.6H296.4V192.6H293.3z"/>
<path fill="#ff9d00" d="M293.3 192.6H296.4V195.6H293.3z"/>
<path fill="#ffc400" d="M302.5 195.6H305.6V198.6H302.5z"/>
<path fill="#ffde00" d="M302.5 198.6H305.6V201.1H302.5z"/></g>
<rect x="195.00" y="209.50" width="144.40" height="71.10" fill="#efefef"/>
<g shape-rendering="crispEdges" filter="url(#bl)"><path fill="#00ff0d" d="M195.1 209.5H198.2V211.6H195.1zM198.2 209.5H201.2V211.6H198.2zM195.1 211.6H198.2V214.6H195.1zM219.6 211.6H222.7V214.6H219.6zM228.8 217.6H231.9V220.7H228.8zM244.2 229.7H247.3V232.7H244.2zM305.6 269.0H308.6V272.0H305.6zM314.8 275.1H317.8V278.1H314.8zM317.8 278.1H320.9V280.6H317.8z"/>
<path fill="#00ff1a" d="M201.2 209.5H204.3V211.6H201.2zM204.3 209.5H207.4V211.6H204.3zM207.4 209.5H210.4V211.6H207.4zM210.4 209.5H213.5V211.6H210.4zM213.5 209.5H216.6V211.6H213.5zM198.2 211.6H201.2V214.6H198.2zM201.2 211.6H204.3V214.6H201.2zM204.3 211.6H207.4V214.6H204.3zM207.4 211.6H210.4V214.6H207.4zM210.4 211.6H213.5V214.6H210.4zM213.5 211.6H216.6V214.6H213.5zM216.6 211.6H219.6V214.6H216.6zM198.2 214.6H201.2V217.6H198.2zM201.2 214.6H204.3V217.6H201.2zM204.3 214.6H207.4V217.6H204.3zM222.7 214.6H225.8V217.6H222.7zM201.2 217.6H204.3V220.7H201.2zM231.9 220.7H235.0V223.7H231.9zM284.1 226.7H287.1V229.7H284.1zM281.0 229.7H284.1V232.7H281.0zM247.3 232.7H250.3V235.8H247.3zM277.9 247.9H281.0V250.9H277.9zM290.2 256.9H293.3V259.9H290.2zM302.5 266.0H305.6V269.0H302.5zM311.7 272.0H314.8V275.1H311.7zM330.1 272.0H333.2V275.1H330.1zM317.8 275.1H320.9V278.1H317.8zM327.0 275.1H330.1V278.1H327.0zM330.1 275.1H333.2V278.1H330.1zM333.2 275.1H336.2V278.1H333.2zM320.9 278.1H324.0V280.6H320.9zM324.0 278.1H327.0V280.6H324.0zM327.0 278.1H330.1V280.6H327.0zM330.1 278.1H333.2V280.6H330.1zM333.2 278.1H336.2V280.6H333.2zM336.2 278.1H339.3V280.6H336.2z"/>
<path fill="#00ff00" d="M216.6 209.5H219.6V211.6H216.6zM256.5 238.8H259.5V241.8H256.5zM268.7 241.8H271.8V244.8H268.7zM265.7 244.8H268.7V247.9H265.7zM265.7 247.9H268.7V250.9H265.7zM262.6 250.9H265.7V253.9H262.6zM293.3 259.9H296.4V263.0H293.3zM308.6 272.0H311.7V275.1H308.6z"/>
<path fill="#24ff00" d="M219.6 209.5H222.7V211.6H219.6zM277.9 229.7H281.0V232.7H277.9zM265.7 241.8H268.7V244.8H265.7zM268.7 247.9H271.8V250.9H268.7zM250.3 263.0H253.4V266.0H250.3zM299.4 266.0H302.5V269.0H299.4z"/>
<path fill="#79ff00" d="M222.7 209.5H225.8V211.6H222.7zM265.7 223.7H268.7V226.7H265.7zM265.7 226.7H268.7V229.7H265.7zM247.3 229.7H250.3V232.7H247.3zM265.7 229.7H268.7V232.7H265.7zM262.6 238.8H265.7V241.8H262.6zM268.7 256.9H271.8V259.9H268.7zM268.7 259.9H271.8V263.0H268.7z"/>
<path fill="#fff200" d="M225.8 209.5H228.8V211.6H225.8zM253.4 232.7H256.5V235.8H253.4z"/>
<path fill="#ff9000" d="M228.8 209.5H231.9V211.6H228.8zM244.2 217.6H247.3V220.7H244.2zM253.4 229.7H256.5V232.7H253.4zM287.1 266.0H290.2V269.0H287.1z"/>
<path fill="#ff6200" d="M231.9 209.5H235.0V211.6H231.9zM235.0 211.6H238.0V214.6H235.0zM238.0 214.6H241.1V217.6H238.0zM241.1 217.6H244.2V220.7H241.1zM296.4 272.0H299.4V275.1H296.4zM299.4 275.1H302.5V278.1H299.4zM302.5 278.1H305.6V280.6H302.5z"/>
<path fill="#ff8300" d="M235.0 209.5H238.0V211.6H235.0zM296.4 275.1H299.4V278.1H296.4zM299.4 278.1H302.5V280.6H299.4z"/>
<path fill="#ffc400" d="M238.0 209.5H241.1V211.6H238.0zM296.4 278.1H299.4V280.6H296.4z"/>
<path fill="#fff800" d="M241.1 209.5H244.2V211.6H241.1zM228.8 211.6H231.9V214.6H228.8zM244.2 211.6H247.3V214.6H244.2zM256.5 226.7H259.5V229.7H256.5zM290.2 275.1H293.3V278.1H290.2zM293.3 278.1H296.4V280.6H293.3z"/>
<path fill="#dbff00" d="M244.2 209.5H247.3V211.6H244.2zM247.3 211.6H250.3V214.6H247.3zM250.3 214.6H253.4V217.6H250.3zM235.0 217.6H238.0V220.7H235.0zM284.1 272.0H287.1V275.1H284.1zM302.5 272.0H305.6V275.1H302.5zM287.1 275.1H290.2V278.1H287.1zM290.2 278.1H293.3V280.6H290.2z"/>
<path fill="#aaff00" d="M247.3 209.5H250.3V211.6H247.3zM250.3 211.6H253.4V214.6H250.3zM253.4 214.6H256.5V217.6H253.4zM256.5 217.6H259.5V220.7H256.5zM259.5 220.7H262.6V223.7H259.5zM262.6 226.7H265.7V229.7H262.6zM274.9 266.0H277.9V269.0H274.9zM277.9 269.0H281.0V272.0H277.9z"/>
<path fill="#86ff00" d="M250.3 209.5H253.4V211.6H250.3zM253.4 211.6H256.5V214.6H253.4zM256.5 214.6H259.5V217.6H256.5zM259.5 217.6H262.6V220.7H259.5zM262.6 220.7H265.7V223.7H262.6zM271.8 250.9H274.9V253.9H271.8zM271.8 253.9H274.9V256.9H271.8zM290.2 259.9H293.3V263.0H290.2zM271.8 266.0H274.9V269.0H271.8zM274.9 269.0H277.9V272.0H274.9z"/>
<path fill="#6dff00" d="M253.4 209.5H256.5V211.6H253.4zM225.8 211.6H228.8V214.6H225.8zM256.5 211.6H259.5V214.6H256.5zM259.5 214.6H262.6V217.6H259.5zM262.6 217.6H265.7V220.7H262.6zM265.7 232.7H268.7V235.8H265.7zM268.7 263.0H271.8V266.0H268.7zM271.8 269.0H274.9V272.0H271.8zM274.9 272.0H277.9V275.1H274.9zM277.9 275.1H281.0V278.1H277.9zM281.0 278.1H284.1V280.6H281.0zM311.7 278.1H314.8V280.6H311.7z"/>
<path fill="#55ff00" d="M256.5 209.5H259.5V211.6H256.5zM259.5 211.6H262.6V214.6H259.5zM228.8 214.6H231.9V217.6H228.8zM262.6 214.6H265.7V217.6H262.6zM265.7 217.6H268.7V220.7H265.7zM268.7 220.7H271.8V223.7H268.7zM268.7 223.7H271.8V226.7H268.7zM250.3 232.7H253.4V235.8H250.3zM268.7 232.7H271.8V235.8H268.7zM265.7 256.9H268.7V259.9H265.7zM265.7 263.0H268.7V266.0H265.7zM265.7 266.0H268.7V269.0H265.7zM268.7 269.0H271.8V272.0H268.7zM271.8 272.0H274.9V275.1H271.8zM274.9 275.1H277.9V278.1H274.9zM308.6 275.1H311.7V278.1H308.6zM277.9 278.1H281.0V280.6H277.9z"/>
<path fill="#49ff00" d="M259.5 209.5H262.6V211.6H259.5zM262.6 209.5H265.7V211.6H262.6zM262.6 211.6H265.7V214.6H262.6zM265.7 214.6H268.7V217.6H265.7zM231.9 217.6H235.0V220.7H231.9zM268.7 217.6H271.8V220.7H268.7zM271.8 220.7H274.9V223.7H271.8zM271.8 223.7H274.9V226.7H271.8zM271.8 226.7H274.9V229.7H271.8zM271.8 229.7H274.9V232.7H271.8zM265.7 235.8H268.7V238.8H265.7zM274.9 247.9H277.9V250.9H274.9zM265.7 253.9H268.7V256.9H265.7zM262.6 256.9H265.7V259.9H262.6zM262.6 259.9H265.7V263.0H262.6zM262.6 263.0H265.7V266.0H262.6zM262.6 266.0H265.7V269.0H262.6zM265.7 269.0H268.7V272.0H265.7zM268.7 272.0H271.8V275.1H268.7zM305.6 272.0H308.6V275.1H305.6zM268.7 275.1H271.8V278.1H268.7zM271.8 275.1H274.9V278.1H271.8zM271.8 278.1H274.9V280.6H271.8zM274.9 278.1H277.9V280.6H274.9z"/>
<path fill="#3dff00" d="M265.7 209.5H268.7V211.6H265.7zM268.7 209.5H271.8V211.6H268.7zM265.7 211.6H268.7V214.6H265.7zM268.7 211.6H271.8V214.6H268.7zM268.7 214.6H271.8V217.6H268.7zM271.8 214.6H274.9V217.6H271.8zM271.8 217.6H274.9V220.7H271.8zM274.9 217.6H277.9V220.7H274.9zM274.9 220.7H277.9V223.7H274.9zM277.9 220.7H281.0V223.7H277.9zM274.9 223.7H277.9V226.7H274.9zM277.9 223.7H281.0V226.7H277.9zM281.0 223.7H284.1V226.7H281.0zM274.9 226.7H277.9V229.7H274.9zM277.9 226.7H281.0V229.7H277.9zM274.9 229.7H277.9V232.7H274.9zM271.8 232.7H274.9V235.8H271.8zM268.7 250.9H271.8V253.9H268.7zM284.1 253.9H287.1V256.9H284.1zM256.5 259.9H259.5V263.0H256.5zM259.5 259.9H262.6V263.0H259.5zM253.4 263.0H256.5V266.0H253.4zM256.5 263.0H259.5V266.0H256.5zM259.5 263.0H262.6V266.0H259.5zM250.3 266.0H253.4V269.0H250.3zM253.4 266.0H256.5V269.0H253.4zM256.5 266.0H259.5V269.0H256.5zM259.5 266.0H262.6V269.0H259.5zM253.4 269.0H256.5V272.0H253.4zM256.5 269.0H259.5V272.0H256.5zM259.5 269.0H262.6V272.0H259.5zM262.6 269.0H265.7V272.0H262.6zM256.5 272.0H259.5V275.1H256.5zM259.5 272.0H262.6V275.1H259.5zM262.6 272.0H265.7V275.1H262.6zM265.7 272.0H268.7V275.1H265.7zM259.5 275.1H262.6V278.1H259.5zM262.6 275.1H265.7V278.1H262.6zM265.7 275.1H268.7V278.1H265.7zM262.6 278.1H265.7V280.6H262.6zM265.7 278.1H268.7V280.6H265.7zM268.7 278.1H271.8V280.6H268.7z"/>
<path fill="#18ff00" d="M222.7 211.6H225.8V214.6H222.7zM238.0 223.7H241.1V226.7H238.0zM274.9 232.7H277.9V235.8H274.9zM262.6 241.8H265.7V244.8H262.6zM268.7 244.8H271.8V247.9H268.7zM265.7 250.9H268.7V253.9H265.7zM281.0 250.9H284.1V253.9H281.0zM253.4 259.9H256.5V263.0H253.4zM314.8 278.1H317.8V280.6H314.8z"/>
<path fill="#ff9600" d="M231.9 211.6H235.0V214.6H231.9zM247.3 220.7H250.3V223.7H247.3zM281.0 256.9H284.1V259.9H281.0zM305.6 278.1H308.6V280.6H305.6z"/>
<path fill="#ff8900" d="M238.0 211.6H241.1V214.6H238.0zM241.1 214.6H244.2V217.6H241.1zM290.2 269.0H293.3V272.0H290.2zM293.3 272.0H296.4V275.1H293.3z"/>
<path fill="#ffcb00" d="M241.1 211.6H244.2V214.6H241.1zM277.9 253.9H281.0V256.9H277.9zM287.1 259.9H290.2V263.0H287.1zM290.2 272.0H293.3V275.1H290.2zM293.3 275.1H296.4V278.1H293.3z"/>
<path fill="#00ff26" d="M207.4 214.6H210.4V217.6H207.4zM210.4 214.6H213.5V217.6H210.4zM213.5 214.6H216.6V217.6H213.5zM216.6 214.6H219.6V217.6H216.6zM219.6 214.6H222.7V217.6H219.6zM204.3 217.6H207.4V220.7H204.3zM207.4 217.6H210.4V220.7H207.4zM210.4 217.6H213.5V220.7H210.4zM225.8 217.6H228.8V220.7H225.8zM204.3 220.7H207.4V223.7H204.3zM207.4 220.7H210.4V223.7H207.4zM235.0 223.7H238.0V226.7H235.0zM277.9 232.7H281.0V235.8H277.9zM274.9 235.8H277.9V238.8H274.9zM271.8 238.8H274.9V241.8H271.8zM259.5 241.8H262.6V244.8H259.5zM271.8 241.8H274.9V244.8H271.8zM262.6 244.8H265.7V247.9H262.6zM287.1 253.9H290.2V256.9H287.1zM299.4 263.0H302.5V266.0H299.4zM308.6 269.0H311.7V272.0H308.6zM324.0 269.0H327.0V272.0H324.0zM327.0 269.0H330.1V272.0H327.0zM314.8 272.0H317.8V275.1H314.8zM317.8 272.0H320.9V275.1H317.8zM320.9 272.0H324.0V275.1H320.9zM324.0 272.0H327.0V275.1H324.0zM327.0 272.0H330.1V275.1H327.0zM320.9 275.1H324.0V278.1H320.9zM324.0 275.1H327.0V278.1H324.0z"/>
<path fill="#0cff00" d="M225.8 214.6H228.8V217.6H225.8zM241.1 226.7H244.2V229.7H241.1zM271.8 235.8H274.9V238.8H271.8zM268.7 238.8H271.8V241.8H268.7zM271.8 244.8H274.9V247.9H271.8zM259.5 253.9H262.6V256.9H259.5zM256.5 256.9H259.5V259.9H256.5zM296.4 263.0H299.4V266.0H296.4zM311.7 275.1H314.8V278.1H311.7z"/>
<path fill="#f3ff00" d="M231.9 214.6H235.0V217.6H231.9zM253.4 220.7H256.5V223.7H253.4zM274.9 253.9H277.9V256.9H274.9zM281.0 253.9H284.1V256.9H281.0zM281.0 266.0H284.1V269.0H281.0zM305.6 275.1H308.6V278.1H305.6z"/>
<path fill="#ff9d00" d="M235.0 214.6H238.0V217.6H235.0zM238.0 217.6H241.1V220.7H238.0zM250.3 223.7H253.4V226.7H250.3zM284.1 263.0H287.1V266.0H284.1zM302.5 275.1H305.6V278.1H302.5z"/>
<path fill="#ffd100" d="M244.2 214.6H247.3V217.6H244.2zM250.3 229.7H253.4V232.7H250.3zM256.5 229.7H259.5V232.7H256.5zM277.9 256.9H281.0V259.9H277.9zM287.1 269.0H290.2V272.0H287.1z"/>
<path fill="#ffff00" d="M247.3 214.6H250.3V217.6H247.3zM250.3 217.6H253.4V220.7H250.3zM259.5 232.7H262.6V235.8H259.5zM259.5 235.8H262.6V238.8H259.5zM277.9 259.9H281.0V263.0H277.9zM284.1 269.0H287.1V272.0H284.1zM287.1 272.0H290.2V275.1H287.1zM308.6 278.1H311.7V280.6H308.6z"/>
<path fill="#00ff33" d="M213.5 217.6H216.6V220.7H213.5zM216.6 217.6H219.6V220.7H216.6zM219.6 217.6H222.7V220.7H219.6zM222.7 217.6H225.8V220.7H222.7zM210.4 220.7H213.5V223.7H210.4zM213.5 220.7H216.6V223.7H213.5zM216.6 220.7H219.6V223.7H216.6zM228.8 220.7H231.9V223.7H228.8zM207.4 223.7H210.4V226.7H207.4zM210.4 223.7H213.5V226.7H210.4zM213.5 223.7H216.6V226.7H213.5zM210.4 226.7H213.5V229.7H210.4zM238.0 226.7H241.1V229.7H238.0zM250.3 235.8H253.4V238.8H250.3zM274.9 244.8H277.9V247.9H274.9zM262.6 247.9H265.7V250.9H262.6zM296.4 259.9H299.4V263.0H296.4zM320.9 263.0H324.0V266.0H320.9zM305.6 266.0H308.6V269.0H305.6zM317.8 266.0H320.9V269.0H317.8zM320.9 266.0H324.0V269.0H320.9zM324.0 266.0H327.0V269.0H324.0zM311.7 269.0H314.8V272.0H311.7zM314.8 269.0H317.8V272.0H314.8zM317.8 269.0H320.9V272.0H317.8zM320.9 269.0H324.0V272.0H320.9z"/>
<path fill="#ffd800" d="M247.3 217.6H250.3V220.7H247.3z"/>
<path fill="#ceff00" d="M253.4 217.6H256.5V220.7H253.4zM238.0 220.7H241.1V223.7H238.0zM256.5 220.7H259.5V223.7H256.5zM259.5 226.7H262.6V229.7H259.5zM259.5 229.7H262.6V232.7H259.5zM274.9 256.9H277.9V259.9H274.9zM277.9 266.0H281.0V269.0H277.9zM281.0 269.0H284.1V272.0H281.0zM299.4 269.0H302.5V272.0H299.4z"/>
<path fill="#00ff40" d="M219.6 220.7H222.7V223.7H219.6zM222.7 220.7H225.8V223.7H222.7zM225.8 220.7H228.8V223.7H225.8zM216.6 223.7H219.6V226.7H216.6zM219.6 223.7H222.7V226.7H219.6zM222.7 223.7H225.8V226.7H222.7zM228.8 223.7H231.9V226.7H228.8zM231.9 223.7H235.0V226.7H231.9zM213.5 226.7H216.6V229.7H213.5zM216.6 226.7H219.6V229.7H216.6zM219.6 226.7H222.7V229.7H219.6zM213.5 229.7H216.6V232.7H213.5zM216.6 229.7H219.6V232.7H216.6zM241.1 229.7H244.2V232.7H241.1zM259.5 250.9H262.6V253.9H259.5zM284.1 250.9H287.1V253.9H284.1zM293.3 256.9H296.4V259.9H293.3zM317.8 259.9H320.9V263.0H317.8zM302.5 263.0H305.6V266.0H302.5zM314.8 263.0H317.8V266.0H314.8zM317.8 263.0H320.9V266.0H317.8zM308.6 266.0H311.7V269.0H308.6zM311.7 266.0H314.8V269.0H311.7zM314.8 266.0H317.8V269.0H314.8z"/>
<path fill="#31ff00" d="M235.0 220.7H238.0V223.7H235.0zM281.0 226.7H284.1V229.7H281.0zM253.4 235.8H256.5V238.8H253.4zM268.7 235.8H271.8V238.8H268.7zM265.7 238.8H268.7V241.8H265.7zM262.6 253.9H265.7V256.9H262.6zM259.5 256.9H262.6V259.9H259.5zM302.5 269.0H305.6V272.0H302.5z"/>
<path fill="#ffa300" d="M241.1 220.7H244.2V223.7H241.1zM299.4 272.0H302.5V275.1H299.4z"/>
<path fill="#ff6900" d="M244.2 220.7H247.3V223.7H244.2zM247.3 223.7H250.3V226.7H247.3zM290.2 266.0H293.3V269.0H290.2zM293.3 269.0H296.4V272.0H293.3z"/>
<path fill="#ffde00" d="M250.3 220.7H253.4V223.7H250.3zM284.1 256.9H287.1V259.9H284.1zM284.1 266.0H287.1V269.0H284.1z"/>
<path fill="#61ff00" d="M265.7 220.7H268.7V223.7H265.7zM268.7 226.7H271.8V229.7H268.7zM268.7 229.7H271.8V232.7H268.7zM259.5 238.8H262.6V241.8H259.5zM271.8 247.9H274.9V250.9H271.8zM268.7 253.9H271.8V256.9H268.7zM287.1 256.9H290.2V259.9H287.1zM265.7 259.9H268.7V263.0H265.7zM268.7 266.0H271.8V269.0H268.7z"/>
<path fill="#00ff4d" d="M225.8 223.7H228.8V226.7H225.8zM222.7 226.7H225.8V229.7H222.7zM225.8 226.7H228.8V229.7H225.8zM228.8 226.7H231.9V229.7H228.8zM231.9 226.7H235.0V229.7H231.9zM235.0 226.7H238.0V229.7H235.0zM219.6 229.7H222.7V232.7H219.6zM222.7 229.7H225.8V232.7H222.7zM216.6 232.7H219.6V235.8H216.6zM219.6 232.7H222.7V235.8H219.6zM244.2 232.7H247.3V235.8H244.2zM253.4 238.8H256.5V241.8H253.4zM281.0 247.9H284.1V250.9H281.0zM256.5 253.9H259.5V256.9H256.5zM290.2 253.9H293.3V256.9H290.2zM253.4 256.9H256.5V259.9H253.4zM314.8 256.9H317.8V259.9H314.8zM299.4 259.9H302.5V263.0H299.4zM308.6 259.9H311.7V263.0H308.6zM311.7 259.9H314.8V263.0H311.7zM314.8 259.9H317.8V263.0H314.8zM305.6 263.0H308.6V266.0H305.6zM308.6 263.0H311.7V266.0H308.6zM311.7 263.0H314.8V266.0H311.7z"/>
<path fill="#b6ff00" d="M241.1 223.7H244.2V226.7H241.1zM274.9 263.0H277.9V266.0H274.9zM296.4 266.0H299.4V269.0H296.4zM281.0 272.0H284.1V275.1H281.0zM284.1 275.1H287.1V278.1H284.1zM287.1 278.1H290.2V280.6H287.1z"/>
<path fill="#ffb100" d="M244.2 223.7H247.3V226.7H244.2zM253.4 226.7H256.5V229.7H253.4zM281.0 259.9H284.1V263.0H281.0zM293.3 266.0H296.4V269.0H293.3z"/>
<path fill="#ffeb00" d="M253.4 223.7H256.5V226.7H253.4zM281.0 263.0H284.1V266.0H281.0z"/>
<path fill="#e7ff00" d="M256.5 223.7H259.5V226.7H256.5zM274.9 250.9H277.9V253.9H274.9zM277.9 263.0H281.0V266.0H277.9z"/>
<path fill="#c2ff00" d="M259.5 223.7H262.6V226.7H259.5zM256.5 235.8H259.5V238.8H256.5zM274.9 259.9H277.9V263.0H274.9z"/>
<path fill="#92ff00" d="M262.6 223.7H265.7V226.7H262.6zM262.6 232.7H265.7V235.8H262.6zM262.6 235.8H265.7V238.8H262.6zM271.8 256.9H274.9V259.9H271.8zM271.8 263.0H274.9V266.0H271.8zM277.9 272.0H281.0V275.1H277.9zM281.0 275.1H284.1V278.1H281.0zM284.1 278.1H287.1V280.6H284.1z"/>
<path fill="#9eff00" d="M244.2 226.7H247.3V229.7H244.2zM262.6 229.7H265.7V232.7H262.6zM277.9 250.9H281.0V253.9H277.9zM271.8 259.9H274.9V263.0H271.8zM293.3 263.0H296.4V266.0H293.3z"/>
<path fill="#ffbe00" d="M247.3 226.7H250.3V229.7H247.3zM256.5 232.7H259.5V235.8H256.5zM290.2 263.0H293.3V266.0H290.2z"/>
<path fill="#ff7600" d="M250.3 226.7H253.4V229.7H250.3z"/>
<path fill="#00ff59" d="M225.8 229.7H228.8V232.7H225.8zM228.8 229.7H231.9V232.7H228.8zM231.9 229.7H235.0V232.7H231.9zM235.0 229.7H238.0V232.7H235.0zM238.0 229.7H241.1V232.7H238.0zM222.7 232.7H225.8V235.8H222.7zM225.8 232.7H228.8V235.8H225.8zM219.6 235.8H222.7V238.8H219.6zM222.7 235.8H225.8V238.8H222.7zM247.3 235.8H250.3V238.8H247.3zM274.9 238.8H277.9V241.8H274.9zM256.5 241.8H259.5V244.8H256.5zM274.9 241.8H277.9V244.8H274.9zM259.5 244.8H262.6V247.9H259.5zM308.6 253.9H311.7V256.9H308.6zM311.7 253.9H314.8V256.9H311.7zM296.4 256.9H299.4V259.9H296.4zM305.6 256.9H308.6V259.9H305.6zM308.6 256.9H311.7V259.9H308.6zM311.7 256.9H314.8V259.9H311.7zM250.3 259.9H253.4V263.0H250.3zM302.5 259.9H305.6V263.0H302.5zM305.6 259.9H308.6V263.0H305.6z"/>
<path fill="#00ff8c" d="M284.1 229.7H287.1V232.7H284.1zM293.3 238.8H296.4V241.8H293.3zM296.4 238.8H299.4V241.8H296.4zM241.1 241.8H244.2V244.8H241.1zM244.2 241.8H247.3V244.8H244.2zM247.3 241.8H250.3V244.8H247.3zM281.0 241.8H284.1V244.8H281.0zM290.2 241.8H293.3V244.8H290.2zM293.3 241.8H296.4V244.8H293.3zM296.4 241.8H299.4V244.8H296.4zM238.0 244.8H241.1V247.9H238.0zM241.1 244.8H244.2V247.9H241.1zM244.2 244.8H247.3V247.9H244.2zM247.3 244.8H250.3V247.9H247.3zM250.3 244.8H253.4V247.9H250.3zM253.4 244.8H256.5V247.9H253.4zM284.1 244.8H287.1V247.9H284.1zM287.1 244.8H290.2V247.9H287.1zM290.2 244.8H293.3V247.9H290.2zM293.3 244.8H296.4V247.9H293.3zM235.0 247.9H238.0V250.9H235.0zM238.0 247.9H241.1V250.9H238.0zM241.1 247.9H244.2V250.9H241.1zM256.5 247.9H259.5V250.9H256.5zM235.0 250.9H238.0V253.9H235.0zM238.0 250.9H241.1V253.9H238.0zM253.4 253.9H256.5V256.9H253.4z"/>
<path fill="#00ff99" d="M287.1 229.7H290.2V232.7H287.1zM284.1 232.7H287.1V235.8H284.1zM287.1 232.7H290.2V235.8H287.1zM290.2 232.7H293.3V235.8H290.2zM281.0 235.8H284.1V238.8H281.0zM284.1 235.8H287.1V238.8H284.1zM287.1 235.8H290.2V238.8H287.1zM290.2 235.8H293.3V238.8H290.2zM293.3 235.8H296.4V238.8H293.3zM281.0 238.8H284.1V241.8H281.0zM284.1 238.8H287.1V241.8H284.1zM287.1 238.8H290.2V241.8H287.1zM290.2 238.8H293.3V241.8H290.2zM284.1 241.8H287.1V244.8H284.1zM287.1 241.8H290.2V244.8H287.1zM244.2 247.9H247.3V250.9H244.2zM247.3 247.9H250.3V250.9H247.3zM250.3 247.9H253.4V250.9H250.3zM253.4 247.9H256.5V250.9H253.4zM241.1 250.9H244.2V253.9H241.1zM244.2 250.9H247.3V253.9H244.2zM247.3 250.9H250.3V253.9H247.3zM250.3 250.9H253.4V253.9H250.3zM253.4 250.9H256.5V253.9H253.4zM238.0 253.9H241.1V256.9H238.0zM241.1 253.9H244.2V256.9H241.1zM244.2 253.9H247.3V256.9H244.2zM247.3 253.9H250.3V256.9H247.3zM250.3 253.9H253.4V256.9H250.3zM241.1 256.9H244.2V259.9H241.1zM244.2 256.9H247.3V259.9H244.2zM247.3 256.9H250.3V259.9H247.3zM250.3 256.9H253.4V259.9H250.3zM244.2 259.9H247.3V263.0H244.2zM247.3 259.9H250.3V263.0H247.3z"/>
<path fill="#00ff66" d="M228.8 232.7H231.9V235.8H228.8zM231.9 232.7H235.0V235.8H231.9zM235.0 232.7H238.0V235.8H235.0zM238.0 232.7H241.1V235.8H238.0zM241.1 232.7H244.2V235.8H241.1zM225.8 235.8H228.8V238.8H225.8zM228.8 235.8H231.9V238.8H228.8zM244.2 235.8H247.3V238.8H244.2zM277.9 235.8H281.0V238.8H277.9zM222.7 238.8H225.8V241.8H222.7zM225.8 238.8H228.8V241.8H225.8zM250.3 238.8H253.4V241.8H250.3zM277.9 244.8H281.0V247.9H277.9zM259.5 247.9H262.6V250.9H259.5zM287.1 250.9H290.2V253.9H287.1zM305.6 250.9H308.6V253.9H305.6zM308.6 250.9H311.7V253.9H308.6zM293.3 253.9H296.4V256.9H293.3zM296.4 253.9H299.4V256.9H296.4zM299.4 253.9H302.5V256.9H299.4zM302.5 253.9H305.6V256.9H302.5zM305.6 253.9H308.6V256.9H305.6zM299.4 256.9H302.5V259.9H299.4zM302.5 256.9H305.6V259.9H302.5zM247.3 263.0H250.3V266.0H247.3z"/>
<path fill="#00ff80" d="M281.0 232.7H284.1V235.8H281.0zM238.0 238.8H241.1V241.8H238.0zM241.1 238.8H244.2V241.8H241.1zM244.2 238.8H247.3V241.8H244.2zM277.9 238.8H281.0V241.8H277.9zM231.9 241.8H235.0V244.8H231.9zM235.0 241.8H238.0V244.8H235.0zM238.0 241.8H241.1V244.8H238.0zM250.3 241.8H253.4V244.8H250.3zM277.9 241.8H281.0V244.8H277.9zM299.4 241.8H302.5V244.8H299.4zM231.9 244.8H235.0V247.9H231.9zM235.0 244.8H238.0V247.9H235.0zM256.5 244.8H259.5V247.9H256.5zM281.0 244.8H284.1V247.9H281.0zM296.4 244.8H299.4V247.9H296.4zM299.4 244.8H302.5V247.9H299.4zM302.5 244.8H305.6V247.9H302.5zM231.9 247.9H235.0V250.9H231.9zM287.1 247.9H290.2V250.9H287.1zM290.2 247.9H293.3V250.9H290.2zM293.3 247.9H296.4V250.9H293.3zM296.4 247.9H299.4V250.9H296.4zM299.4 247.9H302.5V250.9H299.4zM256.5 250.9H259.5V253.9H256.5z"/>
<path fill="#00ff73" d="M231.9 235.8H235.0V238.8H231.9zM235.0 235.8H238.0V238.8H235.0zM238.0 235.8H241.1V238.8H238.0zM241.1 235.8H244.2V238.8H241.1zM228.8 238.8H231.9V241.8H228.8zM231.9 238.8H235.0V241.8H231.9zM235.0 238.8H238.0V241.8H235.0zM247.3 238.8H250.3V241.8H247.3zM225.8 241.8H228.8V244.8H225.8zM228.8 241.8H231.9V244.8H228.8zM253.4 241.8H256.5V244.8H253.4zM228.8 244.8H231.9V247.9H228.8zM284.1 247.9H287.1V250.9H284.1zM302.5 247.9H305.6V250.9H302.5zM305.6 247.9H308.6V250.9H305.6zM290.2 250.9H293.3V253.9H290.2zM293.3 250.9H296.4V253.9H293.3zM296.4 250.9H299.4V253.9H296.4zM299.4 250.9H302.5V253.9H299.4zM302.5 250.9H305.6V253.9H302.5z"/>
<path fill="#ff7c00" d="M284.1 259.9H287.1V263.0H284.1z"/>
<path fill="#ff6f00" d="M287.1 263.0H290.2V266.0H287.1z"/>
<path fill="#ffaa00" d="M296.4 269.0H299.4V272.0H296.4z"/></g>
<rect x="42.50" y="48.90" width="144.20" height="71.40" fill="none" stroke="#444" stroke-width="1.4"/>
<path d="M60.52 48.90v2.8M60.52 120.30v-2.8" stroke="#222" stroke-width="1.1"/>
<path d="M87.56 48.90v2.8M87.56 120.30v-2.8" stroke="#222" stroke-width="1.1"/>
<path d="M114.60 48.90v2.8M114.60 120.30v-2.8" stroke="#222" stroke-width="1.1"/>
<path d="M141.64 48.90v2.8M141.64 120.30v-2.8" stroke="#222" stroke-width="1.1"/>
<path d="M168.67 48.90v2.8M168.67 120.30v-2.8" stroke="#222" stroke-width="1.1"/>
<path d="M42.50 111.38h2.8M186.70 111.38h-2.8" stroke="#222" stroke-width="1.1"/>
<text x="40.90" y="116.28" class="tk" text-anchor="end">75</text>
<path d="M42.50 84.60h2.8M186.70 84.60h-2.8" stroke="#222" stroke-width="1.1"/>
<text x="40.90" y="89.50" class="tk" text-anchor="end">90</text>
<path d="M42.50 57.82h2.8M186.70 57.82h-2.8" stroke="#222" stroke-width="1.1"/>
<text x="40.90" y="62.72" class="tk" text-anchor="end">105</text>
<rect x="42.50" y="130.20" width="144.20" height="71.00" fill="none" stroke="#444" stroke-width="1.4"/>
<path d="M60.52 130.20v2.8M60.52 201.20v-2.8" stroke="#222" stroke-width="1.1"/>
<path d="M87.56 130.20v2.8M87.56 201.20v-2.8" stroke="#222" stroke-width="1.1"/>
<path d="M114.60 130.20v2.8M114.60 201.20v-2.8" stroke="#222" stroke-width="1.1"/>
<path d="M141.64 130.20v2.8M141.64 201.20v-2.8" stroke="#222" stroke-width="1.1"/>
<path d="M168.67 130.20v2.8M168.67 201.20v-2.8" stroke="#222" stroke-width="1.1"/>
<path d="M42.50 192.32h2.8M186.70 192.32h-2.8" stroke="#222" stroke-width="1.1"/>
<text x="40.90" y="197.22" class="tk" text-anchor="end">75</text>
<path d="M42.50 165.70h2.8M186.70 165.70h-2.8" stroke="#222" stroke-width="1.1"/>
<text x="40.90" y="170.60" class="tk" text-anchor="end">90</text>
<path d="M42.50 139.07h2.8M186.70 139.07h-2.8" stroke="#222" stroke-width="1.1"/>
<text x="40.90" y="143.97" class="tk" text-anchor="end">105</text>
<rect x="42.50" y="209.50" width="144.20" height="71.10" fill="none" stroke="#444" stroke-width="1.4"/>
<path d="M60.52 209.50v2.8M60.52 280.60v-2.8" stroke="#222" stroke-width="1.1"/>
<text x="58.73" y="292.60" class="tk" text-anchor="middle">-30</text>
<path d="M87.56 209.50v2.8M87.56 280.60v-2.8" stroke="#222" stroke-width="1.1"/>
<text x="85.76" y="292.60" class="tk" text-anchor="middle">-15</text>
<path d="M114.60 209.50v2.8M114.60 280.60v-2.8" stroke="#222" stroke-width="1.1"/>
<text x="114.60" y="292.60" class="tk" text-anchor="middle">0</text>
<path d="M141.64 209.50v2.8M141.64 280.60v-2.8" stroke="#222" stroke-width="1.1"/>
<text x="141.64" y="292.60" class="tk" text-anchor="middle">15</text>
<path d="M168.67 209.50v2.8M168.67 280.60v-2.8" stroke="#222" stroke-width="1.1"/>
<text x="168.67" y="292.60" class="tk" text-anchor="middle">30</text>
<path d="M42.50 271.71h2.8M186.70 271.71h-2.8" stroke="#222" stroke-width="1.1"/>
<text x="40.90" y="276.61" class="tk" text-anchor="end">75</text>
<path d="M42.50 245.05h2.8M186.70 245.05h-2.8" stroke="#222" stroke-width="1.1"/>
<text x="40.90" y="249.95" class="tk" text-anchor="end">90</text>
<path d="M42.50 218.39h2.8M186.70 218.39h-2.8" stroke="#222" stroke-width="1.1"/>
<text x="40.90" y="223.29" class="tk" text-anchor="end">105</text>
<rect x="195.00" y="48.80" width="144.40" height="72.80" fill="none" stroke="#444" stroke-width="1.4"/>
<path d="M213.05 48.80v2.8M213.05 121.60v-2.8" stroke="#222" stroke-width="1.1"/>
<path d="M240.12 48.80v2.8M240.12 121.60v-2.8" stroke="#222" stroke-width="1.1"/>
<path d="M267.20 48.80v2.8M267.20 121.60v-2.8" stroke="#222" stroke-width="1.1"/>
<path d="M294.27 48.80v2.8M294.27 121.60v-2.8" stroke="#222" stroke-width="1.1"/>
<path d="M321.35 48.80v2.8M321.35 121.60v-2.8" stroke="#222" stroke-width="1.1"/>
<path d="M195.00 112.50h2.8M339.40 112.50h-2.8" stroke="#222" stroke-width="1.1"/>
<path d="M195.00 85.20h2.8M339.40 85.20h-2.8" stroke="#222" stroke-width="1.1"/>
<path d="M195.00 57.90h2.8M339.40 57.90h-2.8" stroke="#222" stroke-width="1.1"/>
<rect x="195.00" y="130.40" width="144.40" height="70.70" fill="none" stroke="#444" stroke-width="1.4"/>
<path d="M213.05 130.40v2.8M213.05 201.10v-2.8" stroke="#222" stroke-width="1.1"/>
<path d="M240.12 130.40v2.8M240.12 201.10v-2.8" stroke="#222" stroke-width="1.1"/>
<path d="M267.20 130.40v2.8M267.20 201.10v-2.8" stroke="#222" stroke-width="1.1"/>
<path d="M294.27 130.40v2.8M294.27 201.10v-2.8" stroke="#222" stroke-width="1.1"/>
<path d="M321.35 130.40v2.8M321.35 201.10v-2.8" stroke="#222" stroke-width="1.1"/>
<path d="M195.00 192.26h2.8M339.40 192.26h-2.8" stroke="#222" stroke-width="1.1"/>
<path d="M195.00 165.75h2.8M339.40 165.75h-2.8" stroke="#222" stroke-width="1.1"/>
<path d="M195.00 139.24h2.8M339.40 139.24h-2.8" stroke="#222" stroke-width="1.1"/>
<rect x="195.00" y="209.50" width="144.40" height="71.10" fill="none" stroke="#444" stroke-width="1.4"/>
<path d="M213.05 209.50v2.8M213.05 280.60v-2.8" stroke="#222" stroke-width="1.1"/>
<text x="211.25" y="292.60" class="tk" text-anchor="middle">-30</text>
<path d="M240.12 209.50v2.8M240.12 280.60v-2.8" stroke="#222" stroke-width="1.1"/>
<text x="238.32" y="292.60" class="tk" text-anchor="middle">-15</text>
<path d="M267.20 209.50v2.8M267.20 280.60v-2.8" stroke="#222" stroke-width="1.1"/>
<text x="267.20" y="292.60" class="tk" text-anchor="middle">0</text>
<path d="M294.27 209.50v2.8M294.27 280.60v-2.8" stroke="#222" stroke-width="1.1"/>
<text x="294.27" y="292.60" class="tk" text-anchor="middle">15</text>
<path d="M321.35 209.50v2.8M321.35 280.60v-2.8" stroke="#222" stroke-width="1.1"/>
<text x="321.35" y="292.60" class="tk" text-anchor="middle">30</text>
<path d="M195.00 271.71h2.8M339.40 271.71h-2.8" stroke="#222" stroke-width="1.1"/>
<path d="M195.00 245.05h2.8M339.40 245.05h-2.8" stroke="#222" stroke-width="1.1"/>
<path d="M195.00 218.39h2.8M339.40 218.39h-2.8" stroke="#222" stroke-width="1.1"/>
<defs><linearGradient id="cb" x1="0" x2="1" y1="0" y2="0"><stop offset="0.0000" stop-color="#000080"/><stop offset="0.0890" stop-color="#0000bf"/><stop offset="0.1780" stop-color="#0000ff"/><stop offset="0.2900" stop-color="#0081ff"/><stop offset="0.4000" stop-color="#00ffff"/><stop offset="0.4500" stop-color="#00ff80"/><stop offset="0.5000" stop-color="#00ff00"/><stop offset="0.5500" stop-color="#79ff00"/><stop offset="0.6050" stop-color="#ffff00"/><stop offset="0.7000" stop-color="#ff8300"/><stop offset="0.8000" stop-color="#ff0000"/><stop offset="0.9000" stop-color="#bf0000"/><stop offset="1.0000" stop-color="#800000"/></linearGradient></defs>
<rect x="79.20" y="17.50" width="162.40" height="16.00" fill="url(#cb)" stroke="#333" stroke-width="0.9"/>
<path d="M105.30 17.50v2M105.30 33.50v-2" stroke="#222" stroke-width="1"/>
<path d="M132.30 17.50v2M132.30 33.50v-2" stroke="#222" stroke-width="1"/>
<path d="M159.30 17.50v2M159.30 33.50v-2" stroke="#222" stroke-width="1"/>
<path d="M186.30 17.50v2M186.30 33.50v-2" stroke="#222" stroke-width="1"/>
<path d="M213.30 17.50v2M213.30 33.50v-2" stroke="#222" stroke-width="1"/>
<text x="98.7" y="12.8" class="cbl" text-anchor="middle">−0.04</text>
<text x="158.1" y="12.8" class="cbl" text-anchor="middle">0</text>
<text x="208.7" y="12.8" class="cbl" text-anchor="middle">0.04</text>
<text x="250" y="32.6" class="dil">δI/I</text>
<text x="50.10" y="111.90" class="pl">(a)</text>
<text x="50.10" y="193.20" class="pl">(b)</text>
<text x="50.10" y="272.50" class="pl">(c)</text>
<text x="202.60" y="111.80" class="pl">(d)</text>
<text x="202.60" y="193.40" class="pl">(e)</text>
<text x="202.60" y="272.50" class="pl">(f)</text>
<text x="180" y="63.0" class="ob" text-anchor="end">1700 Oe</text>
<text x="180.6" y="144.1" class="ob" text-anchor="end">0 Oe</text>
<text x="179.8" y="224.0" class="ob" text-anchor="end">−300 Oe</text>
<text x="334.8" y="61.8" class="ob" text-anchor="end">R<tspan class="sup" dy="-4">2</tspan><tspan dy="4"> = 0.9987</tspan></text>
<text x="334.2" y="142.8" class="ob" text-anchor="end">R<tspan class="sup" dy="-4">2</tspan><tspan dy="4"> = 0.9964</tspan></text>
<text x="334.2" y="222.8" class="ob" text-anchor="end">R<tspan class="sup" dy="-4">2</tspan><tspan dy="4"> = 0.9954</tspan></text>
<polygon points="75.4,148.4 116.2,148.4 156.8,185.6 114.5,185.6" fill="none" stroke="#1e62c8" stroke-width="1.6" stroke-dasharray="3.6,2.2"/>
<rect x="96.8" y="148.4" width="38.6" height="37.3" fill="none" stroke="#000" stroke-width="1.6"/>
<text x="151.2" y="313.2" class="al"><tspan class="th">θ</tspan><tspan class="sub" dy="2.5">2</tspan><tspan dy="-2.5" dx="2"> (deg.)</tspan></text>
<g transform="translate(16.6,194) rotate(-90)"><text x="0" y="0" class="al"><tspan class="th">θ</tspan><tspan class="sub" dy="2.5">1</tspan><tspan dy="-2.5" dx="2"> (deg.)</tspan></text></g>
</svg>
</body></html>
